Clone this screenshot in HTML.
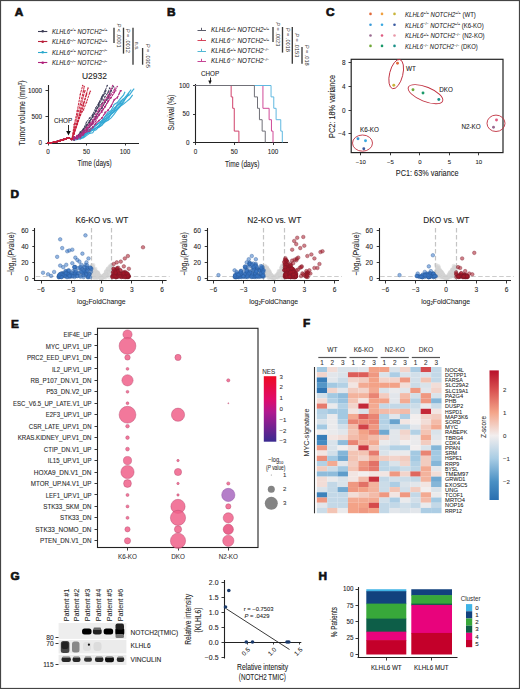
<!DOCTYPE html>
<html><head><meta charset="utf-8"><style>html,body{margin:0;padding:0;background:#fff;width:520px;height:689px;overflow:hidden}svg{display:block}text{font-family:"Liberation Sans", sans-serif}</style></head>
<body><svg width="520" height="689" viewBox="0 0 520 689" font-family='"Liberation Sans", sans-serif'><rect x="0.00" y="0.00" width="520.00" height="689.00" fill="#fff" />
<rect x="0.5" y="0.5" width="519" height="688" fill="none" stroke="#444" stroke-width="1.2"/>
<text x="14.70" y="16.17" font-size="11.8" text-anchor="start" fill="#111" stroke="#111" stroke-width="0.7" font-weight="bold" font-style="normal" >A</text>
<text x="167.00" y="16.17" font-size="11.8" text-anchor="start" fill="#111" stroke="#111" stroke-width="0.7" font-weight="bold" font-style="normal" >B</text>
<text x="325.90" y="16.47" font-size="11.8" text-anchor="start" fill="#111" stroke="#111" stroke-width="0.7" font-weight="bold" font-style="normal" >C</text>
<text x="10.50" y="198.17" font-size="11.8" text-anchor="start" fill="#111" stroke="#111" stroke-width="0.7" font-weight="bold" font-style="normal" >D</text>
<text x="10.90" y="327.57" font-size="11.8" text-anchor="start" fill="#111" stroke="#111" stroke-width="0.7" font-weight="bold" font-style="normal" >E</text>
<text x="303.10" y="327.47" font-size="11.8" text-anchor="start" fill="#111" stroke="#111" stroke-width="0.7" font-weight="bold" font-style="normal" >F</text>
<text x="10.50" y="579.87" font-size="11.8" text-anchor="start" fill="#111" stroke="#111" stroke-width="0.7" font-weight="bold" font-style="normal" >G</text>
<text x="318.40" y="579.67" font-size="11.8" text-anchor="start" fill="#111" stroke="#111" stroke-width="0.7" font-weight="bold" font-style="normal" >H</text>
<line x1="38.00" y1="31.50" x2="47.30" y2="31.50" stroke="#3d3d55" stroke-width="1.1" />
<circle cx="42.70" cy="31.20" r="1.30" fill="#3d3d55" fill-opacity="1" />
<text x="52" y="33.50" font-size="6.6" font-style="italic" fill="#222" stroke="#222" stroke-width="0.06" textLength="55.4" lengthAdjust="spacingAndGlyphs">KLHL6<tspan font-size="4.4" dy="-2.4">+/+</tspan><tspan dy="2.4"> NOTCH2</tspan><tspan font-size="4.4" dy="-2.4">+/+</tspan></text>
<line x1="38.00" y1="41.50" x2="47.30" y2="41.50" stroke="#b8203a" stroke-width="1.1" />
<circle cx="42.70" cy="41.70" r="1.30" fill="#b8203a" fill-opacity="1" />
<text x="52" y="44.00" font-size="6.6" font-style="italic" fill="#222" stroke="#222" stroke-width="0.06" textLength="55.4" lengthAdjust="spacingAndGlyphs">KLHL6<tspan font-size="4.4" dy="-2.4">−/−</tspan><tspan dy="2.4"> NOTCH2</tspan><tspan font-size="4.4" dy="-2.4">+/+</tspan></text>
<line x1="38.00" y1="52.50" x2="47.30" y2="52.50" stroke="#2aa8cc" stroke-width="1.1" />
<circle cx="42.70" cy="52.20" r="1.30" fill="#2aa8cc" fill-opacity="1" />
<text x="52" y="54.50" font-size="6.6" font-style="italic" fill="#222" stroke="#222" stroke-width="0.06" textLength="55.4" lengthAdjust="spacingAndGlyphs">KLHL6<tspan font-size="4.4" dy="-2.4">+/+</tspan><tspan dy="2.4"> NOTCH2</tspan><tspan font-size="4.4" dy="-2.4">−/−</tspan></text>
<line x1="38.00" y1="62.50" x2="47.30" y2="62.50" stroke="#b0207a" stroke-width="1.1" />
<circle cx="42.70" cy="62.70" r="1.30" fill="#b0207a" fill-opacity="1" />
<text x="52" y="65.00" font-size="6.6" font-style="italic" fill="#222" stroke="#222" stroke-width="0.06" textLength="55.4" lengthAdjust="spacingAndGlyphs">KLHL6<tspan font-size="4.4" dy="-2.4">−/−</tspan><tspan dy="2.4"> NOTCH2</tspan><tspan font-size="4.4" dy="-2.4">−/−</tspan></text>
<line x1="114.00" y1="27.70" x2="114.00" y2="43.00" stroke="#3a3a3a" stroke-width="1.35" />
<line x1="123.50" y1="27.70" x2="123.50" y2="53.60" stroke="#3a3a3a" stroke-width="1.35" />
<line x1="133.00" y1="27.70" x2="133.00" y2="64.70" stroke="#3a3a3a" stroke-width="1.35" />
<line x1="142.60" y1="48.00" x2="142.60" y2="64.70" stroke="#3a3a3a" stroke-width="1.35" />
<text x="118.80" y="35.50" font-size="5.6" text-anchor="middle" fill="#333" transform="rotate(90 118.80 35.50)" dy="2"><tspan font-style="italic">P</tspan> &lt; .0001</text>
<text x="128.00" y="40.80" font-size="5.6" text-anchor="middle" fill="#333" transform="rotate(90 128.00 40.80)" dy="2"><tspan font-style="italic">P</tspan> = .0012</text>
<text x="137.00" y="46.00" font-size="5.6" text-anchor="middle" fill="#333" transform="rotate(90 137.00 46.00)" dy="2">n.s.</text>
<text x="148.00" y="55.80" font-size="5.6" text-anchor="middle" fill="#333" transform="rotate(90 148.00 55.80)" dy="2"><tspan font-style="italic">P</tspan> = .0305</text>
<text x="94.40" y="78.79" font-size="9.4" text-anchor="middle" fill="#222" stroke="#222" stroke-width="0.08" font-weight="normal" font-style="normal" textLength="25" lengthAdjust="spacingAndGlyphs" >U2932</text>
<line x1="48.50" y1="85.00" x2="48.50" y2="143.50" stroke="#222" stroke-width="1.1" />
<line x1="47.50" y1="143.50" x2="139.00" y2="143.50" stroke="#222" stroke-width="1.1" />
<line x1="45.50" y1="143.50" x2="48.00" y2="143.50" stroke="#222" stroke-width="0.9" />
<text x="42.00" y="145.17" font-size="6.3" text-anchor="end" fill="#222" stroke="#222" stroke-width="0.08" font-weight="normal" font-style="normal" >0</text>
<line x1="45.50" y1="116.50" x2="48.00" y2="116.50" stroke="#222" stroke-width="0.9" />
<text x="42.00" y="119.02" font-size="6.3" text-anchor="end" fill="#222" stroke="#222" stroke-width="0.08" font-weight="normal" font-style="normal" >500</text>
<line x1="45.50" y1="90.50" x2="48.00" y2="90.50" stroke="#222" stroke-width="0.9" />
<text x="42.00" y="92.87" font-size="6.3" text-anchor="end" fill="#222" stroke="#222" stroke-width="0.08" font-weight="normal" font-style="normal" >1000</text>
<line x1="48.50" y1="143.00" x2="48.50" y2="145.50" stroke="#222" stroke-width="0.9" />
<text x="48.00" y="154.27" font-size="6.3" text-anchor="middle" fill="#222" stroke="#222" stroke-width="0.08" font-weight="normal" font-style="normal" >0</text>
<line x1="86.50" y1="143.00" x2="86.50" y2="145.50" stroke="#222" stroke-width="0.9" />
<text x="86.50" y="154.27" font-size="6.3" text-anchor="middle" fill="#222" stroke="#222" stroke-width="0.08" font-weight="normal" font-style="normal" >50</text>
<line x1="125.50" y1="143.00" x2="125.50" y2="145.50" stroke="#222" stroke-width="0.9" />
<text x="125.00" y="154.27" font-size="6.3" text-anchor="middle" fill="#222" stroke="#222" stroke-width="0.08" font-weight="normal" font-style="normal" >100</text>
<text x="94.65" y="166.20" font-size="8.7" text-anchor="middle" fill="#222" stroke="#222" stroke-width="0.08" font-weight="normal" font-style="normal" textLength="34.3" lengthAdjust="spacingAndGlyphs" >Time (days)</text>
<text x="22.30" y="116.00" font-size="8.7" text-anchor="middle" fill="#222" stroke="#222" stroke-width="0.08" font-weight="normal" font-style="normal" transform="rotate(-90 22.30 113.00)" textLength="65" lengthAdjust="spacingAndGlyphs" >Tumor volume (mm<tspan font-size="5.5" dy="-3">3</tspan><tspan dy="3">)</tspan></text>
<text x="63.00" y="123.17" font-size="6.3" text-anchor="middle" fill="#222" stroke="#222" stroke-width="0.08" font-weight="normal" font-style="normal" >CHOP</text>
<line x1="68.50" y1="125.00" x2="68.50" y2="132.00" stroke="#111" stroke-width="0.9" />
<path d="M66.2,131 L68.5,135.5 L70.8,131 Z" fill="#111"/>
<path d="M48.0,143.0 L51.1,142.7 L54.2,142.2 L57.2,141.5 L60.3,140.6 L63.4,139.7 L66.5,138.6 L68.8,137.8 L71.9,139.3 L74.2,138.3 L77.3,137.4 L80.3,136.4 L83.4,135.4 L86.5,131.5 L89.6,129.2 L92.7,127.6 L95.7,125.0 L98.8,123.0 L101.9,120.7 L105.0,116.3 L108.1,112.3 L111.1,110.4 L114.2,104.5 L117.3,102.5 L120.4,98.7 L123.5,95.2 L125.0,91.7" fill="none" stroke="#30a8d4" stroke-width="1.15" stroke-opacity="0.95"/>
<path d="M48.0,143.0 L51.1,142.7 L54.2,142.2 L57.2,141.5 L60.3,140.6 L63.4,139.7 L66.5,138.6 L68.8,137.8 L71.9,139.3 L74.2,138.4 L77.3,137.4 L80.3,137.3 L83.4,138.0 L86.5,135.6 L89.6,133.4 L92.7,132.7 L95.7,127.9 L98.8,127.3 L101.9,125.4 L105.0,120.5 L108.1,119.7 L111.1,114.0 L114.2,112.1 L117.3,108.2 L120.4,105.1 L123.5,100.7 L126.5,97.5 L128.9,93.3" fill="none" stroke="#30a8d4" stroke-width="1.15" stroke-opacity="0.95"/>
<path d="M48.0,143.0 L51.1,142.7 L54.2,142.2 L57.2,141.5 L60.3,140.6 L63.4,139.7 L66.5,138.6 L68.8,137.8 L71.9,139.3 L74.2,137.8 L77.3,138.7 L80.3,135.6 L83.4,135.7 L86.5,131.4 L89.6,129.6 L92.7,127.8 L95.7,125.4 L98.8,123.4 L101.9,120.2 L105.0,119.3 L108.1,115.3 L111.1,111.1 L114.2,109.9 L117.3,104.3 L120.4,101.1 L123.5,99.1 L126.5,95.6 L129.6,91.7 L131.2,89.7" fill="none" stroke="#30a8d4" stroke-width="1.15" stroke-opacity="0.95"/>
<path d="M48.0,143.0 L51.1,142.7 L54.2,142.2 L57.2,141.5 L60.3,140.6 L63.4,139.7 L66.5,138.6 L68.8,137.8 L71.9,139.3 L74.2,137.5 L77.3,138.6 L80.3,138.6 L83.4,137.0 L86.5,133.4 L89.6,130.7 L92.7,130.3 L95.7,128.1 L98.8,125.5 L101.9,122.4 L105.0,121.4 L108.1,117.4 L111.1,114.6 L114.2,111.3 L117.3,109.5 L120.4,106.1 L123.5,102.1 L126.5,96.7 L129.6,94.8 L132.7,90.3 L134.2,88.6" fill="none" stroke="#30a8d4" stroke-width="1.15" stroke-opacity="0.95"/>
<path d="M48.0,143.0 L51.1,142.7 L54.2,142.2 L57.2,141.5 L60.3,140.6 L63.4,139.7 L66.5,138.6 L68.8,137.8 L71.9,139.3 L74.2,140.2 L77.3,139.4 L80.3,135.8 L83.4,134.4 L86.5,133.9 L89.6,130.9 L92.7,128.7 L95.7,125.7 L98.8,122.9 L101.9,121.9 L105.0,117.2 L108.1,114.3 L111.1,112.3 L114.2,108.0 L117.3,105.8 L120.4,102.6 L123.5,98.5" fill="none" stroke="#30a8d4" stroke-width="1.15" stroke-opacity="0.95"/>
<path d="M48.0,143.0 L51.1,142.7 L54.2,142.2 L57.2,141.5 L60.3,140.6 L63.4,139.7 L66.5,138.6 L68.8,137.8 L71.9,139.3 L74.2,137.9 L77.3,139.3 L80.3,138.5 L83.4,134.8 L86.5,133.4 L89.6,132.6 L92.7,129.6 L95.7,130.1 L98.8,127.2 L101.9,124.8 L105.0,122.0 L108.1,120.2 L111.1,117.9 L114.2,114.2 L117.3,109.6 L120.4,106.3 L123.5,104.0 L126.5,101.6 L129.6,99.0 L132.7,94.9" fill="none" stroke="#30a8d4" stroke-width="1.15" stroke-opacity="0.95"/>
<path d="M48.0,143.0 L51.1,142.7 L54.2,142.2 L57.2,141.5 L60.3,140.6 L63.4,139.7 L66.5,138.6 L68.8,137.8 L71.9,139.3 L74.2,139.1 L77.3,137.8 L80.3,139.0 L83.4,137.2 L86.5,133.7 L89.6,132.0 L92.7,129.6 L95.7,128.2 L98.8,126.2 L101.9,122.9 L105.0,119.1 L108.1,117.6 L111.1,113.5 L114.2,110.7 L117.3,105.4 L120.4,103.7 L121.2,101.2" fill="none" stroke="#30a8d4" stroke-width="1.15" stroke-opacity="0.95"/>
<path d="M48.0,143.0 L51.1,142.7 L54.2,142.2 L57.2,141.5 L60.3,140.6 L63.4,139.7 L66.5,138.6 L68.8,137.8 L71.9,139.3 L74.2,137.2 L77.3,138.0 L80.3,133.4 L83.4,129.8 L86.5,125.1 L89.6,121.3 L92.7,117.3 L95.7,111.4 L98.8,103.8 L101.9,97.7 L105.0,93.6 L105.8,90.7" fill="none" stroke="#3d3d5a" stroke-width="1.0" stroke-dasharray="2.6,0.7" stroke-opacity="0.95"/>
<circle cx="48.00" cy="143.00" r="0.80" fill="#3d3d5a" fill-opacity="0.9" />
<circle cx="51.08" cy="142.70" r="0.80" fill="#3d3d5a" fill-opacity="0.9" />
<circle cx="54.16" cy="142.16" r="0.80" fill="#3d3d5a" fill-opacity="0.9" />
<circle cx="57.24" cy="141.45" r="0.80" fill="#3d3d5a" fill-opacity="0.9" />
<circle cx="60.32" cy="140.61" r="0.80" fill="#3d3d5a" fill-opacity="0.9" />
<circle cx="63.40" cy="139.67" r="0.80" fill="#3d3d5a" fill-opacity="0.9" />
<circle cx="66.48" cy="138.62" r="0.80" fill="#3d3d5a" fill-opacity="0.9" />
<circle cx="68.79" cy="137.77" r="0.80" fill="#3d3d5a" fill-opacity="0.9" />
<circle cx="71.87" cy="139.34" r="0.80" fill="#3d3d5a" fill-opacity="0.9" />
<circle cx="74.18" cy="137.17" r="0.80" fill="#3d3d5a" fill-opacity="0.9" />
<circle cx="77.26" cy="138.05" r="0.80" fill="#3d3d5a" fill-opacity="0.9" />
<circle cx="80.34" cy="133.42" r="0.80" fill="#3d3d5a" fill-opacity="0.9" />
<circle cx="83.42" cy="129.77" r="0.80" fill="#3d3d5a" fill-opacity="0.9" />
<circle cx="86.50" cy="125.06" r="0.80" fill="#3d3d5a" fill-opacity="0.9" />
<circle cx="89.58" cy="121.34" r="0.80" fill="#3d3d5a" fill-opacity="0.9" />
<circle cx="92.66" cy="117.35" r="0.80" fill="#3d3d5a" fill-opacity="0.9" />
<circle cx="95.74" cy="111.43" r="0.80" fill="#3d3d5a" fill-opacity="0.9" />
<circle cx="98.82" cy="103.83" r="0.80" fill="#3d3d5a" fill-opacity="0.9" />
<circle cx="101.90" cy="97.75" r="0.80" fill="#3d3d5a" fill-opacity="0.9" />
<circle cx="104.98" cy="93.56" r="0.80" fill="#3d3d5a" fill-opacity="0.9" />
<circle cx="105.75" cy="90.70" r="0.80" fill="#3d3d5a" fill-opacity="0.9" />
<path d="M48.0,143.0 L51.1,142.7 L54.2,142.2 L57.2,141.5 L60.3,140.6 L63.4,139.7 L66.5,138.6 L68.8,137.8 L71.9,139.3 L74.2,139.4 L77.3,136.8 L80.3,132.0 L83.4,129.0 L86.5,122.3 L89.6,118.1 L92.7,114.7 L95.7,108.0 L98.8,102.9 L101.9,96.5 L105.0,91.1 L107.3,85.5" fill="none" stroke="#3d3d5a" stroke-width="1.0" stroke-dasharray="2.6,0.7" stroke-opacity="0.95"/>
<circle cx="48.00" cy="143.00" r="0.80" fill="#3d3d5a" fill-opacity="0.9" />
<circle cx="51.08" cy="142.70" r="0.80" fill="#3d3d5a" fill-opacity="0.9" />
<circle cx="54.16" cy="142.16" r="0.80" fill="#3d3d5a" fill-opacity="0.9" />
<circle cx="57.24" cy="141.45" r="0.80" fill="#3d3d5a" fill-opacity="0.9" />
<circle cx="60.32" cy="140.61" r="0.80" fill="#3d3d5a" fill-opacity="0.9" />
<circle cx="63.40" cy="139.67" r="0.80" fill="#3d3d5a" fill-opacity="0.9" />
<circle cx="66.48" cy="138.62" r="0.80" fill="#3d3d5a" fill-opacity="0.9" />
<circle cx="68.79" cy="137.77" r="0.80" fill="#3d3d5a" fill-opacity="0.9" />
<circle cx="71.87" cy="139.34" r="0.80" fill="#3d3d5a" fill-opacity="0.9" />
<circle cx="74.18" cy="139.36" r="0.80" fill="#3d3d5a" fill-opacity="0.9" />
<circle cx="77.26" cy="136.81" r="0.80" fill="#3d3d5a" fill-opacity="0.9" />
<circle cx="80.34" cy="132.01" r="0.80" fill="#3d3d5a" fill-opacity="0.9" />
<circle cx="83.42" cy="128.97" r="0.80" fill="#3d3d5a" fill-opacity="0.9" />
<circle cx="86.50" cy="122.26" r="0.80" fill="#3d3d5a" fill-opacity="0.9" />
<circle cx="89.58" cy="118.13" r="0.80" fill="#3d3d5a" fill-opacity="0.9" />
<circle cx="92.66" cy="114.67" r="0.80" fill="#3d3d5a" fill-opacity="0.9" />
<circle cx="95.74" cy="107.95" r="0.80" fill="#3d3d5a" fill-opacity="0.9" />
<circle cx="98.82" cy="102.93" r="0.80" fill="#3d3d5a" fill-opacity="0.9" />
<circle cx="101.90" cy="96.45" r="0.80" fill="#3d3d5a" fill-opacity="0.9" />
<circle cx="104.98" cy="91.13" r="0.80" fill="#3d3d5a" fill-opacity="0.9" />
<circle cx="107.29" cy="85.47" r="0.80" fill="#3d3d5a" fill-opacity="0.9" />
<path d="M48.0,143.0 L51.1,142.7 L54.2,142.2 L57.2,141.5 L60.3,140.6 L63.4,139.7 L66.5,138.6 L68.8,137.8 L71.9,139.3 L74.2,139.3 L77.3,136.4 L80.3,132.3 L83.4,129.4 L86.5,127.2 L89.6,120.9 L92.7,115.9 L95.7,111.5 L98.8,106.4 L101.9,103.6 L105.0,96.8 L108.1,92.4 L109.6,88.1" fill="none" stroke="#3d3d5a" stroke-width="1.0" stroke-dasharray="2.6,0.7" stroke-opacity="0.95"/>
<circle cx="48.00" cy="143.00" r="0.80" fill="#3d3d5a" fill-opacity="0.9" />
<circle cx="51.08" cy="142.70" r="0.80" fill="#3d3d5a" fill-opacity="0.9" />
<circle cx="54.16" cy="142.16" r="0.80" fill="#3d3d5a" fill-opacity="0.9" />
<circle cx="57.24" cy="141.45" r="0.80" fill="#3d3d5a" fill-opacity="0.9" />
<circle cx="60.32" cy="140.61" r="0.80" fill="#3d3d5a" fill-opacity="0.9" />
<circle cx="63.40" cy="139.67" r="0.80" fill="#3d3d5a" fill-opacity="0.9" />
<circle cx="66.48" cy="138.62" r="0.80" fill="#3d3d5a" fill-opacity="0.9" />
<circle cx="68.79" cy="137.77" r="0.80" fill="#3d3d5a" fill-opacity="0.9" />
<circle cx="71.87" cy="139.34" r="0.80" fill="#3d3d5a" fill-opacity="0.9" />
<circle cx="74.18" cy="139.30" r="0.80" fill="#3d3d5a" fill-opacity="0.9" />
<circle cx="77.26" cy="136.36" r="0.80" fill="#3d3d5a" fill-opacity="0.9" />
<circle cx="80.34" cy="132.35" r="0.80" fill="#3d3d5a" fill-opacity="0.9" />
<circle cx="83.42" cy="129.41" r="0.80" fill="#3d3d5a" fill-opacity="0.9" />
<circle cx="86.50" cy="127.16" r="0.80" fill="#3d3d5a" fill-opacity="0.9" />
<circle cx="89.58" cy="120.90" r="0.80" fill="#3d3d5a" fill-opacity="0.9" />
<circle cx="92.66" cy="115.91" r="0.80" fill="#3d3d5a" fill-opacity="0.9" />
<circle cx="95.74" cy="111.48" r="0.80" fill="#3d3d5a" fill-opacity="0.9" />
<circle cx="98.82" cy="106.42" r="0.80" fill="#3d3d5a" fill-opacity="0.9" />
<circle cx="101.90" cy="103.65" r="0.80" fill="#3d3d5a" fill-opacity="0.9" />
<circle cx="104.98" cy="96.76" r="0.80" fill="#3d3d5a" fill-opacity="0.9" />
<circle cx="108.06" cy="92.36" r="0.80" fill="#3d3d5a" fill-opacity="0.9" />
<circle cx="109.60" cy="88.09" r="0.80" fill="#3d3d5a" fill-opacity="0.9" />
<path d="M48.0,143.0 L51.1,142.7 L54.2,142.2 L57.2,141.5 L60.3,140.6 L63.4,139.7 L66.5,138.6 L68.8,137.8 L71.9,139.3 L74.2,139.8 L77.3,136.6 L80.3,135.8 L83.4,131.7 L86.5,129.7 L89.6,126.9 L92.7,121.9 L95.7,117.8 L98.8,111.2 L101.9,108.1 L105.0,102.2 L108.1,96.4 L111.1,90.7" fill="none" stroke="#3d3d5a" stroke-width="1.0" stroke-dasharray="2.6,0.7" stroke-opacity="0.95"/>
<circle cx="48.00" cy="143.00" r="0.80" fill="#3d3d5a" fill-opacity="0.9" />
<circle cx="51.08" cy="142.70" r="0.80" fill="#3d3d5a" fill-opacity="0.9" />
<circle cx="54.16" cy="142.16" r="0.80" fill="#3d3d5a" fill-opacity="0.9" />
<circle cx="57.24" cy="141.45" r="0.80" fill="#3d3d5a" fill-opacity="0.9" />
<circle cx="60.32" cy="140.61" r="0.80" fill="#3d3d5a" fill-opacity="0.9" />
<circle cx="63.40" cy="139.67" r="0.80" fill="#3d3d5a" fill-opacity="0.9" />
<circle cx="66.48" cy="138.62" r="0.80" fill="#3d3d5a" fill-opacity="0.9" />
<circle cx="68.79" cy="137.77" r="0.80" fill="#3d3d5a" fill-opacity="0.9" />
<circle cx="71.87" cy="139.34" r="0.80" fill="#3d3d5a" fill-opacity="0.9" />
<circle cx="74.18" cy="139.80" r="0.80" fill="#3d3d5a" fill-opacity="0.9" />
<circle cx="77.26" cy="136.56" r="0.80" fill="#3d3d5a" fill-opacity="0.9" />
<circle cx="80.34" cy="135.80" r="0.80" fill="#3d3d5a" fill-opacity="0.9" />
<circle cx="83.42" cy="131.68" r="0.80" fill="#3d3d5a" fill-opacity="0.9" />
<circle cx="86.50" cy="129.70" r="0.80" fill="#3d3d5a" fill-opacity="0.9" />
<circle cx="89.58" cy="126.95" r="0.80" fill="#3d3d5a" fill-opacity="0.9" />
<circle cx="92.66" cy="121.87" r="0.80" fill="#3d3d5a" fill-opacity="0.9" />
<circle cx="95.74" cy="117.78" r="0.80" fill="#3d3d5a" fill-opacity="0.9" />
<circle cx="98.82" cy="111.24" r="0.80" fill="#3d3d5a" fill-opacity="0.9" />
<circle cx="101.90" cy="108.14" r="0.80" fill="#3d3d5a" fill-opacity="0.9" />
<circle cx="104.98" cy="102.18" r="0.80" fill="#3d3d5a" fill-opacity="0.9" />
<circle cx="108.06" cy="96.43" r="0.80" fill="#3d3d5a" fill-opacity="0.9" />
<circle cx="111.14" cy="90.70" r="0.80" fill="#3d3d5a" fill-opacity="0.9" />
<path d="M48.0,143.0 L51.1,142.7 L54.2,142.2 L57.2,141.5 L60.3,140.6 L63.4,139.7 L66.5,138.6 L68.8,137.8 L71.9,139.3 L74.2,140.0 L77.3,136.5 L80.3,134.1 L83.4,130.0 L86.5,125.2 L89.6,122.7 L92.7,116.3 L95.7,111.1 L98.8,104.8 L101.9,99.7 L103.4,94.9" fill="none" stroke="#3d3d5a" stroke-width="1.0" stroke-dasharray="2.6,0.7" stroke-opacity="0.95"/>
<circle cx="48.00" cy="143.00" r="0.80" fill="#3d3d5a" fill-opacity="0.9" />
<circle cx="51.08" cy="142.70" r="0.80" fill="#3d3d5a" fill-opacity="0.9" />
<circle cx="54.16" cy="142.16" r="0.80" fill="#3d3d5a" fill-opacity="0.9" />
<circle cx="57.24" cy="141.45" r="0.80" fill="#3d3d5a" fill-opacity="0.9" />
<circle cx="60.32" cy="140.61" r="0.80" fill="#3d3d5a" fill-opacity="0.9" />
<circle cx="63.40" cy="139.67" r="0.80" fill="#3d3d5a" fill-opacity="0.9" />
<circle cx="66.48" cy="138.62" r="0.80" fill="#3d3d5a" fill-opacity="0.9" />
<circle cx="68.79" cy="137.77" r="0.80" fill="#3d3d5a" fill-opacity="0.9" />
<circle cx="71.87" cy="139.34" r="0.80" fill="#3d3d5a" fill-opacity="0.9" />
<circle cx="74.18" cy="139.98" r="0.80" fill="#3d3d5a" fill-opacity="0.9" />
<circle cx="77.26" cy="136.55" r="0.80" fill="#3d3d5a" fill-opacity="0.9" />
<circle cx="80.34" cy="134.14" r="0.80" fill="#3d3d5a" fill-opacity="0.9" />
<circle cx="83.42" cy="130.01" r="0.80" fill="#3d3d5a" fill-opacity="0.9" />
<circle cx="86.50" cy="125.23" r="0.80" fill="#3d3d5a" fill-opacity="0.9" />
<circle cx="89.58" cy="122.65" r="0.80" fill="#3d3d5a" fill-opacity="0.9" />
<circle cx="92.66" cy="116.25" r="0.80" fill="#3d3d5a" fill-opacity="0.9" />
<circle cx="95.74" cy="111.11" r="0.80" fill="#3d3d5a" fill-opacity="0.9" />
<circle cx="98.82" cy="104.82" r="0.80" fill="#3d3d5a" fill-opacity="0.9" />
<circle cx="101.90" cy="99.74" r="0.80" fill="#3d3d5a" fill-opacity="0.9" />
<circle cx="103.44" cy="94.88" r="0.80" fill="#3d3d5a" fill-opacity="0.9" />
<path d="M48.0,143.0 L51.1,142.7 L54.2,142.2 L57.2,141.5 L60.3,140.6 L63.4,139.7 L66.5,138.6 L68.8,137.8 L71.9,139.3 L74.2,137.3 L77.3,137.8 L80.3,135.7 L83.4,130.9 L86.5,130.6 L89.6,127.1 L92.7,123.2 L95.7,116.5 L98.8,112.1 L101.9,108.1 L105.0,102.2 L108.1,98.5 L111.1,90.7 L113.5,86.5" fill="none" stroke="#3d3d5a" stroke-width="1.0" stroke-dasharray="2.6,0.7" stroke-opacity="0.95"/>
<circle cx="48.00" cy="143.00" r="0.80" fill="#3d3d5a" fill-opacity="0.9" />
<circle cx="51.08" cy="142.70" r="0.80" fill="#3d3d5a" fill-opacity="0.9" />
<circle cx="54.16" cy="142.16" r="0.80" fill="#3d3d5a" fill-opacity="0.9" />
<circle cx="57.24" cy="141.45" r="0.80" fill="#3d3d5a" fill-opacity="0.9" />
<circle cx="60.32" cy="140.61" r="0.80" fill="#3d3d5a" fill-opacity="0.9" />
<circle cx="63.40" cy="139.67" r="0.80" fill="#3d3d5a" fill-opacity="0.9" />
<circle cx="66.48" cy="138.62" r="0.80" fill="#3d3d5a" fill-opacity="0.9" />
<circle cx="68.79" cy="137.77" r="0.80" fill="#3d3d5a" fill-opacity="0.9" />
<circle cx="71.87" cy="139.34" r="0.80" fill="#3d3d5a" fill-opacity="0.9" />
<circle cx="74.18" cy="137.32" r="0.80" fill="#3d3d5a" fill-opacity="0.9" />
<circle cx="77.26" cy="137.76" r="0.80" fill="#3d3d5a" fill-opacity="0.9" />
<circle cx="80.34" cy="135.73" r="0.80" fill="#3d3d5a" fill-opacity="0.9" />
<circle cx="83.42" cy="130.94" r="0.80" fill="#3d3d5a" fill-opacity="0.9" />
<circle cx="86.50" cy="130.58" r="0.80" fill="#3d3d5a" fill-opacity="0.9" />
<circle cx="89.58" cy="127.12" r="0.80" fill="#3d3d5a" fill-opacity="0.9" />
<circle cx="92.66" cy="123.19" r="0.80" fill="#3d3d5a" fill-opacity="0.9" />
<circle cx="95.74" cy="116.55" r="0.80" fill="#3d3d5a" fill-opacity="0.9" />
<circle cx="98.82" cy="112.07" r="0.80" fill="#3d3d5a" fill-opacity="0.9" />
<circle cx="101.90" cy="108.06" r="0.80" fill="#3d3d5a" fill-opacity="0.9" />
<circle cx="104.98" cy="102.22" r="0.80" fill="#3d3d5a" fill-opacity="0.9" />
<circle cx="108.06" cy="98.51" r="0.80" fill="#3d3d5a" fill-opacity="0.9" />
<circle cx="111.14" cy="90.66" r="0.80" fill="#3d3d5a" fill-opacity="0.9" />
<circle cx="113.45" cy="86.52" r="0.80" fill="#3d3d5a" fill-opacity="0.9" />
<path d="M48.0,143.0 L51.1,142.7 L54.2,142.2 L57.2,141.5 L60.3,140.6 L63.4,139.7 L66.5,138.6 L68.8,137.8 L71.9,139.3 L74.2,138.5 L77.3,137.0 L80.3,134.4 L83.4,131.9 L86.5,129.0 L89.6,123.9 L92.7,120.3 L95.7,114.4 L98.8,109.2 L101.9,104.5 L105.0,100.0 L108.1,95.1 L111.1,88.8 L112.7,85.5" fill="none" stroke="#b02a80" stroke-width="1.0" stroke-dasharray="2.6,0.7" stroke-opacity="0.95"/>
<circle cx="48.00" cy="143.00" r="0.80" fill="#b02a80" fill-opacity="0.9" />
<circle cx="51.08" cy="142.70" r="0.80" fill="#b02a80" fill-opacity="0.9" />
<circle cx="54.16" cy="142.16" r="0.80" fill="#b02a80" fill-opacity="0.9" />
<circle cx="57.24" cy="141.45" r="0.80" fill="#b02a80" fill-opacity="0.9" />
<circle cx="60.32" cy="140.61" r="0.80" fill="#b02a80" fill-opacity="0.9" />
<circle cx="63.40" cy="139.67" r="0.80" fill="#b02a80" fill-opacity="0.9" />
<circle cx="66.48" cy="138.62" r="0.80" fill="#b02a80" fill-opacity="0.9" />
<circle cx="68.79" cy="137.77" r="0.80" fill="#b02a80" fill-opacity="0.9" />
<circle cx="71.87" cy="139.34" r="0.80" fill="#b02a80" fill-opacity="0.9" />
<circle cx="74.18" cy="138.52" r="0.80" fill="#b02a80" fill-opacity="0.9" />
<circle cx="77.26" cy="137.01" r="0.80" fill="#b02a80" fill-opacity="0.9" />
<circle cx="80.34" cy="134.41" r="0.80" fill="#b02a80" fill-opacity="0.9" />
<circle cx="83.42" cy="131.91" r="0.80" fill="#b02a80" fill-opacity="0.9" />
<circle cx="86.50" cy="128.99" r="0.80" fill="#b02a80" fill-opacity="0.9" />
<circle cx="89.58" cy="123.92" r="0.80" fill="#b02a80" fill-opacity="0.9" />
<circle cx="92.66" cy="120.32" r="0.80" fill="#b02a80" fill-opacity="0.9" />
<circle cx="95.74" cy="114.38" r="0.80" fill="#b02a80" fill-opacity="0.9" />
<circle cx="98.82" cy="109.23" r="0.80" fill="#b02a80" fill-opacity="0.9" />
<circle cx="101.90" cy="104.45" r="0.80" fill="#b02a80" fill-opacity="0.9" />
<circle cx="104.98" cy="99.97" r="0.80" fill="#b02a80" fill-opacity="0.9" />
<circle cx="108.06" cy="95.09" r="0.80" fill="#b02a80" fill-opacity="0.9" />
<circle cx="111.14" cy="88.82" r="0.80" fill="#b02a80" fill-opacity="0.9" />
<circle cx="112.68" cy="85.47" r="0.80" fill="#b02a80" fill-opacity="0.9" />
<path d="M48.0,143.0 L51.1,142.7 L54.2,142.2 L57.2,141.5 L60.3,140.6 L63.4,139.7 L66.5,138.6 L68.8,137.8 L71.9,139.3 L74.2,138.3 L77.3,135.8 L80.3,136.5 L83.4,132.8 L86.5,130.0 L89.6,126.1 L92.7,122.2 L95.7,118.9 L98.8,115.5 L101.9,111.0 L105.0,106.9 L108.1,101.8 L111.1,97.5 L114.2,92.7 L115.8,90.7" fill="none" stroke="#b02a80" stroke-width="1.0" stroke-dasharray="2.6,0.7" stroke-opacity="0.95"/>
<circle cx="48.00" cy="143.00" r="0.80" fill="#b02a80" fill-opacity="0.9" />
<circle cx="51.08" cy="142.70" r="0.80" fill="#b02a80" fill-opacity="0.9" />
<circle cx="54.16" cy="142.16" r="0.80" fill="#b02a80" fill-opacity="0.9" />
<circle cx="57.24" cy="141.45" r="0.80" fill="#b02a80" fill-opacity="0.9" />
<circle cx="60.32" cy="140.61" r="0.80" fill="#b02a80" fill-opacity="0.9" />
<circle cx="63.40" cy="139.67" r="0.80" fill="#b02a80" fill-opacity="0.9" />
<circle cx="66.48" cy="138.62" r="0.80" fill="#b02a80" fill-opacity="0.9" />
<circle cx="68.79" cy="137.77" r="0.80" fill="#b02a80" fill-opacity="0.9" />
<circle cx="71.87" cy="139.34" r="0.80" fill="#b02a80" fill-opacity="0.9" />
<circle cx="74.18" cy="138.33" r="0.80" fill="#b02a80" fill-opacity="0.9" />
<circle cx="77.26" cy="135.77" r="0.80" fill="#b02a80" fill-opacity="0.9" />
<circle cx="80.34" cy="136.49" r="0.80" fill="#b02a80" fill-opacity="0.9" />
<circle cx="83.42" cy="132.80" r="0.80" fill="#b02a80" fill-opacity="0.9" />
<circle cx="86.50" cy="129.96" r="0.80" fill="#b02a80" fill-opacity="0.9" />
<circle cx="89.58" cy="126.15" r="0.80" fill="#b02a80" fill-opacity="0.9" />
<circle cx="92.66" cy="122.21" r="0.80" fill="#b02a80" fill-opacity="0.9" />
<circle cx="95.74" cy="118.91" r="0.80" fill="#b02a80" fill-opacity="0.9" />
<circle cx="98.82" cy="115.49" r="0.80" fill="#b02a80" fill-opacity="0.9" />
<circle cx="101.90" cy="110.96" r="0.80" fill="#b02a80" fill-opacity="0.9" />
<circle cx="104.98" cy="106.91" r="0.80" fill="#b02a80" fill-opacity="0.9" />
<circle cx="108.06" cy="101.77" r="0.80" fill="#b02a80" fill-opacity="0.9" />
<circle cx="111.14" cy="97.53" r="0.80" fill="#b02a80" fill-opacity="0.9" />
<circle cx="114.22" cy="92.66" r="0.80" fill="#b02a80" fill-opacity="0.9" />
<circle cx="115.76" cy="90.70" r="0.80" fill="#b02a80" fill-opacity="0.9" />
<path d="M48.0,143.0 L51.1,142.7 L54.2,142.2 L57.2,141.5 L60.3,140.6 L63.4,139.7 L66.5,138.6 L68.8,137.8 L71.9,139.3 L74.2,137.3 L77.3,137.2 L80.3,134.1 L83.4,130.8 L86.5,127.4 L89.6,124.0 L92.7,123.5 L95.7,118.8 L98.8,114.8 L101.9,110.4 L105.0,106.8 L108.1,101.0 L111.1,97.7 L114.2,92.2 L117.3,86.5" fill="none" stroke="#b02a80" stroke-width="1.0" stroke-dasharray="2.6,0.7" stroke-opacity="0.95"/>
<circle cx="48.00" cy="143.00" r="0.80" fill="#b02a80" fill-opacity="0.9" />
<circle cx="51.08" cy="142.70" r="0.80" fill="#b02a80" fill-opacity="0.9" />
<circle cx="54.16" cy="142.16" r="0.80" fill="#b02a80" fill-opacity="0.9" />
<circle cx="57.24" cy="141.45" r="0.80" fill="#b02a80" fill-opacity="0.9" />
<circle cx="60.32" cy="140.61" r="0.80" fill="#b02a80" fill-opacity="0.9" />
<circle cx="63.40" cy="139.67" r="0.80" fill="#b02a80" fill-opacity="0.9" />
<circle cx="66.48" cy="138.62" r="0.80" fill="#b02a80" fill-opacity="0.9" />
<circle cx="68.79" cy="137.77" r="0.80" fill="#b02a80" fill-opacity="0.9" />
<circle cx="71.87" cy="139.34" r="0.80" fill="#b02a80" fill-opacity="0.9" />
<circle cx="74.18" cy="137.27" r="0.80" fill="#b02a80" fill-opacity="0.9" />
<circle cx="77.26" cy="137.16" r="0.80" fill="#b02a80" fill-opacity="0.9" />
<circle cx="80.34" cy="134.14" r="0.80" fill="#b02a80" fill-opacity="0.9" />
<circle cx="83.42" cy="130.80" r="0.80" fill="#b02a80" fill-opacity="0.9" />
<circle cx="86.50" cy="127.36" r="0.80" fill="#b02a80" fill-opacity="0.9" />
<circle cx="89.58" cy="123.99" r="0.80" fill="#b02a80" fill-opacity="0.9" />
<circle cx="92.66" cy="123.53" r="0.80" fill="#b02a80" fill-opacity="0.9" />
<circle cx="95.74" cy="118.79" r="0.80" fill="#b02a80" fill-opacity="0.9" />
<circle cx="98.82" cy="114.81" r="0.80" fill="#b02a80" fill-opacity="0.9" />
<circle cx="101.90" cy="110.38" r="0.80" fill="#b02a80" fill-opacity="0.9" />
<circle cx="104.98" cy="106.78" r="0.80" fill="#b02a80" fill-opacity="0.9" />
<circle cx="108.06" cy="100.96" r="0.80" fill="#b02a80" fill-opacity="0.9" />
<circle cx="111.14" cy="97.73" r="0.80" fill="#b02a80" fill-opacity="0.9" />
<circle cx="114.22" cy="92.16" r="0.80" fill="#b02a80" fill-opacity="0.9" />
<circle cx="117.30" cy="86.52" r="0.80" fill="#b02a80" fill-opacity="0.9" />
<path d="M48.0,143.0 L51.1,142.7 L54.2,142.2 L57.2,141.5 L60.3,140.6 L63.4,139.7 L66.5,138.6 L68.8,137.8 L71.9,139.3 L74.2,138.2 L77.3,138.1 L80.3,137.8 L83.4,133.3 L86.5,132.0 L89.6,131.0 L92.7,127.9 L95.7,123.9 L98.8,120.5 L101.9,118.3 L105.0,112.3 L108.1,110.3 L111.1,106.3 L114.2,100.0 L117.3,97.5 L119.6,92.8" fill="none" stroke="#b02a80" stroke-width="1.0" stroke-dasharray="2.6,0.7" stroke-opacity="0.95"/>
<circle cx="48.00" cy="143.00" r="0.80" fill="#b02a80" fill-opacity="0.9" />
<circle cx="51.08" cy="142.70" r="0.80" fill="#b02a80" fill-opacity="0.9" />
<circle cx="54.16" cy="142.16" r="0.80" fill="#b02a80" fill-opacity="0.9" />
<circle cx="57.24" cy="141.45" r="0.80" fill="#b02a80" fill-opacity="0.9" />
<circle cx="60.32" cy="140.61" r="0.80" fill="#b02a80" fill-opacity="0.9" />
<circle cx="63.40" cy="139.67" r="0.80" fill="#b02a80" fill-opacity="0.9" />
<circle cx="66.48" cy="138.62" r="0.80" fill="#b02a80" fill-opacity="0.9" />
<circle cx="68.79" cy="137.77" r="0.80" fill="#b02a80" fill-opacity="0.9" />
<circle cx="71.87" cy="139.34" r="0.80" fill="#b02a80" fill-opacity="0.9" />
<circle cx="74.18" cy="138.25" r="0.80" fill="#b02a80" fill-opacity="0.9" />
<circle cx="77.26" cy="138.14" r="0.80" fill="#b02a80" fill-opacity="0.9" />
<circle cx="80.34" cy="137.80" r="0.80" fill="#b02a80" fill-opacity="0.9" />
<circle cx="83.42" cy="133.32" r="0.80" fill="#b02a80" fill-opacity="0.9" />
<circle cx="86.50" cy="131.95" r="0.80" fill="#b02a80" fill-opacity="0.9" />
<circle cx="89.58" cy="131.05" r="0.80" fill="#b02a80" fill-opacity="0.9" />
<circle cx="92.66" cy="127.88" r="0.80" fill="#b02a80" fill-opacity="0.9" />
<circle cx="95.74" cy="123.89" r="0.80" fill="#b02a80" fill-opacity="0.9" />
<circle cx="98.82" cy="120.47" r="0.80" fill="#b02a80" fill-opacity="0.9" />
<circle cx="101.90" cy="118.26" r="0.80" fill="#b02a80" fill-opacity="0.9" />
<circle cx="104.98" cy="112.32" r="0.80" fill="#b02a80" fill-opacity="0.9" />
<circle cx="108.06" cy="110.29" r="0.80" fill="#b02a80" fill-opacity="0.9" />
<circle cx="111.14" cy="106.27" r="0.80" fill="#b02a80" fill-opacity="0.9" />
<circle cx="114.22" cy="99.98" r="0.80" fill="#b02a80" fill-opacity="0.9" />
<circle cx="117.30" cy="97.50" r="0.80" fill="#b02a80" fill-opacity="0.9" />
<circle cx="119.61" cy="92.79" r="0.80" fill="#b02a80" fill-opacity="0.9" />
<path d="M48.0,143.0 L51.1,142.7 L54.2,142.2 L57.2,141.5 L60.3,140.6 L63.4,139.7 L66.5,138.6 L68.8,137.8 L71.9,139.3 L74.2,139.9 L77.3,137.5 L80.3,136.9 L83.4,134.6 L86.5,130.6 L89.6,129.5 L92.7,126.8 L95.7,123.2 L98.8,121.0 L101.9,117.8 L105.0,113.5 L108.1,110.0 L111.1,106.1 L114.2,99.5 L117.3,97.9 L120.4,90.9 L121.2,90.7" fill="none" stroke="#b02a80" stroke-width="1.0" stroke-dasharray="2.6,0.7" stroke-opacity="0.95"/>
<circle cx="48.00" cy="143.00" r="0.80" fill="#b02a80" fill-opacity="0.9" />
<circle cx="51.08" cy="142.70" r="0.80" fill="#b02a80" fill-opacity="0.9" />
<circle cx="54.16" cy="142.16" r="0.80" fill="#b02a80" fill-opacity="0.9" />
<circle cx="57.24" cy="141.45" r="0.80" fill="#b02a80" fill-opacity="0.9" />
<circle cx="60.32" cy="140.61" r="0.80" fill="#b02a80" fill-opacity="0.9" />
<circle cx="63.40" cy="139.67" r="0.80" fill="#b02a80" fill-opacity="0.9" />
<circle cx="66.48" cy="138.62" r="0.80" fill="#b02a80" fill-opacity="0.9" />
<circle cx="68.79" cy="137.77" r="0.80" fill="#b02a80" fill-opacity="0.9" />
<circle cx="71.87" cy="139.34" r="0.80" fill="#b02a80" fill-opacity="0.9" />
<circle cx="74.18" cy="139.86" r="0.80" fill="#b02a80" fill-opacity="0.9" />
<circle cx="77.26" cy="137.47" r="0.80" fill="#b02a80" fill-opacity="0.9" />
<circle cx="80.34" cy="136.89" r="0.80" fill="#b02a80" fill-opacity="0.9" />
<circle cx="83.42" cy="134.62" r="0.80" fill="#b02a80" fill-opacity="0.9" />
<circle cx="86.50" cy="130.59" r="0.80" fill="#b02a80" fill-opacity="0.9" />
<circle cx="89.58" cy="129.53" r="0.80" fill="#b02a80" fill-opacity="0.9" />
<circle cx="92.66" cy="126.82" r="0.80" fill="#b02a80" fill-opacity="0.9" />
<circle cx="95.74" cy="123.21" r="0.80" fill="#b02a80" fill-opacity="0.9" />
<circle cx="98.82" cy="120.99" r="0.80" fill="#b02a80" fill-opacity="0.9" />
<circle cx="101.90" cy="117.84" r="0.80" fill="#b02a80" fill-opacity="0.9" />
<circle cx="104.98" cy="113.49" r="0.80" fill="#b02a80" fill-opacity="0.9" />
<circle cx="108.06" cy="109.95" r="0.80" fill="#b02a80" fill-opacity="0.9" />
<circle cx="111.14" cy="106.14" r="0.80" fill="#b02a80" fill-opacity="0.9" />
<circle cx="114.22" cy="99.46" r="0.80" fill="#b02a80" fill-opacity="0.9" />
<circle cx="117.30" cy="97.94" r="0.80" fill="#b02a80" fill-opacity="0.9" />
<circle cx="120.38" cy="90.90" r="0.80" fill="#b02a80" fill-opacity="0.9" />
<circle cx="121.15" cy="90.70" r="0.80" fill="#b02a80" fill-opacity="0.9" />
<path d="M48.0,143.0 L51.1,142.7 L54.2,142.2 L57.2,141.5 L60.3,140.6 L63.4,139.7 L66.5,138.6 L68.8,137.8 L71.9,139.3 L74.2,138.3 L77.3,139.1 L80.3,135.7 L83.4,134.8 L86.5,130.2 L89.6,126.7 L92.7,124.6 L95.7,121.3 L98.8,115.4 L101.9,112.2 L105.0,106.6 L108.1,101.0 L111.1,94.1 L114.2,90.0 L115.0,88.1" fill="none" stroke="#b02a80" stroke-width="1.0" stroke-dasharray="2.6,0.7" stroke-opacity="0.95"/>
<circle cx="48.00" cy="143.00" r="0.80" fill="#b02a80" fill-opacity="0.9" />
<circle cx="51.08" cy="142.70" r="0.80" fill="#b02a80" fill-opacity="0.9" />
<circle cx="54.16" cy="142.16" r="0.80" fill="#b02a80" fill-opacity="0.9" />
<circle cx="57.24" cy="141.45" r="0.80" fill="#b02a80" fill-opacity="0.9" />
<circle cx="60.32" cy="140.61" r="0.80" fill="#b02a80" fill-opacity="0.9" />
<circle cx="63.40" cy="139.67" r="0.80" fill="#b02a80" fill-opacity="0.9" />
<circle cx="66.48" cy="138.62" r="0.80" fill="#b02a80" fill-opacity="0.9" />
<circle cx="68.79" cy="137.77" r="0.80" fill="#b02a80" fill-opacity="0.9" />
<circle cx="71.87" cy="139.34" r="0.80" fill="#b02a80" fill-opacity="0.9" />
<circle cx="74.18" cy="138.26" r="0.80" fill="#b02a80" fill-opacity="0.9" />
<circle cx="77.26" cy="139.12" r="0.80" fill="#b02a80" fill-opacity="0.9" />
<circle cx="80.34" cy="135.73" r="0.80" fill="#b02a80" fill-opacity="0.9" />
<circle cx="83.42" cy="134.80" r="0.80" fill="#b02a80" fill-opacity="0.9" />
<circle cx="86.50" cy="130.20" r="0.80" fill="#b02a80" fill-opacity="0.9" />
<circle cx="89.58" cy="126.70" r="0.80" fill="#b02a80" fill-opacity="0.9" />
<circle cx="92.66" cy="124.55" r="0.80" fill="#b02a80" fill-opacity="0.9" />
<circle cx="95.74" cy="121.34" r="0.80" fill="#b02a80" fill-opacity="0.9" />
<circle cx="98.82" cy="115.38" r="0.80" fill="#b02a80" fill-opacity="0.9" />
<circle cx="101.90" cy="112.20" r="0.80" fill="#b02a80" fill-opacity="0.9" />
<circle cx="104.98" cy="106.62" r="0.80" fill="#b02a80" fill-opacity="0.9" />
<circle cx="108.06" cy="100.96" r="0.80" fill="#b02a80" fill-opacity="0.9" />
<circle cx="111.14" cy="94.10" r="0.80" fill="#b02a80" fill-opacity="0.9" />
<circle cx="114.22" cy="89.98" r="0.80" fill="#b02a80" fill-opacity="0.9" />
<circle cx="114.99" cy="88.09" r="0.80" fill="#b02a80" fill-opacity="0.9" />
<path d="M48.0,143.0 L51.1,142.7 L54.2,142.2 L57.2,141.5 L60.3,140.6 L63.4,139.7 L66.5,138.6 L68.8,137.8 L71.9,139.3 L74.2,137.5 L77.3,135.4 L80.3,133.8 L83.4,132.4 L86.5,128.7 L89.6,124.5 L92.7,120.2 L95.7,117.2 L98.8,111.2 L101.9,106.7 L105.0,101.8 L108.1,97.2 L109.6,95.9" fill="none" stroke="#b02a80" stroke-width="1.0" stroke-dasharray="2.6,0.7" stroke-opacity="0.95"/>
<circle cx="48.00" cy="143.00" r="0.80" fill="#b02a80" fill-opacity="0.9" />
<circle cx="51.08" cy="142.70" r="0.80" fill="#b02a80" fill-opacity="0.9" />
<circle cx="54.16" cy="142.16" r="0.80" fill="#b02a80" fill-opacity="0.9" />
<circle cx="57.24" cy="141.45" r="0.80" fill="#b02a80" fill-opacity="0.9" />
<circle cx="60.32" cy="140.61" r="0.80" fill="#b02a80" fill-opacity="0.9" />
<circle cx="63.40" cy="139.67" r="0.80" fill="#b02a80" fill-opacity="0.9" />
<circle cx="66.48" cy="138.62" r="0.80" fill="#b02a80" fill-opacity="0.9" />
<circle cx="68.79" cy="137.77" r="0.80" fill="#b02a80" fill-opacity="0.9" />
<circle cx="71.87" cy="139.34" r="0.80" fill="#b02a80" fill-opacity="0.9" />
<circle cx="74.18" cy="137.53" r="0.80" fill="#b02a80" fill-opacity="0.9" />
<circle cx="77.26" cy="135.43" r="0.80" fill="#b02a80" fill-opacity="0.9" />
<circle cx="80.34" cy="133.81" r="0.80" fill="#b02a80" fill-opacity="0.9" />
<circle cx="83.42" cy="132.38" r="0.80" fill="#b02a80" fill-opacity="0.9" />
<circle cx="86.50" cy="128.69" r="0.80" fill="#b02a80" fill-opacity="0.9" />
<circle cx="89.58" cy="124.48" r="0.80" fill="#b02a80" fill-opacity="0.9" />
<circle cx="92.66" cy="120.22" r="0.80" fill="#b02a80" fill-opacity="0.9" />
<circle cx="95.74" cy="117.23" r="0.80" fill="#b02a80" fill-opacity="0.9" />
<circle cx="98.82" cy="111.20" r="0.80" fill="#b02a80" fill-opacity="0.9" />
<circle cx="101.90" cy="106.66" r="0.80" fill="#b02a80" fill-opacity="0.9" />
<circle cx="104.98" cy="101.81" r="0.80" fill="#b02a80" fill-opacity="0.9" />
<circle cx="108.06" cy="97.17" r="0.80" fill="#b02a80" fill-opacity="0.9" />
<circle cx="109.60" cy="95.93" r="0.80" fill="#b02a80" fill-opacity="0.9" />
<path d="M48.0,143.0 L51.1,142.7 L54.2,142.2 L57.2,141.5 L60.3,140.6 L63.4,139.7 L66.5,138.6 L68.8,137.8 L71.9,139.3 L74.2,124.7 L77.3,110.9 L80.3,94.3 L82.7,85.5" fill="none" stroke="#c8203a" stroke-width="1.0" stroke-dasharray="2.6,0.7" stroke-opacity="0.95"/>
<circle cx="48.00" cy="143.00" r="0.80" fill="#c8203a" fill-opacity="0.9" />
<circle cx="51.08" cy="142.70" r="0.80" fill="#c8203a" fill-opacity="0.9" />
<circle cx="54.16" cy="142.16" r="0.80" fill="#c8203a" fill-opacity="0.9" />
<circle cx="57.24" cy="141.45" r="0.80" fill="#c8203a" fill-opacity="0.9" />
<circle cx="60.32" cy="140.61" r="0.80" fill="#c8203a" fill-opacity="0.9" />
<circle cx="63.40" cy="139.67" r="0.80" fill="#c8203a" fill-opacity="0.9" />
<circle cx="66.48" cy="138.62" r="0.80" fill="#c8203a" fill-opacity="0.9" />
<circle cx="68.79" cy="137.77" r="0.80" fill="#c8203a" fill-opacity="0.9" />
<circle cx="71.87" cy="139.34" r="0.80" fill="#c8203a" fill-opacity="0.9" />
<circle cx="74.18" cy="124.66" r="0.80" fill="#c8203a" fill-opacity="0.9" />
<circle cx="77.26" cy="110.88" r="0.80" fill="#c8203a" fill-opacity="0.9" />
<circle cx="80.34" cy="94.26" r="0.80" fill="#c8203a" fill-opacity="0.9" />
<circle cx="82.65" cy="85.47" r="0.80" fill="#c8203a" fill-opacity="0.9" />
<path d="M48.0,143.0 L51.1,142.7 L54.2,142.2 L57.2,141.5 L60.3,140.6 L63.4,139.7 L66.5,138.6 L68.8,137.8 L71.9,139.3 L74.2,131.0 L77.3,121.6 L80.3,110.2 L83.4,95.8 L85.0,90.7" fill="none" stroke="#c8203a" stroke-width="1.0" stroke-dasharray="2.6,0.7" stroke-opacity="0.95"/>
<circle cx="48.00" cy="143.00" r="0.80" fill="#c8203a" fill-opacity="0.9" />
<circle cx="51.08" cy="142.70" r="0.80" fill="#c8203a" fill-opacity="0.9" />
<circle cx="54.16" cy="142.16" r="0.80" fill="#c8203a" fill-opacity="0.9" />
<circle cx="57.24" cy="141.45" r="0.80" fill="#c8203a" fill-opacity="0.9" />
<circle cx="60.32" cy="140.61" r="0.80" fill="#c8203a" fill-opacity="0.9" />
<circle cx="63.40" cy="139.67" r="0.80" fill="#c8203a" fill-opacity="0.9" />
<circle cx="66.48" cy="138.62" r="0.80" fill="#c8203a" fill-opacity="0.9" />
<circle cx="68.79" cy="137.77" r="0.80" fill="#c8203a" fill-opacity="0.9" />
<circle cx="71.87" cy="139.34" r="0.80" fill="#c8203a" fill-opacity="0.9" />
<circle cx="74.18" cy="130.98" r="0.80" fill="#c8203a" fill-opacity="0.9" />
<circle cx="77.26" cy="121.56" r="0.80" fill="#c8203a" fill-opacity="0.9" />
<circle cx="80.34" cy="110.25" r="0.80" fill="#c8203a" fill-opacity="0.9" />
<circle cx="83.42" cy="95.83" r="0.80" fill="#c8203a" fill-opacity="0.9" />
<circle cx="84.96" cy="90.70" r="0.80" fill="#c8203a" fill-opacity="0.9" />
<path d="M48.0,143.0 L51.1,142.7 L54.2,142.2 L57.2,141.5 L60.3,140.6 L63.4,139.7 L66.5,138.6 L68.8,137.8 L71.9,139.3 L74.2,132.1 L77.3,122.9 L80.3,112.1 L83.4,103.6 L86.5,93.8 L88.0,88.1" fill="none" stroke="#c8203a" stroke-width="1.0" stroke-dasharray="2.6,0.7" stroke-opacity="0.95"/>
<circle cx="48.00" cy="143.00" r="0.80" fill="#c8203a" fill-opacity="0.9" />
<circle cx="51.08" cy="142.70" r="0.80" fill="#c8203a" fill-opacity="0.9" />
<circle cx="54.16" cy="142.16" r="0.80" fill="#c8203a" fill-opacity="0.9" />
<circle cx="57.24" cy="141.45" r="0.80" fill="#c8203a" fill-opacity="0.9" />
<circle cx="60.32" cy="140.61" r="0.80" fill="#c8203a" fill-opacity="0.9" />
<circle cx="63.40" cy="139.67" r="0.80" fill="#c8203a" fill-opacity="0.9" />
<circle cx="66.48" cy="138.62" r="0.80" fill="#c8203a" fill-opacity="0.9" />
<circle cx="68.79" cy="137.77" r="0.80" fill="#c8203a" fill-opacity="0.9" />
<circle cx="71.87" cy="139.34" r="0.80" fill="#c8203a" fill-opacity="0.9" />
<circle cx="74.18" cy="132.08" r="0.80" fill="#c8203a" fill-opacity="0.9" />
<circle cx="77.26" cy="122.93" r="0.80" fill="#c8203a" fill-opacity="0.9" />
<circle cx="80.34" cy="112.10" r="0.80" fill="#c8203a" fill-opacity="0.9" />
<circle cx="83.42" cy="103.63" r="0.80" fill="#c8203a" fill-opacity="0.9" />
<circle cx="86.50" cy="93.84" r="0.80" fill="#c8203a" fill-opacity="0.9" />
<circle cx="88.04" cy="88.09" r="0.80" fill="#c8203a" fill-opacity="0.9" />
<path d="M48.0,143.0 L51.1,142.7 L54.2,142.2 L57.2,141.5 L60.3,140.6 L63.4,139.7 L66.5,138.6 L68.8,137.8 L71.9,139.3 L74.2,133.4 L77.3,124.1 L80.3,115.3 L83.4,110.0 L86.5,102.2 L89.6,93.1 L90.3,91.2" fill="none" stroke="#c8203a" stroke-width="1.0" stroke-dasharray="2.6,0.7" stroke-opacity="0.95"/>
<circle cx="48.00" cy="143.00" r="0.80" fill="#c8203a" fill-opacity="0.9" />
<circle cx="51.08" cy="142.70" r="0.80" fill="#c8203a" fill-opacity="0.9" />
<circle cx="54.16" cy="142.16" r="0.80" fill="#c8203a" fill-opacity="0.9" />
<circle cx="57.24" cy="141.45" r="0.80" fill="#c8203a" fill-opacity="0.9" />
<circle cx="60.32" cy="140.61" r="0.80" fill="#c8203a" fill-opacity="0.9" />
<circle cx="63.40" cy="139.67" r="0.80" fill="#c8203a" fill-opacity="0.9" />
<circle cx="66.48" cy="138.62" r="0.80" fill="#c8203a" fill-opacity="0.9" />
<circle cx="68.79" cy="137.77" r="0.80" fill="#c8203a" fill-opacity="0.9" />
<circle cx="71.87" cy="139.34" r="0.80" fill="#c8203a" fill-opacity="0.9" />
<circle cx="74.18" cy="133.38" r="0.80" fill="#c8203a" fill-opacity="0.9" />
<circle cx="77.26" cy="124.12" r="0.80" fill="#c8203a" fill-opacity="0.9" />
<circle cx="80.34" cy="115.29" r="0.80" fill="#c8203a" fill-opacity="0.9" />
<circle cx="83.42" cy="109.98" r="0.80" fill="#c8203a" fill-opacity="0.9" />
<circle cx="86.50" cy="102.21" r="0.80" fill="#c8203a" fill-opacity="0.9" />
<circle cx="89.58" cy="93.10" r="0.80" fill="#c8203a" fill-opacity="0.9" />
<circle cx="90.35" cy="91.22" r="0.80" fill="#c8203a" fill-opacity="0.9" />
<path d="M48.0,143.0 L51.1,142.7 L54.2,142.2 L57.2,141.5 L60.3,140.6 L63.4,139.7 L66.5,138.6 L68.8,137.8 L71.9,139.3 L74.2,133.9 L77.3,124.4 L80.3,115.4 L83.4,105.7 L86.5,94.4" fill="none" stroke="#c8203a" stroke-width="1.0" stroke-dasharray="2.6,0.7" stroke-opacity="0.95"/>
<circle cx="48.00" cy="143.00" r="0.80" fill="#c8203a" fill-opacity="0.9" />
<circle cx="51.08" cy="142.70" r="0.80" fill="#c8203a" fill-opacity="0.9" />
<circle cx="54.16" cy="142.16" r="0.80" fill="#c8203a" fill-opacity="0.9" />
<circle cx="57.24" cy="141.45" r="0.80" fill="#c8203a" fill-opacity="0.9" />
<circle cx="60.32" cy="140.61" r="0.80" fill="#c8203a" fill-opacity="0.9" />
<circle cx="63.40" cy="139.67" r="0.80" fill="#c8203a" fill-opacity="0.9" />
<circle cx="66.48" cy="138.62" r="0.80" fill="#c8203a" fill-opacity="0.9" />
<circle cx="68.79" cy="137.77" r="0.80" fill="#c8203a" fill-opacity="0.9" />
<circle cx="71.87" cy="139.34" r="0.80" fill="#c8203a" fill-opacity="0.9" />
<circle cx="74.18" cy="133.88" r="0.80" fill="#c8203a" fill-opacity="0.9" />
<circle cx="77.26" cy="124.35" r="0.80" fill="#c8203a" fill-opacity="0.9" />
<circle cx="80.34" cy="115.43" r="0.80" fill="#c8203a" fill-opacity="0.9" />
<circle cx="83.42" cy="105.73" r="0.80" fill="#c8203a" fill-opacity="0.9" />
<circle cx="86.50" cy="94.36" r="0.80" fill="#c8203a" fill-opacity="0.9" />
<path d="M48.0,143.0 L51.1,142.7 L54.2,142.2 L57.2,141.5 L60.3,140.6 L63.4,139.7 L66.5,138.6 L68.8,137.8 L71.9,139.3 L74.2,128.8 L77.3,115.7 L80.3,104.1 L83.4,91.1 L84.2,86.5" fill="none" stroke="#c8203a" stroke-width="1.0" stroke-dasharray="2.6,0.7" stroke-opacity="0.95"/>
<circle cx="48.00" cy="143.00" r="0.80" fill="#c8203a" fill-opacity="0.9" />
<circle cx="51.08" cy="142.70" r="0.80" fill="#c8203a" fill-opacity="0.9" />
<circle cx="54.16" cy="142.16" r="0.80" fill="#c8203a" fill-opacity="0.9" />
<circle cx="57.24" cy="141.45" r="0.80" fill="#c8203a" fill-opacity="0.9" />
<circle cx="60.32" cy="140.61" r="0.80" fill="#c8203a" fill-opacity="0.9" />
<circle cx="63.40" cy="139.67" r="0.80" fill="#c8203a" fill-opacity="0.9" />
<circle cx="66.48" cy="138.62" r="0.80" fill="#c8203a" fill-opacity="0.9" />
<circle cx="68.79" cy="137.77" r="0.80" fill="#c8203a" fill-opacity="0.9" />
<circle cx="71.87" cy="139.34" r="0.80" fill="#c8203a" fill-opacity="0.9" />
<circle cx="74.18" cy="128.84" r="0.80" fill="#c8203a" fill-opacity="0.9" />
<circle cx="77.26" cy="115.72" r="0.80" fill="#c8203a" fill-opacity="0.9" />
<circle cx="80.34" cy="104.08" r="0.80" fill="#c8203a" fill-opacity="0.9" />
<circle cx="83.42" cy="91.06" r="0.80" fill="#c8203a" fill-opacity="0.9" />
<circle cx="84.19" cy="86.52" r="0.80" fill="#c8203a" fill-opacity="0.9" />
<line x1="197.50" y1="30.50" x2="206.00" y2="30.50" stroke="#4a4a5a" stroke-width="0.9" />
<line x1="201.50" y1="27.80" x2="201.50" y2="30.00" stroke="#4a4a5a" stroke-width="0.9" />
<text x="211" y="32.30" font-size="6.6" font-style="italic" fill="#222" stroke="#222" stroke-width="0.06" textLength="58" lengthAdjust="spacingAndGlyphs">KLHL6<tspan font-size="4" dy="-2.3">+/+</tspan><tspan dy="2.3"> NOTCH2</tspan><tspan font-size="4" dy="-2.3">+/+</tspan></text>
<line x1="197.50" y1="40.50" x2="206.00" y2="40.50" stroke="#d0304a" stroke-width="0.9" />
<line x1="201.50" y1="38.30" x2="201.50" y2="40.50" stroke="#d0304a" stroke-width="0.9" />
<text x="211" y="42.80" font-size="6.6" font-style="italic" fill="#222" stroke="#222" stroke-width="0.06" textLength="58" lengthAdjust="spacingAndGlyphs">KLHL6<tspan font-size="4" dy="-2.3">−/−</tspan><tspan dy="2.3"> NOTCH2</tspan><tspan font-size="4" dy="-2.3">+/+</tspan></text>
<line x1="197.50" y1="51.50" x2="206.00" y2="51.50" stroke="#40b0d0" stroke-width="0.9" />
<line x1="201.50" y1="48.80" x2="201.50" y2="51.00" stroke="#40b0d0" stroke-width="0.9" />
<text x="211" y="53.30" font-size="6.6" font-style="italic" fill="#222" stroke="#222" stroke-width="0.06" textLength="58" lengthAdjust="spacingAndGlyphs">KLHL6<tspan font-size="4" dy="-2.3">+/+</tspan><tspan dy="2.3"> NOTCH2</tspan><tspan font-size="4" dy="-2.3">−/−</tspan></text>
<line x1="197.50" y1="61.50" x2="206.00" y2="61.50" stroke="#c0308a" stroke-width="0.9" />
<line x1="201.50" y1="58.80" x2="201.50" y2="61.00" stroke="#c0308a" stroke-width="0.9" />
<text x="211" y="63.30" font-size="6.6" font-style="italic" fill="#222" stroke="#222" stroke-width="0.06" textLength="58" lengthAdjust="spacingAndGlyphs">KLHL6<tspan font-size="4" dy="-2.3">−/−</tspan><tspan dy="2.3"> NOTCH2</tspan><tspan font-size="4" dy="-2.3">−/−</tspan></text>
<line x1="273.00" y1="27.00" x2="273.00" y2="42.00" stroke="#3a3a3a" stroke-width="1.35" />
<line x1="282.50" y1="27.00" x2="282.50" y2="52.60" stroke="#3a3a3a" stroke-width="1.35" />
<line x1="292.30" y1="27.00" x2="292.30" y2="63.70" stroke="#3a3a3a" stroke-width="1.35" />
<line x1="302.00" y1="47.00" x2="302.00" y2="63.70" stroke="#3a3a3a" stroke-width="1.35" />
<text x="278.00" y="34.30" font-size="5.6" text-anchor="middle" fill="#333" transform="rotate(90 278.00 34.30)" dy="2"><tspan font-style="italic">P</tspan> = .0023</text>
<text x="287.70" y="39.80" font-size="5.6" text-anchor="middle" fill="#333" transform="rotate(90 287.70 39.80)" dy="2"><tspan font-style="italic">P</tspan> = .0018</text>
<text x="297.00" y="45.20" font-size="5.6" text-anchor="middle" fill="#333" transform="rotate(90 297.00 45.20)" dy="2"><tspan font-style="italic">P</tspan> = .0153</text>
<text x="307.00" y="55.20" font-size="5.6" text-anchor="middle" fill="#333" transform="rotate(90 307.00 55.20)" dy="2"><tspan font-style="italic">P</tspan> = .018</text>
<text x="210.00" y="76.17" font-size="6.3" text-anchor="middle" fill="#222" stroke="#222" stroke-width="0.08" font-weight="normal" font-style="normal" >CHOP</text>
<line x1="210.50" y1="77.50" x2="210.50" y2="82.00" stroke="#111" stroke-width="0.9" />
<path d="M208.3,80.5 L210,84.5 L211.7,80.5 Z" fill="#111"/>
<line x1="195.50" y1="84.00" x2="195.50" y2="143.00" stroke="#222" stroke-width="1.1" />
<line x1="195.00" y1="142.50" x2="288.00" y2="142.50" stroke="#222" stroke-width="1.1" />
<line x1="193.00" y1="142.50" x2="195.50" y2="142.50" stroke="#222" stroke-width="0.9" />
<text x="189.50" y="144.67" font-size="6.3" text-anchor="end" fill="#222" stroke="#222" stroke-width="0.08" font-weight="normal" font-style="normal" >0</text>
<line x1="193.00" y1="114.50" x2="195.50" y2="114.50" stroke="#222" stroke-width="0.9" />
<text x="189.50" y="116.17" font-size="6.3" text-anchor="end" fill="#222" stroke="#222" stroke-width="0.08" font-weight="normal" font-style="normal" >50</text>
<line x1="193.00" y1="85.50" x2="195.50" y2="85.50" stroke="#222" stroke-width="0.9" />
<text x="189.50" y="87.67" font-size="6.3" text-anchor="end" fill="#222" stroke="#222" stroke-width="0.08" font-weight="normal" font-style="normal" >100</text>
<line x1="195.50" y1="142.50" x2="195.50" y2="145.00" stroke="#222" stroke-width="0.9" />
<text x="195.50" y="153.97" font-size="6.3" text-anchor="middle" fill="#222" stroke="#222" stroke-width="0.08" font-weight="normal" font-style="normal" >0</text>
<line x1="234.50" y1="142.50" x2="234.50" y2="145.00" stroke="#222" stroke-width="0.9" />
<text x="234.25" y="153.97" font-size="6.3" text-anchor="middle" fill="#222" stroke="#222" stroke-width="0.08" font-weight="normal" font-style="normal" >50</text>
<line x1="273.50" y1="142.50" x2="273.50" y2="145.00" stroke="#222" stroke-width="0.9" />
<text x="273.00" y="153.97" font-size="6.3" text-anchor="middle" fill="#222" stroke="#222" stroke-width="0.08" font-weight="normal" font-style="normal" >100</text>
<text x="242.25" y="166.50" font-size="8.7" text-anchor="middle" fill="#222" stroke="#222" stroke-width="0.08" font-weight="normal" font-style="normal" textLength="34.3" lengthAdjust="spacingAndGlyphs" >Time (days)</text>
<text x="171.50" y="115.60" font-size="8.7" text-anchor="middle" fill="#222" stroke="#222" stroke-width="0.08" font-weight="normal" font-style="normal" transform="rotate(-90 171.50 112.60)" textLength="35.6" lengthAdjust="spacingAndGlyphs" >Survival (%)</text>
<path d="M195.50,85.50 H231.15 V96.90 H232.70 V108.30 H234.25 V131.10 H238.90 V142.50" fill="none" stroke="#d0406a" stroke-width="1.0"/>
<path d="M195.50,85.50 H262.93 V108.30 H269.12 V119.70 H271.45 V131.10 H273.00 V142.50" fill="none" stroke="#d04a98" stroke-width="1.0"/>
<path d="M195.50,85.50 H271.06 V96.90 H273.77 V108.30 H276.10 V119.70 H280.75 V131.10 H282.30 V142.50" fill="none" stroke="#60b8e0" stroke-width="1.0"/>
<path d="M195.50,85.50 H254.40 V96.90 H257.50 V108.30 H259.44 V119.70 H262.15 V131.10 H265.25 V142.50" fill="none" stroke="#707078" stroke-width="1.0"/>
<circle cx="370.50" cy="13.90" r="1.30" fill="#e06a3a" fill-opacity="1" />
<circle cx="382.00" cy="13.90" r="1.30" fill="#f0a040" fill-opacity="1" />
<circle cx="394.50" cy="13.90" r="1.30" fill="#c8b43a" fill-opacity="1" />
<text x="405" y="16.80" font-size="6.6" fill="#222" stroke="#222" stroke-width="0.05" textLength="70.9" lengthAdjust="spacingAndGlyphs"><tspan font-style="italic">KLHL6</tspan><tspan font-size="4" dy="-2.3">+/+</tspan><tspan dy="2.3" font-style="italic"> NOTCH2</tspan><tspan font-size="4" dy="-2.3">+/+</tspan><tspan dy="2.3"> (WT)</tspan></text>
<circle cx="370.50" cy="24.80" r="1.30" fill="#3a9ad8" fill-opacity="1" />
<circle cx="382.00" cy="24.80" r="1.30" fill="#3aa8e0" fill-opacity="1" />
<circle cx="394.50" cy="24.80" r="1.30" fill="#3a5aa0" fill-opacity="1" />
<text x="405" y="27.70" font-size="6.6" fill="#222" stroke="#222" stroke-width="0.05" textLength="78.7" lengthAdjust="spacingAndGlyphs"><tspan font-style="italic">KLHL6</tspan><tspan font-size="4" dy="-2.3">−/−</tspan><tspan dy="2.3" font-style="italic"> NOTCH2</tspan><tspan font-size="4" dy="-2.3">+/+</tspan><tspan dy="2.3"> (K6-KO)</tspan></text>
<circle cx="370.50" cy="35.50" r="1.30" fill="#9a6a90" fill-opacity="1" />
<circle cx="382.00" cy="35.50" r="1.30" fill="#e05a80" fill-opacity="1" />
<circle cx="394.50" cy="35.50" r="1.30" fill="#e898a8" fill-opacity="1" />
<text x="405" y="38.40" font-size="6.6" fill="#222" stroke="#222" stroke-width="0.05" textLength="79.6" lengthAdjust="spacingAndGlyphs"><tspan font-style="italic">KLHL6</tspan><tspan font-size="4" dy="-2.3">+/+</tspan><tspan dy="2.3" font-style="italic"> NOTCH2</tspan><tspan font-size="4" dy="-2.3">−/−</tspan><tspan dy="2.3"> (N2-KO)</tspan></text>
<circle cx="370.50" cy="45.90" r="1.30" fill="#70a838" fill-opacity="1" />
<circle cx="382.00" cy="45.90" r="1.30" fill="#1a9a6a" fill-opacity="1" />
<circle cx="394.50" cy="45.90" r="1.30" fill="#1a9088" fill-opacity="1" />
<text x="405" y="48.80" font-size="6.6" fill="#222" stroke="#222" stroke-width="0.05" textLength="72.7" lengthAdjust="spacingAndGlyphs"><tspan font-style="italic">KLHL6</tspan><tspan font-size="4" dy="-2.3">−/−</tspan><tspan dy="2.3" font-style="italic"> NOTCH2</tspan><tspan font-size="4" dy="-2.3">−/−</tspan><tspan dy="2.3"> (DKO)</tspan></text>
<rect x="351.2" y="59.3" width="151.8" height="93.3" fill="none" stroke="#222" stroke-width="1.2"/>
<line x1="348.50" y1="62.50" x2="351.20" y2="62.50" stroke="#222" stroke-width="0.9" />
<text x="345.50" y="64.99" font-size="6.4" text-anchor="end" fill="#222" stroke="#222" stroke-width="0.08" font-weight="normal" font-style="normal" >8</text>
<line x1="348.50" y1="86.50" x2="351.20" y2="86.50" stroke="#222" stroke-width="0.9" />
<text x="345.50" y="88.75" font-size="6.4" text-anchor="end" fill="#222" stroke="#222" stroke-width="0.08" font-weight="normal" font-style="normal" >4</text>
<line x1="348.50" y1="110.50" x2="351.20" y2="110.50" stroke="#222" stroke-width="0.9" />
<text x="345.50" y="112.51" font-size="6.4" text-anchor="end" fill="#222" stroke="#222" stroke-width="0.08" font-weight="normal" font-style="normal" >0</text>
<line x1="348.50" y1="133.50" x2="351.20" y2="133.50" stroke="#222" stroke-width="0.9" />
<text x="345.50" y="136.27" font-size="6.4" text-anchor="end" fill="#222" stroke="#222" stroke-width="0.08" font-weight="normal" font-style="normal" >−4</text>
<line x1="360.50" y1="152.60" x2="360.50" y2="155.30" stroke="#222" stroke-width="0.9" />
<text x="360.80" y="163.97" font-size="6.0" text-anchor="middle" fill="#222" stroke="#222" stroke-width="0.08" font-weight="normal" font-style="normal" >−10</text>
<line x1="390.50" y1="152.60" x2="390.50" y2="155.30" stroke="#222" stroke-width="0.9" />
<text x="390.30" y="163.97" font-size="6.0" text-anchor="middle" fill="#222" stroke="#222" stroke-width="0.08" font-weight="normal" font-style="normal" >−5</text>
<line x1="419.50" y1="152.60" x2="419.50" y2="155.30" stroke="#222" stroke-width="0.9" />
<text x="419.80" y="163.97" font-size="6.0" text-anchor="middle" fill="#222" stroke="#222" stroke-width="0.08" font-weight="normal" font-style="normal" >0</text>
<line x1="449.50" y1="152.60" x2="449.50" y2="155.30" stroke="#222" stroke-width="0.9" />
<text x="449.30" y="163.97" font-size="6.0" text-anchor="middle" fill="#222" stroke="#222" stroke-width="0.08" font-weight="normal" font-style="normal" >5</text>
<line x1="478.50" y1="152.60" x2="478.50" y2="155.30" stroke="#222" stroke-width="0.9" />
<text x="478.80" y="163.97" font-size="6.0" text-anchor="middle" fill="#222" stroke="#222" stroke-width="0.08" font-weight="normal" font-style="normal" >10</text>
<text x="427.15" y="176.19" font-size="8.8" text-anchor="middle" fill="#222" stroke="#222" stroke-width="0.08" font-weight="normal" font-style="normal" textLength="62.7" lengthAdjust="spacingAndGlyphs" >PC1: 63% variance</text>
<text x="331.50" y="109.54" font-size="8.8" text-anchor="middle" fill="#222" stroke="#222" stroke-width="0.08" font-weight="normal" font-style="normal" transform="rotate(-90 331.50 106.50)" textLength="63" lengthAdjust="spacingAndGlyphs" >PC2: 18% variance</text>
<ellipse cx="396.2" cy="74.1" rx="15" ry="6.6" transform="rotate(-76 396.2 74.1)" fill="none" stroke="#c03040" stroke-width="0.9"/>
<ellipse cx="425.5" cy="94.2" rx="18.5" ry="7.2" transform="rotate(22 425.5 94.2)" fill="none" stroke="#c03040" stroke-width="0.9"/>
<ellipse cx="362.5" cy="143.1" rx="10" ry="8.1" transform="rotate(0 362.5 143.1)" fill="none" stroke="#c03040" stroke-width="0.9"/>
<ellipse cx="496" cy="123.3" rx="9" ry="8.2" transform="rotate(0 496 123.3)" fill="none" stroke="#c03040" stroke-width="0.9"/>
<circle cx="397.50" cy="63.20" r="1.45" fill="#e06a3a" fill-opacity="1" />
<circle cx="393.80" cy="85.20" r="1.45" fill="#c8b43a" fill-opacity="1" />
<circle cx="413.00" cy="89.70" r="1.45" fill="#70a838" fill-opacity="1" />
<circle cx="423.00" cy="93.00" r="1.45" fill="#1a9a6a" fill-opacity="1" />
<circle cx="438.80" cy="99.50" r="1.45" fill="#1a9088" fill-opacity="1" />
<circle cx="358.00" cy="138.80" r="1.45" fill="#3a9ad8" fill-opacity="1" />
<circle cx="365.50" cy="140.80" r="1.45" fill="#3aa8e0" fill-opacity="1" />
<circle cx="363.80" cy="148.80" r="1.45" fill="#3a5aa0" fill-opacity="1" />
<circle cx="496.50" cy="120.00" r="1.45" fill="#e05a80" fill-opacity="1" />
<circle cx="493.50" cy="127.30" r="1.45" fill="#9a6a90" fill-opacity="1" />
<text x="411.00" y="70.97" font-size="6.3" text-anchor="middle" fill="#222" stroke="#222" stroke-width="0.08" font-weight="normal" font-style="normal" >WT</text>
<text x="446.00" y="92.17" font-size="6.3" text-anchor="middle" fill="#222" stroke="#222" stroke-width="0.08" font-weight="normal" font-style="normal" >DKO</text>
<text x="369.50" y="132.17" font-size="6.3" text-anchor="middle" fill="#222" stroke="#222" stroke-width="0.08" font-weight="normal" font-style="normal" >K6-KO</text>
<text x="471.00" y="128.77" font-size="6.3" text-anchor="middle" fill="#222" stroke="#222" stroke-width="0.08" font-weight="normal" font-style="normal" >N2-KO</text>
<text x="101.90" y="222.70" font-size="9.0" text-anchor="middle" fill="#222" stroke="#222" stroke-width="0.08" font-weight="normal" font-style="normal" textLength="53" lengthAdjust="spacingAndGlyphs" >K6-KO vs. WT</text>
<line x1="32.30" y1="278.50" x2="34.80" y2="278.50" stroke="#222" stroke-width="0.9" />
<text x="28.50" y="280.58" font-size="6.6" text-anchor="end" fill="#222" stroke="#222" stroke-width="0.08" font-weight="normal" font-style="normal" >0</text>
<line x1="32.30" y1="262.50" x2="34.80" y2="262.50" stroke="#222" stroke-width="0.9" />
<text x="28.50" y="264.68" font-size="6.6" text-anchor="end" fill="#222" stroke="#222" stroke-width="0.08" font-weight="normal" font-style="normal" >20</text>
<line x1="32.30" y1="246.50" x2="34.80" y2="246.50" stroke="#222" stroke-width="0.9" />
<text x="28.50" y="248.78" font-size="6.6" text-anchor="end" fill="#222" stroke="#222" stroke-width="0.08" font-weight="normal" font-style="normal" >40</text>
<line x1="32.30" y1="230.50" x2="34.80" y2="230.50" stroke="#222" stroke-width="0.9" />
<text x="28.50" y="232.88" font-size="6.6" text-anchor="end" fill="#222" stroke="#222" stroke-width="0.08" font-weight="normal" font-style="normal" >60</text>
<line x1="41.50" y1="280.80" x2="41.50" y2="283.50" stroke="#222" stroke-width="0.9" />
<text x="41.00" y="292.18" font-size="6.6" text-anchor="middle" fill="#222" stroke="#222" stroke-width="0.08" font-weight="normal" font-style="normal" >−6</text>
<line x1="71.50" y1="280.80" x2="71.50" y2="283.50" stroke="#222" stroke-width="0.9" />
<text x="71.30" y="292.18" font-size="6.6" text-anchor="middle" fill="#222" stroke="#222" stroke-width="0.08" font-weight="normal" font-style="normal" >−3</text>
<line x1="101.50" y1="280.80" x2="101.50" y2="283.50" stroke="#222" stroke-width="0.9" />
<text x="101.60" y="292.18" font-size="6.6" text-anchor="middle" fill="#222" stroke="#222" stroke-width="0.08" font-weight="normal" font-style="normal" >0</text>
<line x1="131.50" y1="280.80" x2="131.50" y2="283.50" stroke="#222" stroke-width="0.9" />
<text x="131.90" y="292.18" font-size="6.6" text-anchor="middle" fill="#222" stroke="#222" stroke-width="0.08" font-weight="normal" font-style="normal" >3</text>
<line x1="162.50" y1="280.80" x2="162.50" y2="283.50" stroke="#222" stroke-width="0.9" />
<text x="162.20" y="292.18" font-size="6.6" text-anchor="middle" fill="#222" stroke="#222" stroke-width="0.08" font-weight="normal" font-style="normal" >6</text>
<text x="101.25" y="303.59" font-size="8.1" text-anchor="middle" fill="#222" stroke="#222" stroke-width="0.08" font-weight="normal" font-style="normal" textLength="48.7" lengthAdjust="spacingAndGlyphs" >log<tspan font-size="5.2" dy="1.6">2</tspan><tspan dy="-1.6">FoldChange</tspan></text>
<text x="11.20" y="257.04" font-size="8.8" text-anchor="middle" fill="#222" stroke="#222" stroke-width="0.08" font-weight="normal" font-style="normal" transform="rotate(-90 11.20 254.00)" textLength="43.6" lengthAdjust="spacingAndGlyphs" >−log<tspan font-size="5.6" dy="1.8">10</tspan><tspan dy="-1.8">(</tspan><tspan font-style="italic">P</tspan>value)</text>
<circle cx="100.64" cy="277.18" r="2.00" fill="#d4d4d4" fill-opacity="0.5" />
<circle cx="110.17" cy="270.97" r="2.00" fill="#d4d4d4" fill-opacity="0.5" />
<circle cx="101.76" cy="277.71" r="2.00" fill="#d4d4d4" fill-opacity="0.5" />
<circle cx="95.23" cy="272.24" r="2.00" fill="#d4d4d4" fill-opacity="0.5" />
<circle cx="104.22" cy="274.90" r="2.00" fill="#d4d4d4" fill-opacity="0.5" />
<circle cx="93.40" cy="273.09" r="2.00" fill="#d4d4d4" fill-opacity="0.5" />
<circle cx="93.33" cy="266.89" r="2.00" fill="#d4d4d4" fill-opacity="0.5" />
<circle cx="105.51" cy="277.82" r="2.00" fill="#d4d4d4" fill-opacity="0.5" />
<circle cx="111.34" cy="265.17" r="2.00" fill="#d4d4d4" fill-opacity="0.5" />
<circle cx="104.71" cy="275.02" r="2.00" fill="#d4d4d4" fill-opacity="0.5" />
<circle cx="94.68" cy="277.91" r="2.00" fill="#d4d4d4" fill-opacity="0.5" />
<circle cx="102.17" cy="278.16" r="2.00" fill="#d4d4d4" fill-opacity="0.5" />
<circle cx="95.34" cy="275.04" r="2.00" fill="#d4d4d4" fill-opacity="0.5" />
<circle cx="92.11" cy="270.99" r="2.00" fill="#d4d4d4" fill-opacity="0.5" />
<circle cx="100.40" cy="276.48" r="2.00" fill="#d4d4d4" fill-opacity="0.5" />
<circle cx="101.99" cy="277.51" r="2.00" fill="#d4d4d4" fill-opacity="0.5" />
<circle cx="101.60" cy="277.73" r="2.00" fill="#d4d4d4" fill-opacity="0.5" />
<circle cx="100.74" cy="277.70" r="2.00" fill="#d4d4d4" fill-opacity="0.5" />
<circle cx="111.65" cy="264.83" r="2.00" fill="#d4d4d4" fill-opacity="0.5" />
<circle cx="108.47" cy="269.75" r="2.00" fill="#d4d4d4" fill-opacity="0.5" />
<circle cx="97.87" cy="276.50" r="2.00" fill="#d4d4d4" fill-opacity="0.5" />
<circle cx="97.34" cy="277.50" r="2.00" fill="#d4d4d4" fill-opacity="0.5" />
<circle cx="106.98" cy="274.16" r="2.00" fill="#d4d4d4" fill-opacity="0.5" />
<circle cx="108.60" cy="272.92" r="2.00" fill="#d4d4d4" fill-opacity="0.5" />
<circle cx="110.85" cy="266.46" r="2.00" fill="#d4d4d4" fill-opacity="0.5" />
<circle cx="91.51" cy="274.43" r="2.00" fill="#d4d4d4" fill-opacity="0.5" />
<circle cx="109.89" cy="270.91" r="2.00" fill="#d4d4d4" fill-opacity="0.5" />
<circle cx="111.30" cy="271.84" r="2.00" fill="#d4d4d4" fill-opacity="0.5" />
<circle cx="92.98" cy="268.97" r="2.00" fill="#d4d4d4" fill-opacity="0.5" />
<circle cx="107.23" cy="275.13" r="2.00" fill="#d4d4d4" fill-opacity="0.5" />
<circle cx="93.26" cy="272.70" r="2.00" fill="#d4d4d4" fill-opacity="0.5" />
<circle cx="110.97" cy="267.47" r="2.00" fill="#d4d4d4" fill-opacity="0.5" />
<circle cx="93.88" cy="274.12" r="2.00" fill="#d4d4d4" fill-opacity="0.5" />
<circle cx="93.54" cy="276.88" r="2.00" fill="#d4d4d4" fill-opacity="0.5" />
<circle cx="107.60" cy="275.87" r="2.00" fill="#d4d4d4" fill-opacity="0.5" />
<circle cx="102.80" cy="277.21" r="2.00" fill="#d4d4d4" fill-opacity="0.5" />
<circle cx="95.35" cy="270.40" r="2.00" fill="#d4d4d4" fill-opacity="0.5" />
<circle cx="94.15" cy="269.62" r="2.00" fill="#d4d4d4" fill-opacity="0.5" />
<circle cx="93.85" cy="271.85" r="2.00" fill="#d4d4d4" fill-opacity="0.5" />
<circle cx="95.80" cy="275.03" r="2.00" fill="#d4d4d4" fill-opacity="0.5" />
<circle cx="111.11" cy="266.96" r="2.00" fill="#d4d4d4" fill-opacity="0.5" />
<circle cx="97.64" cy="272.68" r="2.00" fill="#d4d4d4" fill-opacity="0.5" />
<circle cx="95.76" cy="273.83" r="2.00" fill="#d4d4d4" fill-opacity="0.5" />
<circle cx="108.76" cy="270.03" r="2.00" fill="#d4d4d4" fill-opacity="0.5" />
<circle cx="93.53" cy="264.91" r="2.00" fill="#d4d4d4" fill-opacity="0.5" />
<circle cx="95.81" cy="275.14" r="2.00" fill="#d4d4d4" fill-opacity="0.5" />
<circle cx="107.11" cy="274.67" r="2.00" fill="#d4d4d4" fill-opacity="0.5" />
<circle cx="97.49" cy="277.50" r="2.00" fill="#d4d4d4" fill-opacity="0.5" />
<circle cx="93.32" cy="269.53" r="2.00" fill="#d4d4d4" fill-opacity="0.5" />
<circle cx="96.41" cy="272.79" r="2.00" fill="#d4d4d4" fill-opacity="0.5" />
<circle cx="99.01" cy="276.15" r="2.00" fill="#d4d4d4" fill-opacity="0.5" />
<circle cx="110.87" cy="270.74" r="2.00" fill="#d4d4d4" fill-opacity="0.5" />
<circle cx="103.11" cy="276.08" r="2.00" fill="#d4d4d4" fill-opacity="0.5" />
<circle cx="95.19" cy="275.96" r="2.00" fill="#d4d4d4" fill-opacity="0.5" />
<circle cx="109.85" cy="266.79" r="2.00" fill="#d4d4d4" fill-opacity="0.5" />
<circle cx="96.54" cy="276.17" r="2.00" fill="#d4d4d4" fill-opacity="0.5" />
<circle cx="106.44" cy="271.00" r="2.00" fill="#d4d4d4" fill-opacity="0.5" />
<circle cx="95.47" cy="268.77" r="2.00" fill="#d4d4d4" fill-opacity="0.5" />
<circle cx="109.32" cy="269.73" r="2.00" fill="#d4d4d4" fill-opacity="0.5" />
<circle cx="100.01" cy="277.88" r="2.00" fill="#d4d4d4" fill-opacity="0.5" />
<circle cx="92.28" cy="265.19" r="2.00" fill="#d4d4d4" fill-opacity="0.5" />
<circle cx="96.32" cy="271.92" r="2.00" fill="#d4d4d4" fill-opacity="0.5" />
<circle cx="96.69" cy="271.63" r="2.00" fill="#d4d4d4" fill-opacity="0.5" />
<circle cx="103.55" cy="277.14" r="2.00" fill="#d4d4d4" fill-opacity="0.5" />
<circle cx="95.04" cy="270.07" r="2.00" fill="#d4d4d4" fill-opacity="0.5" />
<circle cx="92.89" cy="274.15" r="2.00" fill="#d4d4d4" fill-opacity="0.5" />
<circle cx="102.80" cy="276.47" r="2.00" fill="#d4d4d4" fill-opacity="0.5" />
<circle cx="103.91" cy="276.99" r="2.00" fill="#d4d4d4" fill-opacity="0.5" />
<circle cx="110.03" cy="274.51" r="2.00" fill="#d4d4d4" fill-opacity="0.5" />
<circle cx="91.83" cy="273.57" r="2.00" fill="#d4d4d4" fill-opacity="0.5" />
<circle cx="100.50" cy="278.09" r="2.00" fill="#d4d4d4" fill-opacity="0.5" />
<circle cx="95.06" cy="273.50" r="2.00" fill="#d4d4d4" fill-opacity="0.5" />
<circle cx="103.06" cy="277.82" r="2.00" fill="#d4d4d4" fill-opacity="0.5" />
<circle cx="98.82" cy="274.35" r="2.00" fill="#d4d4d4" fill-opacity="0.5" />
<circle cx="111.31" cy="268.64" r="2.00" fill="#d4d4d4" fill-opacity="0.5" />
<circle cx="105.46" cy="274.37" r="2.00" fill="#d4d4d4" fill-opacity="0.5" />
<circle cx="94.34" cy="277.48" r="2.00" fill="#d4d4d4" fill-opacity="0.5" />
<circle cx="91.86" cy="265.76" r="2.00" fill="#d4d4d4" fill-opacity="0.5" />
<circle cx="105.66" cy="272.13" r="2.00" fill="#d4d4d4" fill-opacity="0.5" />
<circle cx="91.93" cy="268.89" r="2.00" fill="#d4d4d4" fill-opacity="0.5" />
<circle cx="101.24" cy="277.45" r="2.00" fill="#d4d4d4" fill-opacity="0.5" />
<circle cx="97.94" cy="272.59" r="2.00" fill="#d4d4d4" fill-opacity="0.5" />
<circle cx="93.02" cy="269.97" r="2.00" fill="#d4d4d4" fill-opacity="0.5" />
<circle cx="106.39" cy="271.33" r="2.00" fill="#d4d4d4" fill-opacity="0.5" />
<circle cx="106.39" cy="272.57" r="2.00" fill="#d4d4d4" fill-opacity="0.5" />
<circle cx="107.52" cy="269.40" r="2.00" fill="#d4d4d4" fill-opacity="0.5" />
<circle cx="98.61" cy="274.86" r="2.00" fill="#d4d4d4" fill-opacity="0.5" />
<circle cx="109.70" cy="266.20" r="2.00" fill="#d4d4d4" fill-opacity="0.5" />
<circle cx="99.93" cy="276.05" r="2.00" fill="#d4d4d4" fill-opacity="0.5" />
<circle cx="108.94" cy="270.53" r="2.00" fill="#d4d4d4" fill-opacity="0.5" />
<circle cx="104.12" cy="276.47" r="2.00" fill="#d4d4d4" fill-opacity="0.5" />
<circle cx="103.27" cy="276.48" r="2.00" fill="#d4d4d4" fill-opacity="0.5" />
<circle cx="93.12" cy="268.85" r="2.00" fill="#d4d4d4" fill-opacity="0.5" />
<circle cx="111.57" cy="266.10" r="2.00" fill="#d4d4d4" fill-opacity="0.5" />
<circle cx="106.21" cy="274.88" r="2.00" fill="#d4d4d4" fill-opacity="0.5" />
<circle cx="106.35" cy="273.43" r="2.00" fill="#d4d4d4" fill-opacity="0.5" />
<circle cx="100.40" cy="276.49" r="2.00" fill="#d4d4d4" fill-opacity="0.5" />
<circle cx="93.19" cy="267.56" r="2.00" fill="#d4d4d4" fill-opacity="0.5" />
<circle cx="92.10" cy="269.30" r="2.00" fill="#d4d4d4" fill-opacity="0.5" />
<circle cx="101.22" cy="277.95" r="2.00" fill="#d4d4d4" fill-opacity="0.5" />
<circle cx="105.61" cy="274.71" r="2.00" fill="#d4d4d4" fill-opacity="0.5" />
<circle cx="103.91" cy="274.90" r="2.00" fill="#d4d4d4" fill-opacity="0.5" />
<circle cx="96.67" cy="278.08" r="2.00" fill="#d4d4d4" fill-opacity="0.5" />
<circle cx="97.58" cy="273.68" r="2.00" fill="#d4d4d4" fill-opacity="0.5" />
<circle cx="95.59" cy="275.95" r="2.00" fill="#d4d4d4" fill-opacity="0.5" />
<circle cx="109.80" cy="268.61" r="2.00" fill="#d4d4d4" fill-opacity="0.5" />
<circle cx="100.43" cy="276.43" r="2.00" fill="#d4d4d4" fill-opacity="0.5" />
<circle cx="98.10" cy="274.36" r="2.00" fill="#d4d4d4" fill-opacity="0.5" />
<circle cx="95.51" cy="273.27" r="2.00" fill="#d4d4d4" fill-opacity="0.5" />
<circle cx="107.78" cy="268.98" r="2.00" fill="#d4d4d4" fill-opacity="0.5" />
<circle cx="109.28" cy="272.36" r="2.00" fill="#d4d4d4" fill-opacity="0.5" />
<circle cx="103.28" cy="277.21" r="2.00" fill="#d4d4d4" fill-opacity="0.5" />
<circle cx="94.25" cy="271.36" r="2.00" fill="#d4d4d4" fill-opacity="0.5" />
<circle cx="108.41" cy="268.52" r="2.00" fill="#d4d4d4" fill-opacity="0.5" />
<circle cx="105.87" cy="271.86" r="2.00" fill="#d4d4d4" fill-opacity="0.5" />
<circle cx="97.09" cy="276.58" r="2.00" fill="#d4d4d4" fill-opacity="0.5" />
<circle cx="100.60" cy="277.65" r="2.00" fill="#d4d4d4" fill-opacity="0.5" />
<circle cx="95.82" cy="273.71" r="2.00" fill="#d4d4d4" fill-opacity="0.5" />
<circle cx="104.14" cy="276.04" r="2.00" fill="#d4d4d4" fill-opacity="0.5" />
<circle cx="97.87" cy="273.24" r="2.00" fill="#d4d4d4" fill-opacity="0.5" />
<circle cx="111.34" cy="271.13" r="2.00" fill="#d4d4d4" fill-opacity="0.5" />
<circle cx="93.01" cy="277.45" r="2.00" fill="#d4d4d4" fill-opacity="0.5" />
<circle cx="109.13" cy="277.32" r="2.00" fill="#d4d4d4" fill-opacity="0.5" />
<circle cx="105.81" cy="274.07" r="2.00" fill="#d4d4d4" fill-opacity="0.5" />
<circle cx="97.74" cy="273.30" r="2.00" fill="#d4d4d4" fill-opacity="0.5" />
<circle cx="91.89" cy="275.56" r="2.00" fill="#d4d4d4" fill-opacity="0.5" />
<circle cx="100.69" cy="278.21" r="2.00" fill="#d4d4d4" fill-opacity="0.5" />
<circle cx="108.26" cy="274.86" r="2.00" fill="#d4d4d4" fill-opacity="0.5" />
<circle cx="94.35" cy="277.26" r="2.00" fill="#d4d4d4" fill-opacity="0.5" />
<circle cx="104.21" cy="276.16" r="2.00" fill="#d4d4d4" fill-opacity="0.5" />
<circle cx="104.23" cy="275.38" r="2.00" fill="#d4d4d4" fill-opacity="0.5" />
<circle cx="107.81" cy="268.57" r="2.00" fill="#d4d4d4" fill-opacity="0.5" />
<circle cx="105.33" cy="276.70" r="2.00" fill="#d4d4d4" fill-opacity="0.5" />
<circle cx="101.10" cy="277.99" r="2.00" fill="#d4d4d4" fill-opacity="0.5" />
<circle cx="91.72" cy="270.88" r="2.00" fill="#d4d4d4" fill-opacity="0.5" />
<circle cx="105.93" cy="276.58" r="2.00" fill="#d4d4d4" fill-opacity="0.5" />
<circle cx="97.00" cy="275.19" r="2.00" fill="#d4d4d4" fill-opacity="0.5" />
<circle cx="105.59" cy="274.60" r="2.00" fill="#d4d4d4" fill-opacity="0.5" />
<circle cx="103.91" cy="275.40" r="2.00" fill="#d4d4d4" fill-opacity="0.5" />
<circle cx="99.45" cy="275.48" r="2.00" fill="#d4d4d4" fill-opacity="0.5" />
<line x1="91.50" y1="228.00" x2="91.50" y2="280.00" stroke="#c4c4c4" stroke-width="1.2" stroke-dasharray="4.5,2.5"/>
<line x1="111.50" y1="228.00" x2="111.50" y2="280.00" stroke="#c4c4c4" stroke-width="1.2" stroke-dasharray="4.5,2.5"/>
<line x1="35.80" y1="276.50" x2="169.60" y2="276.50" stroke="#cccccc" stroke-width="1.2" stroke-dasharray="4.5,2.5"/>
<circle cx="62.65" cy="273.27" r="1.80" fill="#3a78c8" fill-opacity="0.55" stroke="#2a5a9a" stroke-opacity="0.75" stroke-width="0.5"/>
<circle cx="83.63" cy="275.12" r="1.80" fill="#3a78c8" fill-opacity="0.55" stroke="#2a5a9a" stroke-opacity="0.75" stroke-width="0.5"/>
<circle cx="74.68" cy="273.72" r="1.80" fill="#3a78c8" fill-opacity="0.55" stroke="#2a5a9a" stroke-opacity="0.75" stroke-width="0.5"/>
<circle cx="79.89" cy="267.96" r="1.80" fill="#3a78c8" fill-opacity="0.55" stroke="#2a5a9a" stroke-opacity="0.75" stroke-width="0.5"/>
<circle cx="61.30" cy="277.08" r="1.80" fill="#3a78c8" fill-opacity="0.55" stroke="#2a5a9a" stroke-opacity="0.75" stroke-width="0.5"/>
<circle cx="86.03" cy="273.19" r="1.80" fill="#3a78c8" fill-opacity="0.55" stroke="#2a5a9a" stroke-opacity="0.75" stroke-width="0.5"/>
<circle cx="83.58" cy="277.11" r="1.80" fill="#3a78c8" fill-opacity="0.55" stroke="#2a5a9a" stroke-opacity="0.75" stroke-width="0.5"/>
<circle cx="73.01" cy="271.03" r="1.80" fill="#3a78c8" fill-opacity="0.55" stroke="#2a5a9a" stroke-opacity="0.75" stroke-width="0.5"/>
<circle cx="65.79" cy="271.30" r="1.80" fill="#3a78c8" fill-opacity="0.55" stroke="#2a5a9a" stroke-opacity="0.75" stroke-width="0.5"/>
<circle cx="88.21" cy="277.02" r="1.80" fill="#3a78c8" fill-opacity="0.55" stroke="#2a5a9a" stroke-opacity="0.75" stroke-width="0.5"/>
<circle cx="59.02" cy="275.76" r="1.80" fill="#3a78c8" fill-opacity="0.55" stroke="#2a5a9a" stroke-opacity="0.75" stroke-width="0.5"/>
<circle cx="89.47" cy="274.14" r="1.80" fill="#3a78c8" fill-opacity="0.55" stroke="#2a5a9a" stroke-opacity="0.75" stroke-width="0.5"/>
<circle cx="65.39" cy="275.28" r="1.80" fill="#3a78c8" fill-opacity="0.55" stroke="#2a5a9a" stroke-opacity="0.75" stroke-width="0.5"/>
<circle cx="59.14" cy="276.72" r="1.80" fill="#3a78c8" fill-opacity="0.55" stroke="#2a5a9a" stroke-opacity="0.75" stroke-width="0.5"/>
<circle cx="72.76" cy="273.56" r="1.80" fill="#3a78c8" fill-opacity="0.55" stroke="#2a5a9a" stroke-opacity="0.75" stroke-width="0.5"/>
<circle cx="65.94" cy="276.29" r="1.80" fill="#3a78c8" fill-opacity="0.55" stroke="#2a5a9a" stroke-opacity="0.75" stroke-width="0.5"/>
<circle cx="65.46" cy="275.04" r="1.80" fill="#3a78c8" fill-opacity="0.55" stroke="#2a5a9a" stroke-opacity="0.75" stroke-width="0.5"/>
<circle cx="67.83" cy="277.07" r="1.80" fill="#3a78c8" fill-opacity="0.55" stroke="#2a5a9a" stroke-opacity="0.75" stroke-width="0.5"/>
<circle cx="86.09" cy="271.55" r="1.80" fill="#3a78c8" fill-opacity="0.55" stroke="#2a5a9a" stroke-opacity="0.75" stroke-width="0.5"/>
<circle cx="79.58" cy="275.91" r="1.80" fill="#3a78c8" fill-opacity="0.55" stroke="#2a5a9a" stroke-opacity="0.75" stroke-width="0.5"/>
<circle cx="91.25" cy="268.35" r="1.80" fill="#3a78c8" fill-opacity="0.55" stroke="#2a5a9a" stroke-opacity="0.75" stroke-width="0.5"/>
<circle cx="62.20" cy="276.12" r="1.80" fill="#3a78c8" fill-opacity="0.55" stroke="#2a5a9a" stroke-opacity="0.75" stroke-width="0.5"/>
<circle cx="82.22" cy="268.53" r="1.80" fill="#3a78c8" fill-opacity="0.55" stroke="#2a5a9a" stroke-opacity="0.75" stroke-width="0.5"/>
<circle cx="89.38" cy="273.68" r="1.80" fill="#3a78c8" fill-opacity="0.55" stroke="#2a5a9a" stroke-opacity="0.75" stroke-width="0.5"/>
<circle cx="85.84" cy="269.85" r="1.80" fill="#3a78c8" fill-opacity="0.55" stroke="#2a5a9a" stroke-opacity="0.75" stroke-width="0.5"/>
<circle cx="68.28" cy="273.58" r="1.80" fill="#3a78c8" fill-opacity="0.55" stroke="#2a5a9a" stroke-opacity="0.75" stroke-width="0.5"/>
<circle cx="87.58" cy="267.53" r="1.80" fill="#3a78c8" fill-opacity="0.55" stroke="#2a5a9a" stroke-opacity="0.75" stroke-width="0.5"/>
<circle cx="75.01" cy="272.10" r="1.80" fill="#3a78c8" fill-opacity="0.55" stroke="#2a5a9a" stroke-opacity="0.75" stroke-width="0.5"/>
<circle cx="59.32" cy="276.65" r="1.80" fill="#3a78c8" fill-opacity="0.55" stroke="#2a5a9a" stroke-opacity="0.75" stroke-width="0.5"/>
<circle cx="84.75" cy="273.29" r="1.80" fill="#3a78c8" fill-opacity="0.55" stroke="#2a5a9a" stroke-opacity="0.75" stroke-width="0.5"/>
<circle cx="63.94" cy="274.76" r="1.80" fill="#3a78c8" fill-opacity="0.55" stroke="#2a5a9a" stroke-opacity="0.75" stroke-width="0.5"/>
<circle cx="81.60" cy="269.30" r="1.80" fill="#3a78c8" fill-opacity="0.55" stroke="#2a5a9a" stroke-opacity="0.75" stroke-width="0.5"/>
<circle cx="70.66" cy="274.42" r="1.80" fill="#3a78c8" fill-opacity="0.55" stroke="#2a5a9a" stroke-opacity="0.75" stroke-width="0.5"/>
<circle cx="75.12" cy="269.67" r="1.80" fill="#3a78c8" fill-opacity="0.55" stroke="#2a5a9a" stroke-opacity="0.75" stroke-width="0.5"/>
<circle cx="75.53" cy="274.20" r="1.80" fill="#3a78c8" fill-opacity="0.55" stroke="#2a5a9a" stroke-opacity="0.75" stroke-width="0.5"/>
<circle cx="74.49" cy="277.03" r="1.80" fill="#3a78c8" fill-opacity="0.55" stroke="#2a5a9a" stroke-opacity="0.75" stroke-width="0.5"/>
<circle cx="59.62" cy="275.00" r="1.80" fill="#3a78c8" fill-opacity="0.55" stroke="#2a5a9a" stroke-opacity="0.75" stroke-width="0.5"/>
<circle cx="90.94" cy="271.85" r="1.80" fill="#3a78c8" fill-opacity="0.55" stroke="#2a5a9a" stroke-opacity="0.75" stroke-width="0.5"/>
<circle cx="71.29" cy="276.37" r="1.80" fill="#3a78c8" fill-opacity="0.55" stroke="#2a5a9a" stroke-opacity="0.75" stroke-width="0.5"/>
<circle cx="74.91" cy="266.90" r="1.80" fill="#3a78c8" fill-opacity="0.55" stroke="#2a5a9a" stroke-opacity="0.75" stroke-width="0.5"/>
<circle cx="83.85" cy="271.45" r="1.80" fill="#3a78c8" fill-opacity="0.55" stroke="#2a5a9a" stroke-opacity="0.75" stroke-width="0.5"/>
<circle cx="86.84" cy="275.51" r="1.80" fill="#3a78c8" fill-opacity="0.55" stroke="#2a5a9a" stroke-opacity="0.75" stroke-width="0.5"/>
<circle cx="75.29" cy="267.16" r="1.80" fill="#3a78c8" fill-opacity="0.55" stroke="#2a5a9a" stroke-opacity="0.75" stroke-width="0.5"/>
<circle cx="77.43" cy="273.20" r="1.80" fill="#3a78c8" fill-opacity="0.55" stroke="#2a5a9a" stroke-opacity="0.75" stroke-width="0.5"/>
<circle cx="67.15" cy="274.13" r="1.80" fill="#3a78c8" fill-opacity="0.55" stroke="#2a5a9a" stroke-opacity="0.75" stroke-width="0.5"/>
<circle cx="90.07" cy="277.10" r="1.80" fill="#3a78c8" fill-opacity="0.55" stroke="#2a5a9a" stroke-opacity="0.75" stroke-width="0.5"/>
<circle cx="84.29" cy="267.06" r="1.80" fill="#3a78c8" fill-opacity="0.55" stroke="#2a5a9a" stroke-opacity="0.75" stroke-width="0.5"/>
<circle cx="87.71" cy="269.19" r="1.80" fill="#3a78c8" fill-opacity="0.55" stroke="#2a5a9a" stroke-opacity="0.75" stroke-width="0.5"/>
<circle cx="85.14" cy="271.94" r="1.80" fill="#3a78c8" fill-opacity="0.55" stroke="#2a5a9a" stroke-opacity="0.75" stroke-width="0.5"/>
<circle cx="76.88" cy="273.66" r="1.80" fill="#3a78c8" fill-opacity="0.55" stroke="#2a5a9a" stroke-opacity="0.75" stroke-width="0.5"/>
<circle cx="60.04" cy="274.11" r="1.80" fill="#3a78c8" fill-opacity="0.55" stroke="#2a5a9a" stroke-opacity="0.75" stroke-width="0.5"/>
<circle cx="77.17" cy="275.90" r="1.80" fill="#3a78c8" fill-opacity="0.55" stroke="#2a5a9a" stroke-opacity="0.75" stroke-width="0.5"/>
<circle cx="74.99" cy="273.29" r="1.80" fill="#3a78c8" fill-opacity="0.55" stroke="#2a5a9a" stroke-opacity="0.75" stroke-width="0.5"/>
<circle cx="70.06" cy="275.24" r="1.80" fill="#3a78c8" fill-opacity="0.55" stroke="#2a5a9a" stroke-opacity="0.75" stroke-width="0.5"/>
<circle cx="76.12" cy="271.42" r="1.80" fill="#3a78c8" fill-opacity="0.55" stroke="#2a5a9a" stroke-opacity="0.75" stroke-width="0.5"/>
<circle cx="78.58" cy="273.03" r="1.80" fill="#3a78c8" fill-opacity="0.55" stroke="#2a5a9a" stroke-opacity="0.75" stroke-width="0.5"/>
<circle cx="59.10" cy="276.70" r="1.80" fill="#3a78c8" fill-opacity="0.55" stroke="#2a5a9a" stroke-opacity="0.75" stroke-width="0.5"/>
<circle cx="64.08" cy="274.52" r="1.80" fill="#3a78c8" fill-opacity="0.55" stroke="#2a5a9a" stroke-opacity="0.75" stroke-width="0.5"/>
<circle cx="86.87" cy="268.09" r="1.80" fill="#3a78c8" fill-opacity="0.55" stroke="#2a5a9a" stroke-opacity="0.75" stroke-width="0.5"/>
<circle cx="84.74" cy="267.25" r="1.80" fill="#3a78c8" fill-opacity="0.55" stroke="#2a5a9a" stroke-opacity="0.75" stroke-width="0.5"/>
<circle cx="66.68" cy="271.85" r="1.80" fill="#3a78c8" fill-opacity="0.55" stroke="#2a5a9a" stroke-opacity="0.75" stroke-width="0.5"/>
<circle cx="80.60" cy="276.70" r="1.80" fill="#3a78c8" fill-opacity="0.55" stroke="#2a5a9a" stroke-opacity="0.75" stroke-width="0.5"/>
<circle cx="58.73" cy="277.10" r="1.80" fill="#3a78c8" fill-opacity="0.55" stroke="#2a5a9a" stroke-opacity="0.75" stroke-width="0.5"/>
<circle cx="83.35" cy="275.16" r="1.80" fill="#3a78c8" fill-opacity="0.55" stroke="#2a5a9a" stroke-opacity="0.75" stroke-width="0.5"/>
<circle cx="61.82" cy="274.80" r="1.80" fill="#3a78c8" fill-opacity="0.55" stroke="#2a5a9a" stroke-opacity="0.75" stroke-width="0.5"/>
<circle cx="69.65" cy="276.91" r="1.80" fill="#3a78c8" fill-opacity="0.55" stroke="#2a5a9a" stroke-opacity="0.75" stroke-width="0.5"/>
<circle cx="63.49" cy="274.97" r="1.80" fill="#3a78c8" fill-opacity="0.55" stroke="#2a5a9a" stroke-opacity="0.75" stroke-width="0.5"/>
<circle cx="63.77" cy="276.24" r="1.80" fill="#3a78c8" fill-opacity="0.55" stroke="#2a5a9a" stroke-opacity="0.75" stroke-width="0.5"/>
<circle cx="81.89" cy="272.57" r="1.80" fill="#3a78c8" fill-opacity="0.55" stroke="#2a5a9a" stroke-opacity="0.75" stroke-width="0.5"/>
<circle cx="68.90" cy="274.40" r="1.80" fill="#3a78c8" fill-opacity="0.55" stroke="#2a5a9a" stroke-opacity="0.75" stroke-width="0.5"/>
<circle cx="58.96" cy="276.28" r="1.80" fill="#3a78c8" fill-opacity="0.55" stroke="#2a5a9a" stroke-opacity="0.75" stroke-width="0.5"/>
<circle cx="72.20" cy="276.22" r="1.80" fill="#3a78c8" fill-opacity="0.55" stroke="#2a5a9a" stroke-opacity="0.75" stroke-width="0.5"/>
<circle cx="61.80" cy="273.27" r="1.80" fill="#3a78c8" fill-opacity="0.55" stroke="#2a5a9a" stroke-opacity="0.75" stroke-width="0.5"/>
<circle cx="75.17" cy="275.92" r="1.80" fill="#3a78c8" fill-opacity="0.55" stroke="#2a5a9a" stroke-opacity="0.75" stroke-width="0.5"/>
<circle cx="78.36" cy="268.03" r="1.80" fill="#3a78c8" fill-opacity="0.55" stroke="#2a5a9a" stroke-opacity="0.75" stroke-width="0.5"/>
<circle cx="58.86" cy="277.10" r="1.80" fill="#3a78c8" fill-opacity="0.55" stroke="#2a5a9a" stroke-opacity="0.75" stroke-width="0.5"/>
<circle cx="63.05" cy="273.94" r="1.80" fill="#3a78c8" fill-opacity="0.55" stroke="#2a5a9a" stroke-opacity="0.75" stroke-width="0.5"/>
<circle cx="63.51" cy="273.90" r="1.80" fill="#3a78c8" fill-opacity="0.55" stroke="#2a5a9a" stroke-opacity="0.75" stroke-width="0.5"/>
<circle cx="80.77" cy="271.49" r="1.80" fill="#3a78c8" fill-opacity="0.55" stroke="#2a5a9a" stroke-opacity="0.75" stroke-width="0.5"/>
<circle cx="65.52" cy="271.16" r="1.80" fill="#3a78c8" fill-opacity="0.55" stroke="#2a5a9a" stroke-opacity="0.75" stroke-width="0.5"/>
<circle cx="84.76" cy="271.92" r="1.80" fill="#3a78c8" fill-opacity="0.55" stroke="#2a5a9a" stroke-opacity="0.75" stroke-width="0.5"/>
<circle cx="65.61" cy="273.73" r="1.80" fill="#3a78c8" fill-opacity="0.55" stroke="#2a5a9a" stroke-opacity="0.75" stroke-width="0.5"/>
<circle cx="71.33" cy="273.03" r="1.80" fill="#3a78c8" fill-opacity="0.55" stroke="#2a5a9a" stroke-opacity="0.75" stroke-width="0.5"/>
<circle cx="68.88" cy="273.07" r="1.80" fill="#3a78c8" fill-opacity="0.55" stroke="#2a5a9a" stroke-opacity="0.75" stroke-width="0.5"/>
<circle cx="60.13" cy="276.43" r="1.80" fill="#3a78c8" fill-opacity="0.55" stroke="#2a5a9a" stroke-opacity="0.75" stroke-width="0.5"/>
<circle cx="90.43" cy="267.89" r="1.80" fill="#3a78c8" fill-opacity="0.55" stroke="#2a5a9a" stroke-opacity="0.75" stroke-width="0.5"/>
<circle cx="68.38" cy="271.07" r="1.80" fill="#3a78c8" fill-opacity="0.55" stroke="#2a5a9a" stroke-opacity="0.75" stroke-width="0.5"/>
<circle cx="68.51" cy="270.21" r="1.80" fill="#3a78c8" fill-opacity="0.55" stroke="#2a5a9a" stroke-opacity="0.75" stroke-width="0.5"/>
<circle cx="82.96" cy="273.09" r="1.80" fill="#3a78c8" fill-opacity="0.55" stroke="#2a5a9a" stroke-opacity="0.75" stroke-width="0.5"/>
<circle cx="66.58" cy="277.10" r="1.80" fill="#3a78c8" fill-opacity="0.55" stroke="#2a5a9a" stroke-opacity="0.75" stroke-width="0.5"/>
<circle cx="87.46" cy="276.98" r="1.80" fill="#3a78c8" fill-opacity="0.55" stroke="#2a5a9a" stroke-opacity="0.75" stroke-width="0.5"/>
<circle cx="85.48" cy="264.94" r="1.80" fill="#3a78c8" fill-opacity="0.55" stroke="#2a5a9a" stroke-opacity="0.75" stroke-width="0.5"/>
<circle cx="77.18" cy="276.13" r="1.80" fill="#3a78c8" fill-opacity="0.55" stroke="#2a5a9a" stroke-opacity="0.75" stroke-width="0.5"/>
<circle cx="87.09" cy="265.28" r="1.80" fill="#3a78c8" fill-opacity="0.55" stroke="#2a5a9a" stroke-opacity="0.75" stroke-width="0.5"/>
<circle cx="81.64" cy="271.84" r="1.80" fill="#3a78c8" fill-opacity="0.55" stroke="#2a5a9a" stroke-opacity="0.75" stroke-width="0.5"/>
<circle cx="70.77" cy="275.16" r="1.80" fill="#3a78c8" fill-opacity="0.55" stroke="#2a5a9a" stroke-opacity="0.75" stroke-width="0.5"/>
<circle cx="65.03" cy="273.69" r="1.80" fill="#3a78c8" fill-opacity="0.55" stroke="#2a5a9a" stroke-opacity="0.75" stroke-width="0.5"/>
<circle cx="72.60" cy="276.16" r="1.80" fill="#3a78c8" fill-opacity="0.55" stroke="#2a5a9a" stroke-opacity="0.75" stroke-width="0.5"/>
<circle cx="61.65" cy="274.63" r="1.80" fill="#3a78c8" fill-opacity="0.55" stroke="#2a5a9a" stroke-opacity="0.75" stroke-width="0.5"/>
<circle cx="68.04" cy="274.34" r="1.80" fill="#3a78c8" fill-opacity="0.55" stroke="#2a5a9a" stroke-opacity="0.75" stroke-width="0.5"/>
<circle cx="69.01" cy="270.70" r="1.80" fill="#3a78c8" fill-opacity="0.55" stroke="#2a5a9a" stroke-opacity="0.75" stroke-width="0.5"/>
<circle cx="88.16" cy="277.06" r="1.80" fill="#3a78c8" fill-opacity="0.55" stroke="#2a5a9a" stroke-opacity="0.75" stroke-width="0.5"/>
<circle cx="64.86" cy="275.88" r="1.80" fill="#3a78c8" fill-opacity="0.55" stroke="#2a5a9a" stroke-opacity="0.75" stroke-width="0.5"/>
<circle cx="91.07" cy="269.38" r="1.80" fill="#3a78c8" fill-opacity="0.55" stroke="#2a5a9a" stroke-opacity="0.75" stroke-width="0.5"/>
<circle cx="69.47" cy="276.19" r="1.80" fill="#3a78c8" fill-opacity="0.55" stroke="#2a5a9a" stroke-opacity="0.75" stroke-width="0.5"/>
<circle cx="80.65" cy="266.88" r="1.80" fill="#3a78c8" fill-opacity="0.55" stroke="#2a5a9a" stroke-opacity="0.75" stroke-width="0.5"/>
<circle cx="89.24" cy="274.52" r="1.80" fill="#3a78c8" fill-opacity="0.55" stroke="#2a5a9a" stroke-opacity="0.75" stroke-width="0.5"/>
<circle cx="87.58" cy="269.95" r="1.80" fill="#3a78c8" fill-opacity="0.55" stroke="#2a5a9a" stroke-opacity="0.75" stroke-width="0.5"/>
<circle cx="74.32" cy="267.12" r="1.80" fill="#3a78c8" fill-opacity="0.55" stroke="#2a5a9a" stroke-opacity="0.75" stroke-width="0.5"/>
<circle cx="65.99" cy="273.04" r="1.80" fill="#3a78c8" fill-opacity="0.55" stroke="#2a5a9a" stroke-opacity="0.75" stroke-width="0.5"/>
<circle cx="60.99" cy="276.77" r="1.80" fill="#3a78c8" fill-opacity="0.55" stroke="#2a5a9a" stroke-opacity="0.75" stroke-width="0.5"/>
<circle cx="88.53" cy="275.76" r="1.80" fill="#3a78c8" fill-opacity="0.55" stroke="#2a5a9a" stroke-opacity="0.75" stroke-width="0.5"/>
<circle cx="83.47" cy="270.48" r="1.80" fill="#3a78c8" fill-opacity="0.55" stroke="#2a5a9a" stroke-opacity="0.75" stroke-width="0.5"/>
<circle cx="86.20" cy="274.00" r="1.80" fill="#3a78c8" fill-opacity="0.55" stroke="#2a5a9a" stroke-opacity="0.75" stroke-width="0.5"/>
<circle cx="69.51" cy="275.69" r="1.80" fill="#3a78c8" fill-opacity="0.55" stroke="#2a5a9a" stroke-opacity="0.75" stroke-width="0.5"/>
<circle cx="87.08" cy="271.05" r="1.80" fill="#3a78c8" fill-opacity="0.55" stroke="#2a5a9a" stroke-opacity="0.75" stroke-width="0.5"/>
<circle cx="89.98" cy="267.58" r="1.80" fill="#3a78c8" fill-opacity="0.55" stroke="#2a5a9a" stroke-opacity="0.75" stroke-width="0.5"/>
<circle cx="62.68" cy="275.00" r="1.80" fill="#3a78c8" fill-opacity="0.55" stroke="#2a5a9a" stroke-opacity="0.75" stroke-width="0.5"/>
<circle cx="61.65" cy="277.06" r="1.80" fill="#3a78c8" fill-opacity="0.55" stroke="#2a5a9a" stroke-opacity="0.75" stroke-width="0.5"/>
<circle cx="60.61" cy="273.92" r="1.80" fill="#3a78c8" fill-opacity="0.55" stroke="#2a5a9a" stroke-opacity="0.75" stroke-width="0.5"/>
<circle cx="43.02" cy="272.74" r="1.80" fill="#3a78c8" fill-opacity="0.55" stroke="#2a5a9a" stroke-opacity="0.75" stroke-width="0.5"/>
<circle cx="48.07" cy="274.32" r="1.80" fill="#3a78c8" fill-opacity="0.55" stroke="#2a5a9a" stroke-opacity="0.75" stroke-width="0.5"/>
<circle cx="54.13" cy="271.94" r="1.80" fill="#3a78c8" fill-opacity="0.55" stroke="#2a5a9a" stroke-opacity="0.75" stroke-width="0.5"/>
<circle cx="60.19" cy="239.34" r="1.80" fill="#3a78c8" fill-opacity="0.55" stroke="#2a5a9a" stroke-opacity="0.75" stroke-width="0.5"/>
<circle cx="62.21" cy="248.09" r="1.80" fill="#3a78c8" fill-opacity="0.55" stroke="#2a5a9a" stroke-opacity="0.75" stroke-width="0.5"/>
<circle cx="57.16" cy="256.84" r="1.80" fill="#3a78c8" fill-opacity="0.55" stroke="#2a5a9a" stroke-opacity="0.75" stroke-width="0.5"/>
<circle cx="67.26" cy="251.27" r="1.80" fill="#3a78c8" fill-opacity="0.55" stroke="#2a5a9a" stroke-opacity="0.75" stroke-width="0.5"/>
<circle cx="69.28" cy="250.48" r="1.80" fill="#3a78c8" fill-opacity="0.55" stroke="#2a5a9a" stroke-opacity="0.75" stroke-width="0.5"/>
<circle cx="72.31" cy="249.68" r="1.80" fill="#3a78c8" fill-opacity="0.55" stroke="#2a5a9a" stroke-opacity="0.75" stroke-width="0.5"/>
<circle cx="75.34" cy="257.63" r="1.80" fill="#3a78c8" fill-opacity="0.55" stroke="#2a5a9a" stroke-opacity="0.75" stroke-width="0.5"/>
<circle cx="77.36" cy="260.01" r="1.80" fill="#3a78c8" fill-opacity="0.55" stroke="#2a5a9a" stroke-opacity="0.75" stroke-width="0.5"/>
<circle cx="82.41" cy="253.66" r="1.80" fill="#3a78c8" fill-opacity="0.55" stroke="#2a5a9a" stroke-opacity="0.75" stroke-width="0.5"/>
<circle cx="85.44" cy="235.37" r="1.80" fill="#3a78c8" fill-opacity="0.55" stroke="#2a5a9a" stroke-opacity="0.75" stroke-width="0.5"/>
<circle cx="86.45" cy="262.40" r="1.80" fill="#3a78c8" fill-opacity="0.55" stroke="#2a5a9a" stroke-opacity="0.75" stroke-width="0.5"/>
<circle cx="79.38" cy="261.61" r="1.80" fill="#3a78c8" fill-opacity="0.55" stroke="#2a5a9a" stroke-opacity="0.75" stroke-width="0.5"/>
<circle cx="63.22" cy="267.17" r="1.80" fill="#3a78c8" fill-opacity="0.55" stroke="#2a5a9a" stroke-opacity="0.75" stroke-width="0.5"/>
<circle cx="60.19" cy="265.58" r="1.80" fill="#3a78c8" fill-opacity="0.55" stroke="#2a5a9a" stroke-opacity="0.75" stroke-width="0.5"/>
<circle cx="51.10" cy="275.92" r="1.80" fill="#3a78c8" fill-opacity="0.55" stroke="#2a5a9a" stroke-opacity="0.75" stroke-width="0.5"/>
<circle cx="59.18" cy="275.12" r="1.80" fill="#3a78c8" fill-opacity="0.55" stroke="#2a5a9a" stroke-opacity="0.75" stroke-width="0.5"/>
<circle cx="66.25" cy="264.79" r="1.80" fill="#3a78c8" fill-opacity="0.55" stroke="#2a5a9a" stroke-opacity="0.75" stroke-width="0.5"/>
<circle cx="72.31" cy="263.19" r="1.80" fill="#3a78c8" fill-opacity="0.55" stroke="#2a5a9a" stroke-opacity="0.75" stroke-width="0.5"/>
<circle cx="88.47" cy="258.43" r="1.80" fill="#3a78c8" fill-opacity="0.55" stroke="#2a5a9a" stroke-opacity="0.75" stroke-width="0.5"/>
<circle cx="81.40" cy="264.79" r="1.80" fill="#3a78c8" fill-opacity="0.55" stroke="#2a5a9a" stroke-opacity="0.75" stroke-width="0.5"/>
<circle cx="74.33" cy="267.17" r="1.80" fill="#3a78c8" fill-opacity="0.55" stroke="#2a5a9a" stroke-opacity="0.75" stroke-width="0.5"/>
<circle cx="125.23" cy="273.21" r="1.80" fill="#a81828" fill-opacity="0.55" stroke="#7a1a28" stroke-opacity="0.75" stroke-width="0.5"/>
<circle cx="117.55" cy="272.18" r="1.80" fill="#a81828" fill-opacity="0.55" stroke="#7a1a28" stroke-opacity="0.75" stroke-width="0.5"/>
<circle cx="125.13" cy="275.89" r="1.80" fill="#a81828" fill-opacity="0.55" stroke="#7a1a28" stroke-opacity="0.75" stroke-width="0.5"/>
<circle cx="121.50" cy="276.30" r="1.80" fill="#a81828" fill-opacity="0.55" stroke="#7a1a28" stroke-opacity="0.75" stroke-width="0.5"/>
<circle cx="113.10" cy="275.79" r="1.80" fill="#a81828" fill-opacity="0.55" stroke="#7a1a28" stroke-opacity="0.75" stroke-width="0.5"/>
<circle cx="126.99" cy="275.41" r="1.80" fill="#a81828" fill-opacity="0.55" stroke="#7a1a28" stroke-opacity="0.75" stroke-width="0.5"/>
<circle cx="127.58" cy="275.98" r="1.80" fill="#a81828" fill-opacity="0.55" stroke="#7a1a28" stroke-opacity="0.75" stroke-width="0.5"/>
<circle cx="116.46" cy="269.68" r="1.80" fill="#a81828" fill-opacity="0.55" stroke="#7a1a28" stroke-opacity="0.75" stroke-width="0.5"/>
<circle cx="125.91" cy="277.10" r="1.80" fill="#a81828" fill-opacity="0.55" stroke="#7a1a28" stroke-opacity="0.75" stroke-width="0.5"/>
<circle cx="123.21" cy="276.93" r="1.80" fill="#a81828" fill-opacity="0.55" stroke="#7a1a28" stroke-opacity="0.75" stroke-width="0.5"/>
<circle cx="113.68" cy="268.98" r="1.80" fill="#a81828" fill-opacity="0.55" stroke="#7a1a28" stroke-opacity="0.75" stroke-width="0.5"/>
<circle cx="112.39" cy="276.01" r="1.80" fill="#a81828" fill-opacity="0.55" stroke="#7a1a28" stroke-opacity="0.75" stroke-width="0.5"/>
<circle cx="128.67" cy="276.31" r="1.80" fill="#a81828" fill-opacity="0.55" stroke="#7a1a28" stroke-opacity="0.75" stroke-width="0.5"/>
<circle cx="113.68" cy="276.44" r="1.80" fill="#a81828" fill-opacity="0.55" stroke="#7a1a28" stroke-opacity="0.75" stroke-width="0.5"/>
<circle cx="115.85" cy="270.40" r="1.80" fill="#a81828" fill-opacity="0.55" stroke="#7a1a28" stroke-opacity="0.75" stroke-width="0.5"/>
<circle cx="113.47" cy="268.68" r="1.80" fill="#a81828" fill-opacity="0.55" stroke="#7a1a28" stroke-opacity="0.75" stroke-width="0.5"/>
<circle cx="118.20" cy="267.76" r="1.80" fill="#a81828" fill-opacity="0.55" stroke="#7a1a28" stroke-opacity="0.75" stroke-width="0.5"/>
<circle cx="127.31" cy="276.50" r="1.80" fill="#a81828" fill-opacity="0.55" stroke="#7a1a28" stroke-opacity="0.75" stroke-width="0.5"/>
<circle cx="116.05" cy="273.64" r="1.80" fill="#a81828" fill-opacity="0.55" stroke="#7a1a28" stroke-opacity="0.75" stroke-width="0.5"/>
<circle cx="113.42" cy="272.01" r="1.80" fill="#a81828" fill-opacity="0.55" stroke="#7a1a28" stroke-opacity="0.75" stroke-width="0.5"/>
<circle cx="112.38" cy="277.10" r="1.80" fill="#a81828" fill-opacity="0.55" stroke="#7a1a28" stroke-opacity="0.75" stroke-width="0.5"/>
<circle cx="128.57" cy="276.63" r="1.80" fill="#a81828" fill-opacity="0.55" stroke="#7a1a28" stroke-opacity="0.75" stroke-width="0.5"/>
<circle cx="121.94" cy="274.90" r="1.80" fill="#a81828" fill-opacity="0.55" stroke="#7a1a28" stroke-opacity="0.75" stroke-width="0.5"/>
<circle cx="117.08" cy="276.94" r="1.80" fill="#a81828" fill-opacity="0.55" stroke="#7a1a28" stroke-opacity="0.75" stroke-width="0.5"/>
<circle cx="127.38" cy="273.52" r="1.80" fill="#a81828" fill-opacity="0.55" stroke="#7a1a28" stroke-opacity="0.75" stroke-width="0.5"/>
<circle cx="128.35" cy="276.99" r="1.80" fill="#a81828" fill-opacity="0.55" stroke="#7a1a28" stroke-opacity="0.75" stroke-width="0.5"/>
<circle cx="115.39" cy="272.10" r="1.80" fill="#a81828" fill-opacity="0.55" stroke="#7a1a28" stroke-opacity="0.75" stroke-width="0.5"/>
<circle cx="128.53" cy="275.90" r="1.80" fill="#a81828" fill-opacity="0.55" stroke="#7a1a28" stroke-opacity="0.75" stroke-width="0.5"/>
<circle cx="123.52" cy="273.72" r="1.80" fill="#a81828" fill-opacity="0.55" stroke="#7a1a28" stroke-opacity="0.75" stroke-width="0.5"/>
<circle cx="116.15" cy="272.91" r="1.80" fill="#a81828" fill-opacity="0.55" stroke="#7a1a28" stroke-opacity="0.75" stroke-width="0.5"/>
<circle cx="116.98" cy="275.81" r="1.80" fill="#a81828" fill-opacity="0.55" stroke="#7a1a28" stroke-opacity="0.75" stroke-width="0.5"/>
<circle cx="113.10" cy="275.68" r="1.80" fill="#a81828" fill-opacity="0.55" stroke="#7a1a28" stroke-opacity="0.75" stroke-width="0.5"/>
<circle cx="128.58" cy="276.22" r="1.80" fill="#a81828" fill-opacity="0.55" stroke="#7a1a28" stroke-opacity="0.75" stroke-width="0.5"/>
<circle cx="122.90" cy="273.65" r="1.80" fill="#a81828" fill-opacity="0.55" stroke="#7a1a28" stroke-opacity="0.75" stroke-width="0.5"/>
<circle cx="127.85" cy="276.27" r="1.80" fill="#a81828" fill-opacity="0.55" stroke="#7a1a28" stroke-opacity="0.75" stroke-width="0.5"/>
<circle cx="116.97" cy="275.13" r="1.80" fill="#a81828" fill-opacity="0.55" stroke="#7a1a28" stroke-opacity="0.75" stroke-width="0.5"/>
<circle cx="117.14" cy="268.94" r="1.80" fill="#a81828" fill-opacity="0.55" stroke="#7a1a28" stroke-opacity="0.75" stroke-width="0.5"/>
<circle cx="127.04" cy="276.44" r="1.80" fill="#a81828" fill-opacity="0.55" stroke="#7a1a28" stroke-opacity="0.75" stroke-width="0.5"/>
<circle cx="117.44" cy="272.98" r="1.80" fill="#a81828" fill-opacity="0.55" stroke="#7a1a28" stroke-opacity="0.75" stroke-width="0.5"/>
<circle cx="121.64" cy="273.65" r="1.80" fill="#a81828" fill-opacity="0.55" stroke="#7a1a28" stroke-opacity="0.75" stroke-width="0.5"/>
<circle cx="115.91" cy="277.08" r="1.80" fill="#a81828" fill-opacity="0.55" stroke="#7a1a28" stroke-opacity="0.75" stroke-width="0.5"/>
<circle cx="115.89" cy="276.90" r="1.80" fill="#a81828" fill-opacity="0.55" stroke="#7a1a28" stroke-opacity="0.75" stroke-width="0.5"/>
<circle cx="121.16" cy="276.96" r="1.80" fill="#a81828" fill-opacity="0.55" stroke="#7a1a28" stroke-opacity="0.75" stroke-width="0.5"/>
<circle cx="112.99" cy="272.27" r="1.80" fill="#a81828" fill-opacity="0.55" stroke="#7a1a28" stroke-opacity="0.75" stroke-width="0.5"/>
<circle cx="116.69" cy="269.55" r="1.80" fill="#a81828" fill-opacity="0.55" stroke="#7a1a28" stroke-opacity="0.75" stroke-width="0.5"/>
<circle cx="120.17" cy="270.31" r="1.80" fill="#a81828" fill-opacity="0.55" stroke="#7a1a28" stroke-opacity="0.75" stroke-width="0.5"/>
<circle cx="114.35" cy="273.57" r="1.80" fill="#a81828" fill-opacity="0.55" stroke="#7a1a28" stroke-opacity="0.75" stroke-width="0.5"/>
<circle cx="125.35" cy="277.00" r="1.80" fill="#a81828" fill-opacity="0.55" stroke="#7a1a28" stroke-opacity="0.75" stroke-width="0.5"/>
<circle cx="128.00" cy="276.87" r="1.80" fill="#a81828" fill-opacity="0.55" stroke="#7a1a28" stroke-opacity="0.75" stroke-width="0.5"/>
<circle cx="125.03" cy="271.92" r="1.80" fill="#a81828" fill-opacity="0.55" stroke="#7a1a28" stroke-opacity="0.75" stroke-width="0.5"/>
<circle cx="125.81" cy="276.24" r="1.80" fill="#a81828" fill-opacity="0.55" stroke="#7a1a28" stroke-opacity="0.75" stroke-width="0.5"/>
<circle cx="113.54" cy="273.52" r="1.80" fill="#a81828" fill-opacity="0.55" stroke="#7a1a28" stroke-opacity="0.75" stroke-width="0.5"/>
<circle cx="127.49" cy="276.52" r="1.80" fill="#a81828" fill-opacity="0.55" stroke="#7a1a28" stroke-opacity="0.75" stroke-width="0.5"/>
<circle cx="127.05" cy="276.90" r="1.80" fill="#a81828" fill-opacity="0.55" stroke="#7a1a28" stroke-opacity="0.75" stroke-width="0.5"/>
<circle cx="127.33" cy="277.09" r="1.80" fill="#a81828" fill-opacity="0.55" stroke="#7a1a28" stroke-opacity="0.75" stroke-width="0.5"/>
<circle cx="117.13" cy="268.11" r="1.80" fill="#a81828" fill-opacity="0.55" stroke="#7a1a28" stroke-opacity="0.75" stroke-width="0.5"/>
<circle cx="125.50" cy="272.79" r="1.80" fill="#a81828" fill-opacity="0.55" stroke="#7a1a28" stroke-opacity="0.75" stroke-width="0.5"/>
<circle cx="126.14" cy="274.16" r="1.80" fill="#a81828" fill-opacity="0.55" stroke="#7a1a28" stroke-opacity="0.75" stroke-width="0.5"/>
<circle cx="123.54" cy="276.64" r="1.80" fill="#a81828" fill-opacity="0.55" stroke="#7a1a28" stroke-opacity="0.75" stroke-width="0.5"/>
<circle cx="119.13" cy="276.53" r="1.80" fill="#a81828" fill-opacity="0.55" stroke="#7a1a28" stroke-opacity="0.75" stroke-width="0.5"/>
<circle cx="123.97" cy="273.84" r="1.80" fill="#a81828" fill-opacity="0.55" stroke="#7a1a28" stroke-opacity="0.75" stroke-width="0.5"/>
<circle cx="116.04" cy="276.94" r="1.80" fill="#a81828" fill-opacity="0.55" stroke="#7a1a28" stroke-opacity="0.75" stroke-width="0.5"/>
<circle cx="128.24" cy="274.79" r="1.80" fill="#a81828" fill-opacity="0.55" stroke="#7a1a28" stroke-opacity="0.75" stroke-width="0.5"/>
<circle cx="121.13" cy="273.98" r="1.80" fill="#a81828" fill-opacity="0.55" stroke="#7a1a28" stroke-opacity="0.75" stroke-width="0.5"/>
<circle cx="126.32" cy="275.75" r="1.80" fill="#a81828" fill-opacity="0.55" stroke="#7a1a28" stroke-opacity="0.75" stroke-width="0.5"/>
<circle cx="118.49" cy="275.22" r="1.80" fill="#a81828" fill-opacity="0.55" stroke="#7a1a28" stroke-opacity="0.75" stroke-width="0.5"/>
<circle cx="116.13" cy="277.07" r="1.80" fill="#a81828" fill-opacity="0.55" stroke="#7a1a28" stroke-opacity="0.75" stroke-width="0.5"/>
<circle cx="122.80" cy="275.29" r="1.80" fill="#a81828" fill-opacity="0.55" stroke="#7a1a28" stroke-opacity="0.75" stroke-width="0.5"/>
<circle cx="121.50" cy="276.99" r="1.80" fill="#a81828" fill-opacity="0.55" stroke="#7a1a28" stroke-opacity="0.75" stroke-width="0.5"/>
<circle cx="117.79" cy="276.59" r="1.80" fill="#a81828" fill-opacity="0.55" stroke="#7a1a28" stroke-opacity="0.75" stroke-width="0.5"/>
<circle cx="113.85" cy="275.81" r="1.80" fill="#a81828" fill-opacity="0.55" stroke="#7a1a28" stroke-opacity="0.75" stroke-width="0.5"/>
<circle cx="125.93" cy="275.93" r="1.80" fill="#a81828" fill-opacity="0.55" stroke="#7a1a28" stroke-opacity="0.75" stroke-width="0.5"/>
<circle cx="118.59" cy="272.54" r="1.80" fill="#a81828" fill-opacity="0.55" stroke="#7a1a28" stroke-opacity="0.75" stroke-width="0.5"/>
<circle cx="115.71" cy="277.10" r="1.80" fill="#a81828" fill-opacity="0.55" stroke="#7a1a28" stroke-opacity="0.75" stroke-width="0.5"/>
<circle cx="120.78" cy="274.24" r="1.80" fill="#a81828" fill-opacity="0.55" stroke="#7a1a28" stroke-opacity="0.75" stroke-width="0.5"/>
<circle cx="122.84" cy="275.15" r="1.80" fill="#a81828" fill-opacity="0.55" stroke="#7a1a28" stroke-opacity="0.75" stroke-width="0.5"/>
<circle cx="123.49" cy="273.16" r="1.80" fill="#a81828" fill-opacity="0.55" stroke="#7a1a28" stroke-opacity="0.75" stroke-width="0.5"/>
<circle cx="115.79" cy="273.47" r="1.80" fill="#a81828" fill-opacity="0.55" stroke="#7a1a28" stroke-opacity="0.75" stroke-width="0.5"/>
<circle cx="119.92" cy="276.18" r="1.80" fill="#a81828" fill-opacity="0.55" stroke="#7a1a28" stroke-opacity="0.75" stroke-width="0.5"/>
<circle cx="118.78" cy="273.16" r="1.80" fill="#a81828" fill-opacity="0.55" stroke="#7a1a28" stroke-opacity="0.75" stroke-width="0.5"/>
<circle cx="127.27" cy="273.74" r="1.80" fill="#a81828" fill-opacity="0.55" stroke="#7a1a28" stroke-opacity="0.75" stroke-width="0.5"/>
<circle cx="116.43" cy="271.58" r="1.80" fill="#a81828" fill-opacity="0.55" stroke="#7a1a28" stroke-opacity="0.75" stroke-width="0.5"/>
<circle cx="112.53" cy="276.93" r="1.80" fill="#a81828" fill-opacity="0.55" stroke="#7a1a28" stroke-opacity="0.75" stroke-width="0.5"/>
<circle cx="120.49" cy="270.30" r="1.80" fill="#a81828" fill-opacity="0.55" stroke="#7a1a28" stroke-opacity="0.75" stroke-width="0.5"/>
<circle cx="114.44" cy="270.40" r="1.80" fill="#a81828" fill-opacity="0.55" stroke="#7a1a28" stroke-opacity="0.75" stroke-width="0.5"/>
<circle cx="126.86" cy="276.39" r="1.80" fill="#a81828" fill-opacity="0.55" stroke="#7a1a28" stroke-opacity="0.75" stroke-width="0.5"/>
<circle cx="123.59" cy="272.22" r="1.80" fill="#a81828" fill-opacity="0.55" stroke="#7a1a28" stroke-opacity="0.75" stroke-width="0.5"/>
<circle cx="118.08" cy="271.32" r="1.80" fill="#a81828" fill-opacity="0.55" stroke="#7a1a28" stroke-opacity="0.75" stroke-width="0.5"/>
<circle cx="124.34" cy="274.47" r="1.80" fill="#a81828" fill-opacity="0.55" stroke="#7a1a28" stroke-opacity="0.75" stroke-width="0.5"/>
<circle cx="126.40" cy="273.37" r="1.80" fill="#a81828" fill-opacity="0.55" stroke="#7a1a28" stroke-opacity="0.75" stroke-width="0.5"/>
<circle cx="128.18" cy="275.71" r="1.80" fill="#a81828" fill-opacity="0.55" stroke="#7a1a28" stroke-opacity="0.75" stroke-width="0.5"/>
<circle cx="114.73" cy="275.84" r="1.80" fill="#a81828" fill-opacity="0.55" stroke="#7a1a28" stroke-opacity="0.75" stroke-width="0.5"/>
<circle cx="115.44" cy="272.67" r="1.80" fill="#a81828" fill-opacity="0.55" stroke="#7a1a28" stroke-opacity="0.75" stroke-width="0.5"/>
<circle cx="124.71" cy="277.04" r="1.80" fill="#a81828" fill-opacity="0.55" stroke="#7a1a28" stroke-opacity="0.75" stroke-width="0.5"/>
<circle cx="123.40" cy="273.24" r="1.80" fill="#a81828" fill-opacity="0.55" stroke="#7a1a28" stroke-opacity="0.75" stroke-width="0.5"/>
<circle cx="143.01" cy="247.30" r="1.80" fill="#a81828" fill-opacity="0.55" stroke="#7a1a28" stroke-opacity="0.75" stroke-width="0.5"/>
<circle cx="127.86" cy="256.04" r="1.80" fill="#a81828" fill-opacity="0.55" stroke="#7a1a28" stroke-opacity="0.75" stroke-width="0.5"/>
<circle cx="124.83" cy="258.43" r="1.80" fill="#a81828" fill-opacity="0.55" stroke="#7a1a28" stroke-opacity="0.75" stroke-width="0.5"/>
<circle cx="120.79" cy="261.61" r="1.80" fill="#a81828" fill-opacity="0.55" stroke="#7a1a28" stroke-opacity="0.75" stroke-width="0.5"/>
<circle cx="116.75" cy="262.40" r="1.80" fill="#a81828" fill-opacity="0.55" stroke="#7a1a28" stroke-opacity="0.75" stroke-width="0.5"/>
<circle cx="113.72" cy="263.99" r="1.80" fill="#a81828" fill-opacity="0.55" stroke="#7a1a28" stroke-opacity="0.75" stroke-width="0.5"/>
<circle cx="123.82" cy="266.38" r="1.80" fill="#a81828" fill-opacity="0.55" stroke="#7a1a28" stroke-opacity="0.75" stroke-width="0.5"/>
<circle cx="128.87" cy="268.76" r="1.80" fill="#a81828" fill-opacity="0.55" stroke="#7a1a28" stroke-opacity="0.75" stroke-width="0.5"/>
<line x1="34.50" y1="228.00" x2="34.50" y2="281.00" stroke="#222" stroke-width="1.1" />
<line x1="34.30" y1="280.50" x2="166.60" y2="280.50" stroke="#222" stroke-width="1.1" />
<text x="274.30" y="222.70" font-size="9.0" text-anchor="middle" fill="#222" stroke="#222" stroke-width="0.08" font-weight="normal" font-style="normal" textLength="54" lengthAdjust="spacingAndGlyphs" >N2-KO vs. WT</text>
<line x1="204.70" y1="278.50" x2="207.20" y2="278.50" stroke="#222" stroke-width="0.9" />
<text x="200.90" y="280.58" font-size="6.6" text-anchor="end" fill="#222" stroke="#222" stroke-width="0.08" font-weight="normal" font-style="normal" >0</text>
<line x1="204.70" y1="262.50" x2="207.20" y2="262.50" stroke="#222" stroke-width="0.9" />
<text x="200.90" y="264.68" font-size="6.6" text-anchor="end" fill="#222" stroke="#222" stroke-width="0.08" font-weight="normal" font-style="normal" >20</text>
<line x1="204.70" y1="246.50" x2="207.20" y2="246.50" stroke="#222" stroke-width="0.9" />
<text x="200.90" y="248.78" font-size="6.6" text-anchor="end" fill="#222" stroke="#222" stroke-width="0.08" font-weight="normal" font-style="normal" >40</text>
<line x1="204.70" y1="230.50" x2="207.20" y2="230.50" stroke="#222" stroke-width="0.9" />
<text x="200.90" y="232.88" font-size="6.6" text-anchor="end" fill="#222" stroke="#222" stroke-width="0.08" font-weight="normal" font-style="normal" >60</text>
<line x1="213.50" y1="280.80" x2="213.50" y2="283.50" stroke="#222" stroke-width="0.9" />
<text x="213.40" y="292.18" font-size="6.6" text-anchor="middle" fill="#222" stroke="#222" stroke-width="0.08" font-weight="normal" font-style="normal" >−6</text>
<line x1="243.50" y1="280.80" x2="243.50" y2="283.50" stroke="#222" stroke-width="0.9" />
<text x="243.70" y="292.18" font-size="6.6" text-anchor="middle" fill="#222" stroke="#222" stroke-width="0.08" font-weight="normal" font-style="normal" >−3</text>
<line x1="274.50" y1="280.80" x2="274.50" y2="283.50" stroke="#222" stroke-width="0.9" />
<text x="274.00" y="292.18" font-size="6.6" text-anchor="middle" fill="#222" stroke="#222" stroke-width="0.08" font-weight="normal" font-style="normal" >0</text>
<line x1="304.50" y1="280.80" x2="304.50" y2="283.50" stroke="#222" stroke-width="0.9" />
<text x="304.30" y="292.18" font-size="6.6" text-anchor="middle" fill="#222" stroke="#222" stroke-width="0.08" font-weight="normal" font-style="normal" >3</text>
<line x1="334.50" y1="280.80" x2="334.50" y2="283.50" stroke="#222" stroke-width="0.9" />
<text x="334.60" y="292.18" font-size="6.6" text-anchor="middle" fill="#222" stroke="#222" stroke-width="0.08" font-weight="normal" font-style="normal" >6</text>
<text x="273.65" y="303.59" font-size="8.1" text-anchor="middle" fill="#222" stroke="#222" stroke-width="0.08" font-weight="normal" font-style="normal" textLength="48.7" lengthAdjust="spacingAndGlyphs" >log<tspan font-size="5.2" dy="1.6">2</tspan><tspan dy="-1.6">FoldChange</tspan></text>
<text x="183.60" y="257.04" font-size="8.8" text-anchor="middle" fill="#222" stroke="#222" stroke-width="0.08" font-weight="normal" font-style="normal" transform="rotate(-90 183.60 254.00)" textLength="43.6" lengthAdjust="spacingAndGlyphs" >−log<tspan font-size="5.6" dy="1.8">10</tspan><tspan dy="-1.8">(</tspan><tspan font-style="italic">P</tspan>value)</text>
<circle cx="273.49" cy="277.40" r="2.00" fill="#d4d4d4" fill-opacity="0.5" />
<circle cx="277.36" cy="277.20" r="2.00" fill="#d4d4d4" fill-opacity="0.5" />
<circle cx="264.12" cy="272.14" r="2.00" fill="#d4d4d4" fill-opacity="0.5" />
<circle cx="269.44" cy="272.21" r="2.00" fill="#d4d4d4" fill-opacity="0.5" />
<circle cx="277.85" cy="274.29" r="2.00" fill="#d4d4d4" fill-opacity="0.5" />
<circle cx="275.18" cy="276.82" r="2.00" fill="#d4d4d4" fill-opacity="0.5" />
<circle cx="266.84" cy="272.18" r="2.00" fill="#d4d4d4" fill-opacity="0.5" />
<circle cx="267.18" cy="267.97" r="2.00" fill="#d4d4d4" fill-opacity="0.5" />
<circle cx="265.09" cy="266.78" r="2.00" fill="#d4d4d4" fill-opacity="0.5" />
<circle cx="265.41" cy="268.29" r="2.00" fill="#d4d4d4" fill-opacity="0.5" />
<circle cx="270.71" cy="275.81" r="2.00" fill="#d4d4d4" fill-opacity="0.5" />
<circle cx="280.92" cy="277.83" r="2.00" fill="#d4d4d4" fill-opacity="0.5" />
<circle cx="265.13" cy="265.71" r="2.00" fill="#d4d4d4" fill-opacity="0.5" />
<circle cx="274.18" cy="278.16" r="2.00" fill="#d4d4d4" fill-opacity="0.5" />
<circle cx="283.84" cy="265.36" r="2.00" fill="#d4d4d4" fill-opacity="0.5" />
<circle cx="266.17" cy="271.75" r="2.00" fill="#d4d4d4" fill-opacity="0.5" />
<circle cx="266.63" cy="273.49" r="2.00" fill="#d4d4d4" fill-opacity="0.5" />
<circle cx="276.45" cy="277.40" r="2.00" fill="#d4d4d4" fill-opacity="0.5" />
<circle cx="277.98" cy="277.72" r="2.00" fill="#d4d4d4" fill-opacity="0.5" />
<circle cx="267.36" cy="269.08" r="2.00" fill="#d4d4d4" fill-opacity="0.5" />
<circle cx="271.99" cy="276.71" r="2.00" fill="#d4d4d4" fill-opacity="0.5" />
<circle cx="275.94" cy="276.59" r="2.00" fill="#d4d4d4" fill-opacity="0.5" />
<circle cx="271.67" cy="278.08" r="2.00" fill="#d4d4d4" fill-opacity="0.5" />
<circle cx="278.57" cy="271.27" r="2.00" fill="#d4d4d4" fill-opacity="0.5" />
<circle cx="283.62" cy="268.56" r="2.00" fill="#d4d4d4" fill-opacity="0.5" />
<circle cx="271.10" cy="276.29" r="2.00" fill="#d4d4d4" fill-opacity="0.5" />
<circle cx="277.84" cy="273.92" r="2.00" fill="#d4d4d4" fill-opacity="0.5" />
<circle cx="266.20" cy="274.22" r="2.00" fill="#d4d4d4" fill-opacity="0.5" />
<circle cx="271.24" cy="275.78" r="2.00" fill="#d4d4d4" fill-opacity="0.5" />
<circle cx="280.26" cy="272.46" r="2.00" fill="#d4d4d4" fill-opacity="0.5" />
<circle cx="264.47" cy="266.74" r="2.00" fill="#d4d4d4" fill-opacity="0.5" />
<circle cx="272.59" cy="276.90" r="2.00" fill="#d4d4d4" fill-opacity="0.5" />
<circle cx="268.39" cy="273.74" r="2.00" fill="#d4d4d4" fill-opacity="0.5" />
<circle cx="271.74" cy="275.42" r="2.00" fill="#d4d4d4" fill-opacity="0.5" />
<circle cx="265.97" cy="269.98" r="2.00" fill="#d4d4d4" fill-opacity="0.5" />
<circle cx="267.50" cy="270.37" r="2.00" fill="#d4d4d4" fill-opacity="0.5" />
<circle cx="264.64" cy="273.47" r="2.00" fill="#d4d4d4" fill-opacity="0.5" />
<circle cx="270.85" cy="274.89" r="2.00" fill="#d4d4d4" fill-opacity="0.5" />
<circle cx="264.95" cy="271.05" r="2.00" fill="#d4d4d4" fill-opacity="0.5" />
<circle cx="268.12" cy="274.86" r="2.00" fill="#d4d4d4" fill-opacity="0.5" />
<circle cx="273.52" cy="277.12" r="2.00" fill="#d4d4d4" fill-opacity="0.5" />
<circle cx="273.62" cy="277.22" r="2.00" fill="#d4d4d4" fill-opacity="0.5" />
<circle cx="267.28" cy="267.99" r="2.00" fill="#d4d4d4" fill-opacity="0.5" />
<circle cx="271.26" cy="277.17" r="2.00" fill="#d4d4d4" fill-opacity="0.5" />
<circle cx="279.02" cy="270.89" r="2.00" fill="#d4d4d4" fill-opacity="0.5" />
<circle cx="264.03" cy="273.58" r="2.00" fill="#d4d4d4" fill-opacity="0.5" />
<circle cx="279.47" cy="274.59" r="2.00" fill="#d4d4d4" fill-opacity="0.5" />
<circle cx="268.78" cy="278.11" r="2.00" fill="#d4d4d4" fill-opacity="0.5" />
<circle cx="264.71" cy="269.09" r="2.00" fill="#d4d4d4" fill-opacity="0.5" />
<circle cx="283.77" cy="264.80" r="2.00" fill="#d4d4d4" fill-opacity="0.5" />
<circle cx="274.07" cy="278.26" r="2.00" fill="#d4d4d4" fill-opacity="0.5" />
<circle cx="270.41" cy="273.68" r="2.00" fill="#d4d4d4" fill-opacity="0.5" />
<circle cx="280.71" cy="270.63" r="2.00" fill="#d4d4d4" fill-opacity="0.5" />
<circle cx="268.54" cy="273.06" r="2.00" fill="#d4d4d4" fill-opacity="0.5" />
<circle cx="273.54" cy="277.47" r="2.00" fill="#d4d4d4" fill-opacity="0.5" />
<circle cx="269.21" cy="271.03" r="2.00" fill="#d4d4d4" fill-opacity="0.5" />
<circle cx="281.97" cy="275.20" r="2.00" fill="#d4d4d4" fill-opacity="0.5" />
<circle cx="269.78" cy="272.36" r="2.00" fill="#d4d4d4" fill-opacity="0.5" />
<circle cx="269.52" cy="271.56" r="2.00" fill="#d4d4d4" fill-opacity="0.5" />
<circle cx="274.31" cy="277.52" r="2.00" fill="#d4d4d4" fill-opacity="0.5" />
<circle cx="278.13" cy="276.41" r="2.00" fill="#d4d4d4" fill-opacity="0.5" />
<circle cx="269.66" cy="276.01" r="2.00" fill="#d4d4d4" fill-opacity="0.5" />
<circle cx="277.70" cy="273.98" r="2.00" fill="#d4d4d4" fill-opacity="0.5" />
<circle cx="266.56" cy="267.12" r="2.00" fill="#d4d4d4" fill-opacity="0.5" />
<circle cx="272.39" cy="277.46" r="2.00" fill="#d4d4d4" fill-opacity="0.5" />
<circle cx="272.69" cy="276.11" r="2.00" fill="#d4d4d4" fill-opacity="0.5" />
<circle cx="275.21" cy="276.86" r="2.00" fill="#d4d4d4" fill-opacity="0.5" />
<circle cx="282.48" cy="265.20" r="2.00" fill="#d4d4d4" fill-opacity="0.5" />
<circle cx="279.26" cy="274.12" r="2.00" fill="#d4d4d4" fill-opacity="0.5" />
<circle cx="275.79" cy="275.66" r="2.00" fill="#d4d4d4" fill-opacity="0.5" />
<circle cx="279.84" cy="272.21" r="2.00" fill="#d4d4d4" fill-opacity="0.5" />
<circle cx="270.92" cy="276.14" r="2.00" fill="#d4d4d4" fill-opacity="0.5" />
<circle cx="278.76" cy="273.53" r="2.00" fill="#d4d4d4" fill-opacity="0.5" />
<circle cx="264.25" cy="268.02" r="2.00" fill="#d4d4d4" fill-opacity="0.5" />
<circle cx="282.16" cy="267.02" r="2.00" fill="#d4d4d4" fill-opacity="0.5" />
<circle cx="282.03" cy="265.85" r="2.00" fill="#d4d4d4" fill-opacity="0.5" />
<circle cx="274.71" cy="277.08" r="2.00" fill="#d4d4d4" fill-opacity="0.5" />
<circle cx="271.57" cy="277.70" r="2.00" fill="#d4d4d4" fill-opacity="0.5" />
<circle cx="271.03" cy="276.48" r="2.00" fill="#d4d4d4" fill-opacity="0.5" />
<circle cx="282.77" cy="268.27" r="2.00" fill="#d4d4d4" fill-opacity="0.5" />
<circle cx="274.84" cy="277.18" r="2.00" fill="#d4d4d4" fill-opacity="0.5" />
<circle cx="266.42" cy="270.68" r="2.00" fill="#d4d4d4" fill-opacity="0.5" />
<circle cx="278.05" cy="275.28" r="2.00" fill="#d4d4d4" fill-opacity="0.5" />
<circle cx="268.86" cy="274.32" r="2.00" fill="#d4d4d4" fill-opacity="0.5" />
<circle cx="270.44" cy="274.19" r="2.00" fill="#d4d4d4" fill-opacity="0.5" />
<circle cx="266.76" cy="276.55" r="2.00" fill="#d4d4d4" fill-opacity="0.5" />
<circle cx="270.21" cy="273.87" r="2.00" fill="#d4d4d4" fill-opacity="0.5" />
<circle cx="279.24" cy="272.30" r="2.00" fill="#d4d4d4" fill-opacity="0.5" />
<circle cx="282.78" cy="272.26" r="2.00" fill="#d4d4d4" fill-opacity="0.5" />
<circle cx="264.50" cy="270.69" r="2.00" fill="#d4d4d4" fill-opacity="0.5" />
<circle cx="272.86" cy="277.79" r="2.00" fill="#d4d4d4" fill-opacity="0.5" />
<circle cx="277.38" cy="276.07" r="2.00" fill="#d4d4d4" fill-opacity="0.5" />
<circle cx="268.71" cy="274.85" r="2.00" fill="#d4d4d4" fill-opacity="0.5" />
<circle cx="282.96" cy="278.02" r="2.00" fill="#d4d4d4" fill-opacity="0.5" />
<circle cx="271.18" cy="276.71" r="2.00" fill="#d4d4d4" fill-opacity="0.5" />
<circle cx="267.97" cy="273.31" r="2.00" fill="#d4d4d4" fill-opacity="0.5" />
<circle cx="268.35" cy="269.82" r="2.00" fill="#d4d4d4" fill-opacity="0.5" />
<circle cx="274.02" cy="277.70" r="2.00" fill="#d4d4d4" fill-opacity="0.5" />
<circle cx="267.18" cy="272.25" r="2.00" fill="#d4d4d4" fill-opacity="0.5" />
<circle cx="276.15" cy="275.34" r="2.00" fill="#d4d4d4" fill-opacity="0.5" />
<circle cx="268.95" cy="273.99" r="2.00" fill="#d4d4d4" fill-opacity="0.5" />
<circle cx="281.17" cy="268.11" r="2.00" fill="#d4d4d4" fill-opacity="0.5" />
<circle cx="268.50" cy="272.93" r="2.00" fill="#d4d4d4" fill-opacity="0.5" />
<circle cx="279.28" cy="274.29" r="2.00" fill="#d4d4d4" fill-opacity="0.5" />
<circle cx="277.50" cy="274.37" r="2.00" fill="#d4d4d4" fill-opacity="0.5" />
<circle cx="283.54" cy="269.88" r="2.00" fill="#d4d4d4" fill-opacity="0.5" />
<circle cx="277.65" cy="275.84" r="2.00" fill="#d4d4d4" fill-opacity="0.5" />
<circle cx="278.69" cy="275.30" r="2.00" fill="#d4d4d4" fill-opacity="0.5" />
<circle cx="274.00" cy="277.95" r="2.00" fill="#d4d4d4" fill-opacity="0.5" />
<circle cx="270.11" cy="277.07" r="2.00" fill="#d4d4d4" fill-opacity="0.5" />
<circle cx="268.46" cy="272.84" r="2.00" fill="#d4d4d4" fill-opacity="0.5" />
<circle cx="268.99" cy="277.62" r="2.00" fill="#d4d4d4" fill-opacity="0.5" />
<circle cx="280.13" cy="274.66" r="2.00" fill="#d4d4d4" fill-opacity="0.5" />
<circle cx="282.81" cy="269.33" r="2.00" fill="#d4d4d4" fill-opacity="0.5" />
<circle cx="271.76" cy="275.14" r="2.00" fill="#d4d4d4" fill-opacity="0.5" />
<circle cx="282.02" cy="272.90" r="2.00" fill="#d4d4d4" fill-opacity="0.5" />
<circle cx="266.44" cy="269.52" r="2.00" fill="#d4d4d4" fill-opacity="0.5" />
<circle cx="280.92" cy="270.66" r="2.00" fill="#d4d4d4" fill-opacity="0.5" />
<circle cx="279.74" cy="273.75" r="2.00" fill="#d4d4d4" fill-opacity="0.5" />
<circle cx="276.38" cy="277.02" r="2.00" fill="#d4d4d4" fill-opacity="0.5" />
<circle cx="272.12" cy="276.91" r="2.00" fill="#d4d4d4" fill-opacity="0.5" />
<circle cx="271.67" cy="276.55" r="2.00" fill="#d4d4d4" fill-opacity="0.5" />
<circle cx="280.21" cy="275.86" r="2.00" fill="#d4d4d4" fill-opacity="0.5" />
<circle cx="268.04" cy="275.08" r="2.00" fill="#d4d4d4" fill-opacity="0.5" />
<circle cx="283.52" cy="270.26" r="2.00" fill="#d4d4d4" fill-opacity="0.5" />
<circle cx="264.97" cy="266.60" r="2.00" fill="#d4d4d4" fill-opacity="0.5" />
<circle cx="281.55" cy="267.61" r="2.00" fill="#d4d4d4" fill-opacity="0.5" />
<circle cx="271.15" cy="274.83" r="2.00" fill="#d4d4d4" fill-opacity="0.5" />
<circle cx="270.07" cy="277.04" r="2.00" fill="#d4d4d4" fill-opacity="0.5" />
<circle cx="281.38" cy="267.76" r="2.00" fill="#d4d4d4" fill-opacity="0.5" />
<circle cx="268.17" cy="269.82" r="2.00" fill="#d4d4d4" fill-opacity="0.5" />
<circle cx="264.40" cy="273.03" r="2.00" fill="#d4d4d4" fill-opacity="0.5" />
<circle cx="264.16" cy="275.01" r="2.00" fill="#d4d4d4" fill-opacity="0.5" />
<circle cx="267.20" cy="269.77" r="2.00" fill="#d4d4d4" fill-opacity="0.5" />
<circle cx="269.89" cy="276.59" r="2.00" fill="#d4d4d4" fill-opacity="0.5" />
<circle cx="267.62" cy="274.21" r="2.00" fill="#d4d4d4" fill-opacity="0.5" />
<circle cx="281.32" cy="270.20" r="2.00" fill="#d4d4d4" fill-opacity="0.5" />
<circle cx="265.97" cy="268.38" r="2.00" fill="#d4d4d4" fill-opacity="0.5" />
<circle cx="274.73" cy="277.51" r="2.00" fill="#d4d4d4" fill-opacity="0.5" />
<circle cx="274.56" cy="277.37" r="2.00" fill="#d4d4d4" fill-opacity="0.5" />
<line x1="263.50" y1="228.00" x2="263.50" y2="280.00" stroke="#c4c4c4" stroke-width="1.2" stroke-dasharray="4.5,2.5"/>
<line x1="284.50" y1="228.00" x2="284.50" y2="280.00" stroke="#c4c4c4" stroke-width="1.2" stroke-dasharray="4.5,2.5"/>
<line x1="208.20" y1="276.50" x2="342.00" y2="276.50" stroke="#cccccc" stroke-width="1.2" stroke-dasharray="4.5,2.5"/>
<circle cx="262.61" cy="267.49" r="1.80" fill="#3a78c8" fill-opacity="0.55" stroke="#2a5a9a" stroke-opacity="0.75" stroke-width="0.5"/>
<circle cx="236.27" cy="277.04" r="1.80" fill="#3a78c8" fill-opacity="0.55" stroke="#2a5a9a" stroke-opacity="0.75" stroke-width="0.5"/>
<circle cx="259.08" cy="269.77" r="1.80" fill="#3a78c8" fill-opacity="0.55" stroke="#2a5a9a" stroke-opacity="0.75" stroke-width="0.5"/>
<circle cx="254.23" cy="274.97" r="1.80" fill="#3a78c8" fill-opacity="0.55" stroke="#2a5a9a" stroke-opacity="0.75" stroke-width="0.5"/>
<circle cx="252.36" cy="270.44" r="1.80" fill="#3a78c8" fill-opacity="0.55" stroke="#2a5a9a" stroke-opacity="0.75" stroke-width="0.5"/>
<circle cx="251.63" cy="276.31" r="1.80" fill="#3a78c8" fill-opacity="0.55" stroke="#2a5a9a" stroke-opacity="0.75" stroke-width="0.5"/>
<circle cx="247.22" cy="274.29" r="1.80" fill="#3a78c8" fill-opacity="0.55" stroke="#2a5a9a" stroke-opacity="0.75" stroke-width="0.5"/>
<circle cx="255.79" cy="263.84" r="1.80" fill="#3a78c8" fill-opacity="0.55" stroke="#2a5a9a" stroke-opacity="0.75" stroke-width="0.5"/>
<circle cx="262.42" cy="273.12" r="1.80" fill="#3a78c8" fill-opacity="0.55" stroke="#2a5a9a" stroke-opacity="0.75" stroke-width="0.5"/>
<circle cx="247.64" cy="275.54" r="1.80" fill="#3a78c8" fill-opacity="0.55" stroke="#2a5a9a" stroke-opacity="0.75" stroke-width="0.5"/>
<circle cx="235.66" cy="277.10" r="1.80" fill="#3a78c8" fill-opacity="0.55" stroke="#2a5a9a" stroke-opacity="0.75" stroke-width="0.5"/>
<circle cx="248.23" cy="274.96" r="1.80" fill="#3a78c8" fill-opacity="0.55" stroke="#2a5a9a" stroke-opacity="0.75" stroke-width="0.5"/>
<circle cx="245.74" cy="267.70" r="1.80" fill="#3a78c8" fill-opacity="0.55" stroke="#2a5a9a" stroke-opacity="0.75" stroke-width="0.5"/>
<circle cx="250.01" cy="271.22" r="1.80" fill="#3a78c8" fill-opacity="0.55" stroke="#2a5a9a" stroke-opacity="0.75" stroke-width="0.5"/>
<circle cx="241.53" cy="277.09" r="1.80" fill="#3a78c8" fill-opacity="0.55" stroke="#2a5a9a" stroke-opacity="0.75" stroke-width="0.5"/>
<circle cx="244.13" cy="276.70" r="1.80" fill="#3a78c8" fill-opacity="0.55" stroke="#2a5a9a" stroke-opacity="0.75" stroke-width="0.5"/>
<circle cx="249.55" cy="262.65" r="1.80" fill="#3a78c8" fill-opacity="0.55" stroke="#2a5a9a" stroke-opacity="0.75" stroke-width="0.5"/>
<circle cx="254.37" cy="276.19" r="1.80" fill="#3a78c8" fill-opacity="0.55" stroke="#2a5a9a" stroke-opacity="0.75" stroke-width="0.5"/>
<circle cx="260.78" cy="269.28" r="1.80" fill="#3a78c8" fill-opacity="0.55" stroke="#2a5a9a" stroke-opacity="0.75" stroke-width="0.5"/>
<circle cx="256.12" cy="265.79" r="1.80" fill="#3a78c8" fill-opacity="0.55" stroke="#2a5a9a" stroke-opacity="0.75" stroke-width="0.5"/>
<circle cx="256.95" cy="268.28" r="1.80" fill="#3a78c8" fill-opacity="0.55" stroke="#2a5a9a" stroke-opacity="0.75" stroke-width="0.5"/>
<circle cx="244.97" cy="266.78" r="1.80" fill="#3a78c8" fill-opacity="0.55" stroke="#2a5a9a" stroke-opacity="0.75" stroke-width="0.5"/>
<circle cx="262.78" cy="276.55" r="1.80" fill="#3a78c8" fill-opacity="0.55" stroke="#2a5a9a" stroke-opacity="0.75" stroke-width="0.5"/>
<circle cx="256.69" cy="269.51" r="1.80" fill="#3a78c8" fill-opacity="0.55" stroke="#2a5a9a" stroke-opacity="0.75" stroke-width="0.5"/>
<circle cx="248.12" cy="272.29" r="1.80" fill="#3a78c8" fill-opacity="0.55" stroke="#2a5a9a" stroke-opacity="0.75" stroke-width="0.5"/>
<circle cx="248.96" cy="264.76" r="1.80" fill="#3a78c8" fill-opacity="0.55" stroke="#2a5a9a" stroke-opacity="0.75" stroke-width="0.5"/>
<circle cx="249.28" cy="266.50" r="1.80" fill="#3a78c8" fill-opacity="0.55" stroke="#2a5a9a" stroke-opacity="0.75" stroke-width="0.5"/>
<circle cx="244.98" cy="268.38" r="1.80" fill="#3a78c8" fill-opacity="0.55" stroke="#2a5a9a" stroke-opacity="0.75" stroke-width="0.5"/>
<circle cx="260.96" cy="273.87" r="1.80" fill="#3a78c8" fill-opacity="0.55" stroke="#2a5a9a" stroke-opacity="0.75" stroke-width="0.5"/>
<circle cx="251.24" cy="263.71" r="1.80" fill="#3a78c8" fill-opacity="0.55" stroke="#2a5a9a" stroke-opacity="0.75" stroke-width="0.5"/>
<circle cx="255.81" cy="272.89" r="1.80" fill="#3a78c8" fill-opacity="0.55" stroke="#2a5a9a" stroke-opacity="0.75" stroke-width="0.5"/>
<circle cx="241.11" cy="275.88" r="1.80" fill="#3a78c8" fill-opacity="0.55" stroke="#2a5a9a" stroke-opacity="0.75" stroke-width="0.5"/>
<circle cx="255.10" cy="276.33" r="1.80" fill="#3a78c8" fill-opacity="0.55" stroke="#2a5a9a" stroke-opacity="0.75" stroke-width="0.5"/>
<circle cx="261.20" cy="275.76" r="1.80" fill="#3a78c8" fill-opacity="0.55" stroke="#2a5a9a" stroke-opacity="0.75" stroke-width="0.5"/>
<circle cx="261.30" cy="275.42" r="1.80" fill="#3a78c8" fill-opacity="0.55" stroke="#2a5a9a" stroke-opacity="0.75" stroke-width="0.5"/>
<circle cx="262.65" cy="271.11" r="1.80" fill="#3a78c8" fill-opacity="0.55" stroke="#2a5a9a" stroke-opacity="0.75" stroke-width="0.5"/>
<circle cx="249.38" cy="272.11" r="1.80" fill="#3a78c8" fill-opacity="0.55" stroke="#2a5a9a" stroke-opacity="0.75" stroke-width="0.5"/>
<circle cx="253.69" cy="271.01" r="1.80" fill="#3a78c8" fill-opacity="0.55" stroke="#2a5a9a" stroke-opacity="0.75" stroke-width="0.5"/>
<circle cx="243.74" cy="276.33" r="1.80" fill="#3a78c8" fill-opacity="0.55" stroke="#2a5a9a" stroke-opacity="0.75" stroke-width="0.5"/>
<circle cx="249.60" cy="264.08" r="1.80" fill="#3a78c8" fill-opacity="0.55" stroke="#2a5a9a" stroke-opacity="0.75" stroke-width="0.5"/>
<circle cx="252.87" cy="276.87" r="1.80" fill="#3a78c8" fill-opacity="0.55" stroke="#2a5a9a" stroke-opacity="0.75" stroke-width="0.5"/>
<circle cx="258.64" cy="269.82" r="1.80" fill="#3a78c8" fill-opacity="0.55" stroke="#2a5a9a" stroke-opacity="0.75" stroke-width="0.5"/>
<circle cx="261.20" cy="276.32" r="1.80" fill="#3a78c8" fill-opacity="0.55" stroke="#2a5a9a" stroke-opacity="0.75" stroke-width="0.5"/>
<circle cx="256.42" cy="276.97" r="1.80" fill="#3a78c8" fill-opacity="0.55" stroke="#2a5a9a" stroke-opacity="0.75" stroke-width="0.5"/>
<circle cx="253.73" cy="275.32" r="1.80" fill="#3a78c8" fill-opacity="0.55" stroke="#2a5a9a" stroke-opacity="0.75" stroke-width="0.5"/>
<circle cx="241.25" cy="271.01" r="1.80" fill="#3a78c8" fill-opacity="0.55" stroke="#2a5a9a" stroke-opacity="0.75" stroke-width="0.5"/>
<circle cx="237.72" cy="275.48" r="1.80" fill="#3a78c8" fill-opacity="0.55" stroke="#2a5a9a" stroke-opacity="0.75" stroke-width="0.5"/>
<circle cx="259.62" cy="275.87" r="1.80" fill="#3a78c8" fill-opacity="0.55" stroke="#2a5a9a" stroke-opacity="0.75" stroke-width="0.5"/>
<circle cx="240.77" cy="271.28" r="1.80" fill="#3a78c8" fill-opacity="0.55" stroke="#2a5a9a" stroke-opacity="0.75" stroke-width="0.5"/>
<circle cx="247.00" cy="269.86" r="1.80" fill="#3a78c8" fill-opacity="0.55" stroke="#2a5a9a" stroke-opacity="0.75" stroke-width="0.5"/>
<circle cx="235.54" cy="276.56" r="1.80" fill="#3a78c8" fill-opacity="0.55" stroke="#2a5a9a" stroke-opacity="0.75" stroke-width="0.5"/>
<circle cx="239.64" cy="273.82" r="1.80" fill="#3a78c8" fill-opacity="0.55" stroke="#2a5a9a" stroke-opacity="0.75" stroke-width="0.5"/>
<circle cx="237.04" cy="273.38" r="1.80" fill="#3a78c8" fill-opacity="0.55" stroke="#2a5a9a" stroke-opacity="0.75" stroke-width="0.5"/>
<circle cx="235.35" cy="275.53" r="1.80" fill="#3a78c8" fill-opacity="0.55" stroke="#2a5a9a" stroke-opacity="0.75" stroke-width="0.5"/>
<circle cx="235.23" cy="276.82" r="1.80" fill="#3a78c8" fill-opacity="0.55" stroke="#2a5a9a" stroke-opacity="0.75" stroke-width="0.5"/>
<circle cx="258.43" cy="276.47" r="1.80" fill="#3a78c8" fill-opacity="0.55" stroke="#2a5a9a" stroke-opacity="0.75" stroke-width="0.5"/>
<circle cx="239.99" cy="273.51" r="1.80" fill="#3a78c8" fill-opacity="0.55" stroke="#2a5a9a" stroke-opacity="0.75" stroke-width="0.5"/>
<circle cx="245.90" cy="277.03" r="1.80" fill="#3a78c8" fill-opacity="0.55" stroke="#2a5a9a" stroke-opacity="0.75" stroke-width="0.5"/>
<circle cx="263.61" cy="276.62" r="1.80" fill="#3a78c8" fill-opacity="0.55" stroke="#2a5a9a" stroke-opacity="0.75" stroke-width="0.5"/>
<circle cx="235.67" cy="276.59" r="1.80" fill="#3a78c8" fill-opacity="0.55" stroke="#2a5a9a" stroke-opacity="0.75" stroke-width="0.5"/>
<circle cx="252.63" cy="267.97" r="1.80" fill="#3a78c8" fill-opacity="0.55" stroke="#2a5a9a" stroke-opacity="0.75" stroke-width="0.5"/>
<circle cx="237.92" cy="276.27" r="1.80" fill="#3a78c8" fill-opacity="0.55" stroke="#2a5a9a" stroke-opacity="0.75" stroke-width="0.5"/>
<circle cx="235.51" cy="276.35" r="1.80" fill="#3a78c8" fill-opacity="0.55" stroke="#2a5a9a" stroke-opacity="0.75" stroke-width="0.5"/>
<circle cx="257.05" cy="269.18" r="1.80" fill="#3a78c8" fill-opacity="0.55" stroke="#2a5a9a" stroke-opacity="0.75" stroke-width="0.5"/>
<circle cx="261.03" cy="269.98" r="1.80" fill="#3a78c8" fill-opacity="0.55" stroke="#2a5a9a" stroke-opacity="0.75" stroke-width="0.5"/>
<circle cx="259.87" cy="270.45" r="1.80" fill="#3a78c8" fill-opacity="0.55" stroke="#2a5a9a" stroke-opacity="0.75" stroke-width="0.5"/>
<circle cx="248.46" cy="275.86" r="1.80" fill="#3a78c8" fill-opacity="0.55" stroke="#2a5a9a" stroke-opacity="0.75" stroke-width="0.5"/>
<circle cx="253.97" cy="274.86" r="1.80" fill="#3a78c8" fill-opacity="0.55" stroke="#2a5a9a" stroke-opacity="0.75" stroke-width="0.5"/>
<circle cx="237.60" cy="275.87" r="1.80" fill="#3a78c8" fill-opacity="0.55" stroke="#2a5a9a" stroke-opacity="0.75" stroke-width="0.5"/>
<circle cx="260.23" cy="276.68" r="1.80" fill="#3a78c8" fill-opacity="0.55" stroke="#2a5a9a" stroke-opacity="0.75" stroke-width="0.5"/>
<circle cx="251.74" cy="273.72" r="1.80" fill="#3a78c8" fill-opacity="0.55" stroke="#2a5a9a" stroke-opacity="0.75" stroke-width="0.5"/>
<circle cx="249.69" cy="276.45" r="1.80" fill="#3a78c8" fill-opacity="0.55" stroke="#2a5a9a" stroke-opacity="0.75" stroke-width="0.5"/>
<circle cx="262.72" cy="275.90" r="1.80" fill="#3a78c8" fill-opacity="0.55" stroke="#2a5a9a" stroke-opacity="0.75" stroke-width="0.5"/>
<circle cx="252.36" cy="273.41" r="1.80" fill="#3a78c8" fill-opacity="0.55" stroke="#2a5a9a" stroke-opacity="0.75" stroke-width="0.5"/>
<circle cx="235.14" cy="276.15" r="1.80" fill="#3a78c8" fill-opacity="0.55" stroke="#2a5a9a" stroke-opacity="0.75" stroke-width="0.5"/>
<circle cx="238.73" cy="277.05" r="1.80" fill="#3a78c8" fill-opacity="0.55" stroke="#2a5a9a" stroke-opacity="0.75" stroke-width="0.5"/>
<circle cx="235.59" cy="276.96" r="1.80" fill="#3a78c8" fill-opacity="0.55" stroke="#2a5a9a" stroke-opacity="0.75" stroke-width="0.5"/>
<circle cx="237.42" cy="275.01" r="1.80" fill="#3a78c8" fill-opacity="0.55" stroke="#2a5a9a" stroke-opacity="0.75" stroke-width="0.5"/>
<circle cx="249.50" cy="263.05" r="1.80" fill="#3a78c8" fill-opacity="0.55" stroke="#2a5a9a" stroke-opacity="0.75" stroke-width="0.5"/>
<circle cx="261.97" cy="266.45" r="1.80" fill="#3a78c8" fill-opacity="0.55" stroke="#2a5a9a" stroke-opacity="0.75" stroke-width="0.5"/>
<circle cx="241.42" cy="275.01" r="1.80" fill="#3a78c8" fill-opacity="0.55" stroke="#2a5a9a" stroke-opacity="0.75" stroke-width="0.5"/>
<circle cx="241.96" cy="273.60" r="1.80" fill="#3a78c8" fill-opacity="0.55" stroke="#2a5a9a" stroke-opacity="0.75" stroke-width="0.5"/>
<circle cx="252.89" cy="266.88" r="1.80" fill="#3a78c8" fill-opacity="0.55" stroke="#2a5a9a" stroke-opacity="0.75" stroke-width="0.5"/>
<circle cx="255.39" cy="275.57" r="1.80" fill="#3a78c8" fill-opacity="0.55" stroke="#2a5a9a" stroke-opacity="0.75" stroke-width="0.5"/>
<circle cx="247.00" cy="272.69" r="1.80" fill="#3a78c8" fill-opacity="0.55" stroke="#2a5a9a" stroke-opacity="0.75" stroke-width="0.5"/>
<circle cx="234.75" cy="277.10" r="1.80" fill="#3a78c8" fill-opacity="0.55" stroke="#2a5a9a" stroke-opacity="0.75" stroke-width="0.5"/>
<circle cx="246.58" cy="276.75" r="1.80" fill="#3a78c8" fill-opacity="0.55" stroke="#2a5a9a" stroke-opacity="0.75" stroke-width="0.5"/>
<circle cx="255.81" cy="275.74" r="1.80" fill="#3a78c8" fill-opacity="0.55" stroke="#2a5a9a" stroke-opacity="0.75" stroke-width="0.5"/>
<circle cx="237.53" cy="276.82" r="1.80" fill="#3a78c8" fill-opacity="0.55" stroke="#2a5a9a" stroke-opacity="0.75" stroke-width="0.5"/>
<circle cx="241.39" cy="276.44" r="1.80" fill="#3a78c8" fill-opacity="0.55" stroke="#2a5a9a" stroke-opacity="0.75" stroke-width="0.5"/>
<circle cx="249.86" cy="272.79" r="1.80" fill="#3a78c8" fill-opacity="0.55" stroke="#2a5a9a" stroke-opacity="0.75" stroke-width="0.5"/>
<circle cx="243.68" cy="272.40" r="1.80" fill="#3a78c8" fill-opacity="0.55" stroke="#2a5a9a" stroke-opacity="0.75" stroke-width="0.5"/>
<circle cx="240.83" cy="270.96" r="1.80" fill="#3a78c8" fill-opacity="0.55" stroke="#2a5a9a" stroke-opacity="0.75" stroke-width="0.5"/>
<circle cx="262.82" cy="270.84" r="1.80" fill="#3a78c8" fill-opacity="0.55" stroke="#2a5a9a" stroke-opacity="0.75" stroke-width="0.5"/>
<circle cx="247.31" cy="272.79" r="1.80" fill="#3a78c8" fill-opacity="0.55" stroke="#2a5a9a" stroke-opacity="0.75" stroke-width="0.5"/>
<circle cx="251.63" cy="276.98" r="1.80" fill="#3a78c8" fill-opacity="0.55" stroke="#2a5a9a" stroke-opacity="0.75" stroke-width="0.5"/>
<circle cx="246.85" cy="272.75" r="1.80" fill="#3a78c8" fill-opacity="0.55" stroke="#2a5a9a" stroke-opacity="0.75" stroke-width="0.5"/>
<circle cx="239.92" cy="276.96" r="1.80" fill="#3a78c8" fill-opacity="0.55" stroke="#2a5a9a" stroke-opacity="0.75" stroke-width="0.5"/>
<circle cx="258.12" cy="274.62" r="1.80" fill="#3a78c8" fill-opacity="0.55" stroke="#2a5a9a" stroke-opacity="0.75" stroke-width="0.5"/>
<circle cx="249.82" cy="264.21" r="1.80" fill="#3a78c8" fill-opacity="0.55" stroke="#2a5a9a" stroke-opacity="0.75" stroke-width="0.5"/>
<circle cx="252.49" cy="275.07" r="1.80" fill="#3a78c8" fill-opacity="0.55" stroke="#2a5a9a" stroke-opacity="0.75" stroke-width="0.5"/>
<circle cx="263.42" cy="275.02" r="1.80" fill="#3a78c8" fill-opacity="0.55" stroke="#2a5a9a" stroke-opacity="0.75" stroke-width="0.5"/>
<circle cx="235.17" cy="275.77" r="1.80" fill="#3a78c8" fill-opacity="0.55" stroke="#2a5a9a" stroke-opacity="0.75" stroke-width="0.5"/>
<circle cx="237.57" cy="276.44" r="1.80" fill="#3a78c8" fill-opacity="0.55" stroke="#2a5a9a" stroke-opacity="0.75" stroke-width="0.5"/>
<circle cx="259.23" cy="270.79" r="1.80" fill="#3a78c8" fill-opacity="0.55" stroke="#2a5a9a" stroke-opacity="0.75" stroke-width="0.5"/>
<circle cx="235.07" cy="276.44" r="1.80" fill="#3a78c8" fill-opacity="0.55" stroke="#2a5a9a" stroke-opacity="0.75" stroke-width="0.5"/>
<circle cx="246.64" cy="273.31" r="1.80" fill="#3a78c8" fill-opacity="0.55" stroke="#2a5a9a" stroke-opacity="0.75" stroke-width="0.5"/>
<circle cx="240.71" cy="274.07" r="1.80" fill="#3a78c8" fill-opacity="0.55" stroke="#2a5a9a" stroke-opacity="0.75" stroke-width="0.5"/>
<circle cx="236.77" cy="276.60" r="1.80" fill="#3a78c8" fill-opacity="0.55" stroke="#2a5a9a" stroke-opacity="0.75" stroke-width="0.5"/>
<circle cx="245.53" cy="267.11" r="1.80" fill="#3a78c8" fill-opacity="0.55" stroke="#2a5a9a" stroke-opacity="0.75" stroke-width="0.5"/>
<circle cx="236.85" cy="274.64" r="1.80" fill="#3a78c8" fill-opacity="0.55" stroke="#2a5a9a" stroke-opacity="0.75" stroke-width="0.5"/>
<circle cx="240.24" cy="274.37" r="1.80" fill="#3a78c8" fill-opacity="0.55" stroke="#2a5a9a" stroke-opacity="0.75" stroke-width="0.5"/>
<circle cx="246.09" cy="273.73" r="1.80" fill="#3a78c8" fill-opacity="0.55" stroke="#2a5a9a" stroke-opacity="0.75" stroke-width="0.5"/>
<circle cx="256.68" cy="274.17" r="1.80" fill="#3a78c8" fill-opacity="0.55" stroke="#2a5a9a" stroke-opacity="0.75" stroke-width="0.5"/>
<circle cx="238.18" cy="276.94" r="1.80" fill="#3a78c8" fill-opacity="0.55" stroke="#2a5a9a" stroke-opacity="0.75" stroke-width="0.5"/>
<circle cx="236.97" cy="274.05" r="1.80" fill="#3a78c8" fill-opacity="0.55" stroke="#2a5a9a" stroke-opacity="0.75" stroke-width="0.5"/>
<circle cx="253.38" cy="263.63" r="1.80" fill="#3a78c8" fill-opacity="0.55" stroke="#2a5a9a" stroke-opacity="0.75" stroke-width="0.5"/>
<circle cx="254.90" cy="277.07" r="1.80" fill="#3a78c8" fill-opacity="0.55" stroke="#2a5a9a" stroke-opacity="0.75" stroke-width="0.5"/>
<circle cx="253.92" cy="267.64" r="1.80" fill="#3a78c8" fill-opacity="0.55" stroke="#2a5a9a" stroke-opacity="0.75" stroke-width="0.5"/>
<circle cx="255.80" cy="272.73" r="1.80" fill="#3a78c8" fill-opacity="0.55" stroke="#2a5a9a" stroke-opacity="0.75" stroke-width="0.5"/>
<circle cx="245.08" cy="274.04" r="1.80" fill="#3a78c8" fill-opacity="0.55" stroke="#2a5a9a" stroke-opacity="0.75" stroke-width="0.5"/>
<circle cx="258.00" cy="275.59" r="1.80" fill="#3a78c8" fill-opacity="0.55" stroke="#2a5a9a" stroke-opacity="0.75" stroke-width="0.5"/>
<circle cx="250.03" cy="272.55" r="1.80" fill="#3a78c8" fill-opacity="0.55" stroke="#2a5a9a" stroke-opacity="0.75" stroke-width="0.5"/>
<circle cx="262.57" cy="269.70" r="1.80" fill="#3a78c8" fill-opacity="0.55" stroke="#2a5a9a" stroke-opacity="0.75" stroke-width="0.5"/>
<circle cx="261.91" cy="269.01" r="1.80" fill="#3a78c8" fill-opacity="0.55" stroke="#2a5a9a" stroke-opacity="0.75" stroke-width="0.5"/>
<circle cx="243.30" cy="276.22" r="1.80" fill="#3a78c8" fill-opacity="0.55" stroke="#2a5a9a" stroke-opacity="0.75" stroke-width="0.5"/>
<circle cx="248.93" cy="275.50" r="1.80" fill="#3a78c8" fill-opacity="0.55" stroke="#2a5a9a" stroke-opacity="0.75" stroke-width="0.5"/>
<circle cx="247.14" cy="270.40" r="1.80" fill="#3a78c8" fill-opacity="0.55" stroke="#2a5a9a" stroke-opacity="0.75" stroke-width="0.5"/>
<circle cx="261.52" cy="272.45" r="1.80" fill="#3a78c8" fill-opacity="0.55" stroke="#2a5a9a" stroke-opacity="0.75" stroke-width="0.5"/>
<circle cx="258.56" cy="276.82" r="1.80" fill="#3a78c8" fill-opacity="0.55" stroke="#2a5a9a" stroke-opacity="0.75" stroke-width="0.5"/>
<circle cx="245.04" cy="266.44" r="1.80" fill="#3a78c8" fill-opacity="0.55" stroke="#2a5a9a" stroke-opacity="0.75" stroke-width="0.5"/>
<circle cx="238.90" cy="275.73" r="1.80" fill="#3a78c8" fill-opacity="0.55" stroke="#2a5a9a" stroke-opacity="0.75" stroke-width="0.5"/>
<circle cx="236.57" cy="277.04" r="1.80" fill="#3a78c8" fill-opacity="0.55" stroke="#2a5a9a" stroke-opacity="0.75" stroke-width="0.5"/>
<circle cx="260.84" cy="266.08" r="1.80" fill="#3a78c8" fill-opacity="0.55" stroke="#2a5a9a" stroke-opacity="0.75" stroke-width="0.5"/>
<circle cx="253.59" cy="276.57" r="1.80" fill="#3a78c8" fill-opacity="0.55" stroke="#2a5a9a" stroke-opacity="0.75" stroke-width="0.5"/>
<circle cx="243.29" cy="276.22" r="1.80" fill="#3a78c8" fill-opacity="0.55" stroke="#2a5a9a" stroke-opacity="0.75" stroke-width="0.5"/>
<circle cx="254.26" cy="269.52" r="1.80" fill="#3a78c8" fill-opacity="0.55" stroke="#2a5a9a" stroke-opacity="0.75" stroke-width="0.5"/>
<circle cx="247.46" cy="272.58" r="1.80" fill="#3a78c8" fill-opacity="0.55" stroke="#2a5a9a" stroke-opacity="0.75" stroke-width="0.5"/>
<circle cx="237.89" cy="275.34" r="1.80" fill="#3a78c8" fill-opacity="0.55" stroke="#2a5a9a" stroke-opacity="0.75" stroke-width="0.5"/>
<circle cx="262.43" cy="270.36" r="1.80" fill="#3a78c8" fill-opacity="0.55" stroke="#2a5a9a" stroke-opacity="0.75" stroke-width="0.5"/>
<circle cx="237.43" cy="275.60" r="1.80" fill="#3a78c8" fill-opacity="0.55" stroke="#2a5a9a" stroke-opacity="0.75" stroke-width="0.5"/>
<circle cx="255.56" cy="275.57" r="1.80" fill="#3a78c8" fill-opacity="0.55" stroke="#2a5a9a" stroke-opacity="0.75" stroke-width="0.5"/>
<circle cx="260.82" cy="273.85" r="1.80" fill="#3a78c8" fill-opacity="0.55" stroke="#2a5a9a" stroke-opacity="0.75" stroke-width="0.5"/>
<circle cx="255.21" cy="273.91" r="1.80" fill="#3a78c8" fill-opacity="0.55" stroke="#2a5a9a" stroke-opacity="0.75" stroke-width="0.5"/>
<circle cx="263.76" cy="270.35" r="1.80" fill="#3a78c8" fill-opacity="0.55" stroke="#2a5a9a" stroke-opacity="0.75" stroke-width="0.5"/>
<circle cx="251.41" cy="276.42" r="1.80" fill="#3a78c8" fill-opacity="0.55" stroke="#2a5a9a" stroke-opacity="0.75" stroke-width="0.5"/>
<circle cx="247.53" cy="277.06" r="1.80" fill="#3a78c8" fill-opacity="0.55" stroke="#2a5a9a" stroke-opacity="0.75" stroke-width="0.5"/>
<circle cx="252.04" cy="264.87" r="1.80" fill="#3a78c8" fill-opacity="0.55" stroke="#2a5a9a" stroke-opacity="0.75" stroke-width="0.5"/>
<circle cx="239.89" cy="274.92" r="1.80" fill="#3a78c8" fill-opacity="0.55" stroke="#2a5a9a" stroke-opacity="0.75" stroke-width="0.5"/>
<circle cx="248.74" cy="273.86" r="1.80" fill="#3a78c8" fill-opacity="0.55" stroke="#2a5a9a" stroke-opacity="0.75" stroke-width="0.5"/>
<circle cx="255.42" cy="264.92" r="1.80" fill="#3a78c8" fill-opacity="0.55" stroke="#2a5a9a" stroke-opacity="0.75" stroke-width="0.5"/>
<circle cx="255.27" cy="273.01" r="1.80" fill="#3a78c8" fill-opacity="0.55" stroke="#2a5a9a" stroke-opacity="0.75" stroke-width="0.5"/>
<circle cx="262.79" cy="275.34" r="1.80" fill="#3a78c8" fill-opacity="0.55" stroke="#2a5a9a" stroke-opacity="0.75" stroke-width="0.5"/>
<circle cx="256.45" cy="270.40" r="1.80" fill="#3a78c8" fill-opacity="0.55" stroke="#2a5a9a" stroke-opacity="0.75" stroke-width="0.5"/>
<circle cx="256.92" cy="267.12" r="1.80" fill="#3a78c8" fill-opacity="0.55" stroke="#2a5a9a" stroke-opacity="0.75" stroke-width="0.5"/>
<circle cx="241.20" cy="273.61" r="1.80" fill="#3a78c8" fill-opacity="0.55" stroke="#2a5a9a" stroke-opacity="0.75" stroke-width="0.5"/>
<circle cx="246.41" cy="270.91" r="1.80" fill="#3a78c8" fill-opacity="0.55" stroke="#2a5a9a" stroke-opacity="0.75" stroke-width="0.5"/>
<circle cx="263.23" cy="272.17" r="1.80" fill="#3a78c8" fill-opacity="0.55" stroke="#2a5a9a" stroke-opacity="0.75" stroke-width="0.5"/>
<circle cx="234.95" cy="276.44" r="1.80" fill="#3a78c8" fill-opacity="0.55" stroke="#2a5a9a" stroke-opacity="0.75" stroke-width="0.5"/>
<circle cx="255.45" cy="266.03" r="1.80" fill="#3a78c8" fill-opacity="0.55" stroke="#2a5a9a" stroke-opacity="0.75" stroke-width="0.5"/>
<circle cx="253.65" cy="266.79" r="1.80" fill="#3a78c8" fill-opacity="0.55" stroke="#2a5a9a" stroke-opacity="0.75" stroke-width="0.5"/>
<circle cx="235.11" cy="274.92" r="1.80" fill="#3a78c8" fill-opacity="0.55" stroke="#2a5a9a" stroke-opacity="0.75" stroke-width="0.5"/>
<circle cx="255.98" cy="271.13" r="1.80" fill="#3a78c8" fill-opacity="0.55" stroke="#2a5a9a" stroke-opacity="0.75" stroke-width="0.5"/>
<circle cx="261.13" cy="267.97" r="1.80" fill="#3a78c8" fill-opacity="0.55" stroke="#2a5a9a" stroke-opacity="0.75" stroke-width="0.5"/>
<circle cx="237.55" cy="273.90" r="1.80" fill="#3a78c8" fill-opacity="0.55" stroke="#2a5a9a" stroke-opacity="0.75" stroke-width="0.5"/>
<circle cx="257.08" cy="276.13" r="1.80" fill="#3a78c8" fill-opacity="0.55" stroke="#2a5a9a" stroke-opacity="0.75" stroke-width="0.5"/>
<circle cx="256.41" cy="271.53" r="1.80" fill="#3a78c8" fill-opacity="0.55" stroke="#2a5a9a" stroke-opacity="0.75" stroke-width="0.5"/>
<circle cx="240.22" cy="272.40" r="1.80" fill="#3a78c8" fill-opacity="0.55" stroke="#2a5a9a" stroke-opacity="0.75" stroke-width="0.5"/>
<circle cx="238.65" cy="274.66" r="1.80" fill="#3a78c8" fill-opacity="0.55" stroke="#2a5a9a" stroke-opacity="0.75" stroke-width="0.5"/>
<circle cx="247.33" cy="275.70" r="1.80" fill="#3a78c8" fill-opacity="0.55" stroke="#2a5a9a" stroke-opacity="0.75" stroke-width="0.5"/>
<circle cx="218.45" cy="275.12" r="1.80" fill="#3a78c8" fill-opacity="0.55" stroke="#2a5a9a" stroke-opacity="0.75" stroke-width="0.5"/>
<circle cx="251.78" cy="256.04" r="1.80" fill="#3a78c8" fill-opacity="0.55" stroke="#2a5a9a" stroke-opacity="0.75" stroke-width="0.5"/>
<circle cx="255.82" cy="259.22" r="1.80" fill="#3a78c8" fill-opacity="0.55" stroke="#2a5a9a" stroke-opacity="0.75" stroke-width="0.5"/>
<circle cx="246.73" cy="262.40" r="1.80" fill="#3a78c8" fill-opacity="0.55" stroke="#2a5a9a" stroke-opacity="0.75" stroke-width="0.5"/>
<circle cx="234.61" cy="270.35" r="1.80" fill="#3a78c8" fill-opacity="0.55" stroke="#2a5a9a" stroke-opacity="0.75" stroke-width="0.5"/>
<circle cx="236.63" cy="271.94" r="1.80" fill="#3a78c8" fill-opacity="0.55" stroke="#2a5a9a" stroke-opacity="0.75" stroke-width="0.5"/>
<circle cx="248.75" cy="259.22" r="1.80" fill="#3a78c8" fill-opacity="0.55" stroke="#2a5a9a" stroke-opacity="0.75" stroke-width="0.5"/>
<circle cx="290.96" cy="274.06" r="1.80" fill="#a81828" fill-opacity="0.55" stroke="#7a1a28" stroke-opacity="0.75" stroke-width="0.5"/>
<circle cx="286.58" cy="260.71" r="1.80" fill="#a81828" fill-opacity="0.55" stroke="#7a1a28" stroke-opacity="0.75" stroke-width="0.5"/>
<circle cx="284.98" cy="277.11" r="1.80" fill="#a81828" fill-opacity="0.55" stroke="#7a1a28" stroke-opacity="0.75" stroke-width="0.5"/>
<circle cx="289.98" cy="267.86" r="1.80" fill="#a81828" fill-opacity="0.55" stroke="#7a1a28" stroke-opacity="0.75" stroke-width="0.5"/>
<circle cx="292.08" cy="271.22" r="1.80" fill="#a81828" fill-opacity="0.55" stroke="#7a1a28" stroke-opacity="0.75" stroke-width="0.5"/>
<circle cx="289.98" cy="270.70" r="1.80" fill="#a81828" fill-opacity="0.55" stroke="#7a1a28" stroke-opacity="0.75" stroke-width="0.5"/>
<circle cx="288.16" cy="275.51" r="1.80" fill="#a81828" fill-opacity="0.55" stroke="#7a1a28" stroke-opacity="0.75" stroke-width="0.5"/>
<circle cx="290.20" cy="277.08" r="1.80" fill="#a81828" fill-opacity="0.55" stroke="#7a1a28" stroke-opacity="0.75" stroke-width="0.5"/>
<circle cx="285.07" cy="265.08" r="1.80" fill="#a81828" fill-opacity="0.55" stroke="#7a1a28" stroke-opacity="0.75" stroke-width="0.5"/>
<circle cx="286.21" cy="266.12" r="1.80" fill="#a81828" fill-opacity="0.55" stroke="#7a1a28" stroke-opacity="0.75" stroke-width="0.5"/>
<circle cx="293.61" cy="275.54" r="1.80" fill="#a81828" fill-opacity="0.55" stroke="#7a1a28" stroke-opacity="0.75" stroke-width="0.5"/>
<circle cx="292.28" cy="270.97" r="1.80" fill="#a81828" fill-opacity="0.55" stroke="#7a1a28" stroke-opacity="0.75" stroke-width="0.5"/>
<circle cx="294.57" cy="276.91" r="1.80" fill="#a81828" fill-opacity="0.55" stroke="#7a1a28" stroke-opacity="0.75" stroke-width="0.5"/>
<circle cx="286.07" cy="273.59" r="1.80" fill="#a81828" fill-opacity="0.55" stroke="#7a1a28" stroke-opacity="0.75" stroke-width="0.5"/>
<circle cx="289.73" cy="275.49" r="1.80" fill="#a81828" fill-opacity="0.55" stroke="#7a1a28" stroke-opacity="0.75" stroke-width="0.5"/>
<circle cx="284.23" cy="270.15" r="1.80" fill="#a81828" fill-opacity="0.55" stroke="#7a1a28" stroke-opacity="0.75" stroke-width="0.5"/>
<circle cx="295.82" cy="276.35" r="1.80" fill="#a81828" fill-opacity="0.55" stroke="#7a1a28" stroke-opacity="0.75" stroke-width="0.5"/>
<circle cx="290.62" cy="274.85" r="1.80" fill="#a81828" fill-opacity="0.55" stroke="#7a1a28" stroke-opacity="0.75" stroke-width="0.5"/>
<circle cx="289.47" cy="266.65" r="1.80" fill="#a81828" fill-opacity="0.55" stroke="#7a1a28" stroke-opacity="0.75" stroke-width="0.5"/>
<circle cx="287.84" cy="269.64" r="1.80" fill="#a81828" fill-opacity="0.55" stroke="#7a1a28" stroke-opacity="0.75" stroke-width="0.5"/>
<circle cx="289.96" cy="272.73" r="1.80" fill="#a81828" fill-opacity="0.55" stroke="#7a1a28" stroke-opacity="0.75" stroke-width="0.5"/>
<circle cx="295.19" cy="277.04" r="1.80" fill="#a81828" fill-opacity="0.55" stroke="#7a1a28" stroke-opacity="0.75" stroke-width="0.5"/>
<circle cx="294.09" cy="276.23" r="1.80" fill="#a81828" fill-opacity="0.55" stroke="#7a1a28" stroke-opacity="0.75" stroke-width="0.5"/>
<circle cx="291.93" cy="270.52" r="1.80" fill="#a81828" fill-opacity="0.55" stroke="#7a1a28" stroke-opacity="0.75" stroke-width="0.5"/>
<circle cx="292.02" cy="275.15" r="1.80" fill="#a81828" fill-opacity="0.55" stroke="#7a1a28" stroke-opacity="0.75" stroke-width="0.5"/>
<circle cx="294.29" cy="277.00" r="1.80" fill="#a81828" fill-opacity="0.55" stroke="#7a1a28" stroke-opacity="0.75" stroke-width="0.5"/>
<circle cx="291.78" cy="275.09" r="1.80" fill="#a81828" fill-opacity="0.55" stroke="#7a1a28" stroke-opacity="0.75" stroke-width="0.5"/>
<circle cx="290.53" cy="268.20" r="1.80" fill="#a81828" fill-opacity="0.55" stroke="#7a1a28" stroke-opacity="0.75" stroke-width="0.5"/>
<circle cx="293.77" cy="273.89" r="1.80" fill="#a81828" fill-opacity="0.55" stroke="#7a1a28" stroke-opacity="0.75" stroke-width="0.5"/>
<circle cx="287.83" cy="275.80" r="1.80" fill="#a81828" fill-opacity="0.55" stroke="#7a1a28" stroke-opacity="0.75" stroke-width="0.5"/>
<circle cx="289.65" cy="276.02" r="1.80" fill="#a81828" fill-opacity="0.55" stroke="#7a1a28" stroke-opacity="0.75" stroke-width="0.5"/>
<circle cx="287.46" cy="262.14" r="1.80" fill="#a81828" fill-opacity="0.55" stroke="#7a1a28" stroke-opacity="0.75" stroke-width="0.5"/>
<circle cx="285.46" cy="263.60" r="1.80" fill="#a81828" fill-opacity="0.55" stroke="#7a1a28" stroke-opacity="0.75" stroke-width="0.5"/>
<circle cx="288.70" cy="274.53" r="1.80" fill="#a81828" fill-opacity="0.55" stroke="#7a1a28" stroke-opacity="0.75" stroke-width="0.5"/>
<circle cx="287.96" cy="276.91" r="1.80" fill="#a81828" fill-opacity="0.55" stroke="#7a1a28" stroke-opacity="0.75" stroke-width="0.5"/>
<circle cx="289.64" cy="276.49" r="1.80" fill="#a81828" fill-opacity="0.55" stroke="#7a1a28" stroke-opacity="0.75" stroke-width="0.5"/>
<circle cx="289.46" cy="275.47" r="1.80" fill="#a81828" fill-opacity="0.55" stroke="#7a1a28" stroke-opacity="0.75" stroke-width="0.5"/>
<circle cx="294.94" cy="272.40" r="1.80" fill="#a81828" fill-opacity="0.55" stroke="#7a1a28" stroke-opacity="0.75" stroke-width="0.5"/>
<circle cx="289.46" cy="270.91" r="1.80" fill="#a81828" fill-opacity="0.55" stroke="#7a1a28" stroke-opacity="0.75" stroke-width="0.5"/>
<circle cx="295.37" cy="276.39" r="1.80" fill="#a81828" fill-opacity="0.55" stroke="#7a1a28" stroke-opacity="0.75" stroke-width="0.5"/>
<circle cx="285.31" cy="275.44" r="1.80" fill="#a81828" fill-opacity="0.55" stroke="#7a1a28" stroke-opacity="0.75" stroke-width="0.5"/>
<circle cx="286.40" cy="267.99" r="1.80" fill="#a81828" fill-opacity="0.55" stroke="#7a1a28" stroke-opacity="0.75" stroke-width="0.5"/>
<circle cx="288.63" cy="274.61" r="1.80" fill="#a81828" fill-opacity="0.55" stroke="#7a1a28" stroke-opacity="0.75" stroke-width="0.5"/>
<circle cx="293.74" cy="276.51" r="1.80" fill="#a81828" fill-opacity="0.55" stroke="#7a1a28" stroke-opacity="0.75" stroke-width="0.5"/>
<circle cx="293.90" cy="273.94" r="1.80" fill="#a81828" fill-opacity="0.55" stroke="#7a1a28" stroke-opacity="0.75" stroke-width="0.5"/>
<circle cx="288.95" cy="267.06" r="1.80" fill="#a81828" fill-opacity="0.55" stroke="#7a1a28" stroke-opacity="0.75" stroke-width="0.5"/>
<circle cx="288.25" cy="265.08" r="1.80" fill="#a81828" fill-opacity="0.55" stroke="#7a1a28" stroke-opacity="0.75" stroke-width="0.5"/>
<circle cx="295.32" cy="275.60" r="1.80" fill="#a81828" fill-opacity="0.55" stroke="#7a1a28" stroke-opacity="0.75" stroke-width="0.5"/>
<circle cx="292.46" cy="268.92" r="1.80" fill="#a81828" fill-opacity="0.55" stroke="#7a1a28" stroke-opacity="0.75" stroke-width="0.5"/>
<circle cx="293.10" cy="272.16" r="1.80" fill="#a81828" fill-opacity="0.55" stroke="#7a1a28" stroke-opacity="0.75" stroke-width="0.5"/>
<circle cx="294.64" cy="271.89" r="1.80" fill="#a81828" fill-opacity="0.55" stroke="#7a1a28" stroke-opacity="0.75" stroke-width="0.5"/>
<circle cx="293.23" cy="269.53" r="1.80" fill="#a81828" fill-opacity="0.55" stroke="#7a1a28" stroke-opacity="0.75" stroke-width="0.5"/>
<circle cx="287.63" cy="270.02" r="1.80" fill="#a81828" fill-opacity="0.55" stroke="#7a1a28" stroke-opacity="0.75" stroke-width="0.5"/>
<circle cx="292.23" cy="275.41" r="1.80" fill="#a81828" fill-opacity="0.55" stroke="#7a1a28" stroke-opacity="0.75" stroke-width="0.5"/>
<circle cx="288.89" cy="276.38" r="1.80" fill="#a81828" fill-opacity="0.55" stroke="#7a1a28" stroke-opacity="0.75" stroke-width="0.5"/>
<circle cx="295.71" cy="276.37" r="1.80" fill="#a81828" fill-opacity="0.55" stroke="#7a1a28" stroke-opacity="0.75" stroke-width="0.5"/>
<circle cx="289.88" cy="266.66" r="1.80" fill="#a81828" fill-opacity="0.55" stroke="#7a1a28" stroke-opacity="0.75" stroke-width="0.5"/>
<circle cx="286.36" cy="260.58" r="1.80" fill="#a81828" fill-opacity="0.55" stroke="#7a1a28" stroke-opacity="0.75" stroke-width="0.5"/>
<circle cx="285.64" cy="277.06" r="1.80" fill="#a81828" fill-opacity="0.55" stroke="#7a1a28" stroke-opacity="0.75" stroke-width="0.5"/>
<circle cx="288.35" cy="274.50" r="1.80" fill="#a81828" fill-opacity="0.55" stroke="#7a1a28" stroke-opacity="0.75" stroke-width="0.5"/>
<circle cx="295.22" cy="273.05" r="1.80" fill="#a81828" fill-opacity="0.55" stroke="#7a1a28" stroke-opacity="0.75" stroke-width="0.5"/>
<circle cx="293.33" cy="275.22" r="1.80" fill="#a81828" fill-opacity="0.55" stroke="#7a1a28" stroke-opacity="0.75" stroke-width="0.5"/>
<circle cx="290.68" cy="276.11" r="1.80" fill="#a81828" fill-opacity="0.55" stroke="#7a1a28" stroke-opacity="0.75" stroke-width="0.5"/>
<circle cx="294.20" cy="275.80" r="1.80" fill="#a81828" fill-opacity="0.55" stroke="#7a1a28" stroke-opacity="0.75" stroke-width="0.5"/>
<circle cx="287.55" cy="269.67" r="1.80" fill="#a81828" fill-opacity="0.55" stroke="#7a1a28" stroke-opacity="0.75" stroke-width="0.5"/>
<circle cx="285.93" cy="274.52" r="1.80" fill="#a81828" fill-opacity="0.55" stroke="#7a1a28" stroke-opacity="0.75" stroke-width="0.5"/>
<circle cx="295.33" cy="277.02" r="1.80" fill="#a81828" fill-opacity="0.55" stroke="#7a1a28" stroke-opacity="0.75" stroke-width="0.5"/>
<circle cx="285.82" cy="275.87" r="1.80" fill="#a81828" fill-opacity="0.55" stroke="#7a1a28" stroke-opacity="0.75" stroke-width="0.5"/>
<circle cx="287.14" cy="273.31" r="1.80" fill="#a81828" fill-opacity="0.55" stroke="#7a1a28" stroke-opacity="0.75" stroke-width="0.5"/>
<circle cx="287.13" cy="274.42" r="1.80" fill="#a81828" fill-opacity="0.55" stroke="#7a1a28" stroke-opacity="0.75" stroke-width="0.5"/>
<circle cx="287.09" cy="275.64" r="1.80" fill="#a81828" fill-opacity="0.55" stroke="#7a1a28" stroke-opacity="0.75" stroke-width="0.5"/>
<circle cx="291.50" cy="275.49" r="1.80" fill="#a81828" fill-opacity="0.55" stroke="#7a1a28" stroke-opacity="0.75" stroke-width="0.5"/>
<circle cx="288.62" cy="267.88" r="1.80" fill="#a81828" fill-opacity="0.55" stroke="#7a1a28" stroke-opacity="0.75" stroke-width="0.5"/>
<circle cx="284.85" cy="276.39" r="1.80" fill="#a81828" fill-opacity="0.55" stroke="#7a1a28" stroke-opacity="0.75" stroke-width="0.5"/>
<circle cx="294.41" cy="275.64" r="1.80" fill="#a81828" fill-opacity="0.55" stroke="#7a1a28" stroke-opacity="0.75" stroke-width="0.5"/>
<circle cx="293.54" cy="276.87" r="1.80" fill="#a81828" fill-opacity="0.55" stroke="#7a1a28" stroke-opacity="0.75" stroke-width="0.5"/>
<circle cx="290.44" cy="268.20" r="1.80" fill="#a81828" fill-opacity="0.55" stroke="#7a1a28" stroke-opacity="0.75" stroke-width="0.5"/>
<circle cx="288.20" cy="267.49" r="1.80" fill="#a81828" fill-opacity="0.55" stroke="#7a1a28" stroke-opacity="0.75" stroke-width="0.5"/>
<circle cx="291.50" cy="274.98" r="1.80" fill="#a81828" fill-opacity="0.55" stroke="#7a1a28" stroke-opacity="0.75" stroke-width="0.5"/>
<circle cx="296.19" cy="276.37" r="1.80" fill="#a81828" fill-opacity="0.55" stroke="#7a1a28" stroke-opacity="0.75" stroke-width="0.5"/>
<circle cx="289.84" cy="271.48" r="1.80" fill="#a81828" fill-opacity="0.55" stroke="#7a1a28" stroke-opacity="0.75" stroke-width="0.5"/>
<circle cx="287.94" cy="265.69" r="1.80" fill="#a81828" fill-opacity="0.55" stroke="#7a1a28" stroke-opacity="0.75" stroke-width="0.5"/>
<circle cx="291.34" cy="272.83" r="1.80" fill="#a81828" fill-opacity="0.55" stroke="#7a1a28" stroke-opacity="0.75" stroke-width="0.5"/>
<circle cx="290.63" cy="265.82" r="1.80" fill="#a81828" fill-opacity="0.55" stroke="#7a1a28" stroke-opacity="0.75" stroke-width="0.5"/>
<circle cx="296.09" cy="274.30" r="1.80" fill="#a81828" fill-opacity="0.55" stroke="#7a1a28" stroke-opacity="0.75" stroke-width="0.5"/>
<circle cx="289.61" cy="274.22" r="1.80" fill="#a81828" fill-opacity="0.55" stroke="#7a1a28" stroke-opacity="0.75" stroke-width="0.5"/>
<circle cx="290.46" cy="277.04" r="1.80" fill="#a81828" fill-opacity="0.55" stroke="#7a1a28" stroke-opacity="0.75" stroke-width="0.5"/>
<circle cx="285.41" cy="258.22" r="1.80" fill="#a81828" fill-opacity="0.55" stroke="#7a1a28" stroke-opacity="0.75" stroke-width="0.5"/>
<circle cx="285.65" cy="260.35" r="1.80" fill="#a81828" fill-opacity="0.55" stroke="#7a1a28" stroke-opacity="0.75" stroke-width="0.5"/>
<circle cx="292.34" cy="269.25" r="1.80" fill="#a81828" fill-opacity="0.55" stroke="#7a1a28" stroke-opacity="0.75" stroke-width="0.5"/>
<circle cx="285.04" cy="274.52" r="1.80" fill="#a81828" fill-opacity="0.55" stroke="#7a1a28" stroke-opacity="0.75" stroke-width="0.5"/>
<circle cx="293.77" cy="277.11" r="1.80" fill="#a81828" fill-opacity="0.55" stroke="#7a1a28" stroke-opacity="0.75" stroke-width="0.5"/>
<circle cx="285.38" cy="273.89" r="1.80" fill="#a81828" fill-opacity="0.55" stroke="#7a1a28" stroke-opacity="0.75" stroke-width="0.5"/>
<circle cx="286.20" cy="276.42" r="1.80" fill="#a81828" fill-opacity="0.55" stroke="#7a1a28" stroke-opacity="0.75" stroke-width="0.5"/>
<circle cx="292.22" cy="276.95" r="1.80" fill="#a81828" fill-opacity="0.55" stroke="#7a1a28" stroke-opacity="0.75" stroke-width="0.5"/>
<circle cx="295.87" cy="275.15" r="1.80" fill="#a81828" fill-opacity="0.55" stroke="#7a1a28" stroke-opacity="0.75" stroke-width="0.5"/>
<circle cx="284.70" cy="261.13" r="1.80" fill="#a81828" fill-opacity="0.55" stroke="#7a1a28" stroke-opacity="0.75" stroke-width="0.5"/>
<circle cx="287.03" cy="272.28" r="1.80" fill="#a81828" fill-opacity="0.55" stroke="#7a1a28" stroke-opacity="0.75" stroke-width="0.5"/>
<circle cx="290.87" cy="276.72" r="1.80" fill="#a81828" fill-opacity="0.55" stroke="#7a1a28" stroke-opacity="0.75" stroke-width="0.5"/>
<circle cx="290.19" cy="277.00" r="1.80" fill="#a81828" fill-opacity="0.55" stroke="#7a1a28" stroke-opacity="0.75" stroke-width="0.5"/>
<circle cx="286.52" cy="261.99" r="1.80" fill="#a81828" fill-opacity="0.55" stroke="#7a1a28" stroke-opacity="0.75" stroke-width="0.5"/>
<circle cx="294.06" cy="274.89" r="1.80" fill="#a81828" fill-opacity="0.55" stroke="#7a1a28" stroke-opacity="0.75" stroke-width="0.5"/>
<circle cx="292.36" cy="269.85" r="1.80" fill="#a81828" fill-opacity="0.55" stroke="#7a1a28" stroke-opacity="0.75" stroke-width="0.5"/>
<circle cx="285.80" cy="271.57" r="1.80" fill="#a81828" fill-opacity="0.55" stroke="#7a1a28" stroke-opacity="0.75" stroke-width="0.5"/>
<circle cx="285.70" cy="276.63" r="1.80" fill="#a81828" fill-opacity="0.55" stroke="#7a1a28" stroke-opacity="0.75" stroke-width="0.5"/>
<circle cx="285.41" cy="275.75" r="1.80" fill="#a81828" fill-opacity="0.55" stroke="#7a1a28" stroke-opacity="0.75" stroke-width="0.5"/>
<circle cx="284.74" cy="275.70" r="1.80" fill="#a81828" fill-opacity="0.55" stroke="#7a1a28" stroke-opacity="0.75" stroke-width="0.5"/>
<circle cx="288.70" cy="270.70" r="1.80" fill="#a81828" fill-opacity="0.55" stroke="#7a1a28" stroke-opacity="0.75" stroke-width="0.5"/>
<circle cx="294.51" cy="272.03" r="1.80" fill="#a81828" fill-opacity="0.55" stroke="#7a1a28" stroke-opacity="0.75" stroke-width="0.5"/>
<circle cx="292.80" cy="274.44" r="1.80" fill="#a81828" fill-opacity="0.55" stroke="#7a1a28" stroke-opacity="0.75" stroke-width="0.5"/>
<circle cx="295.21" cy="276.88" r="1.80" fill="#a81828" fill-opacity="0.55" stroke="#7a1a28" stroke-opacity="0.75" stroke-width="0.5"/>
<circle cx="285.38" cy="263.54" r="1.80" fill="#a81828" fill-opacity="0.55" stroke="#7a1a28" stroke-opacity="0.75" stroke-width="0.5"/>
<circle cx="291.70" cy="276.40" r="1.80" fill="#a81828" fill-opacity="0.55" stroke="#7a1a28" stroke-opacity="0.75" stroke-width="0.5"/>
<circle cx="288.67" cy="275.28" r="1.80" fill="#a81828" fill-opacity="0.55" stroke="#7a1a28" stroke-opacity="0.75" stroke-width="0.5"/>
<circle cx="289.32" cy="273.93" r="1.80" fill="#a81828" fill-opacity="0.55" stroke="#7a1a28" stroke-opacity="0.75" stroke-width="0.5"/>
<circle cx="288.93" cy="267.56" r="1.80" fill="#a81828" fill-opacity="0.55" stroke="#7a1a28" stroke-opacity="0.75" stroke-width="0.5"/>
<circle cx="293.94" cy="274.53" r="1.80" fill="#a81828" fill-opacity="0.55" stroke="#7a1a28" stroke-opacity="0.75" stroke-width="0.5"/>
<circle cx="289.83" cy="275.61" r="1.80" fill="#a81828" fill-opacity="0.55" stroke="#7a1a28" stroke-opacity="0.75" stroke-width="0.5"/>
<circle cx="293.38" cy="269.63" r="1.80" fill="#a81828" fill-opacity="0.55" stroke="#7a1a28" stroke-opacity="0.75" stroke-width="0.5"/>
<circle cx="286.88" cy="267.80" r="1.80" fill="#a81828" fill-opacity="0.55" stroke="#7a1a28" stroke-opacity="0.75" stroke-width="0.5"/>
<circle cx="292.57" cy="272.79" r="1.80" fill="#a81828" fill-opacity="0.55" stroke="#7a1a28" stroke-opacity="0.75" stroke-width="0.5"/>
<circle cx="284.47" cy="270.20" r="1.80" fill="#a81828" fill-opacity="0.55" stroke="#7a1a28" stroke-opacity="0.75" stroke-width="0.5"/>
<circle cx="286.55" cy="276.03" r="1.80" fill="#a81828" fill-opacity="0.55" stroke="#7a1a28" stroke-opacity="0.75" stroke-width="0.5"/>
<circle cx="291.13" cy="271.95" r="1.80" fill="#a81828" fill-opacity="0.55" stroke="#7a1a28" stroke-opacity="0.75" stroke-width="0.5"/>
<circle cx="291.68" cy="271.04" r="1.80" fill="#a81828" fill-opacity="0.55" stroke="#7a1a28" stroke-opacity="0.75" stroke-width="0.5"/>
<circle cx="292.62" cy="274.64" r="1.80" fill="#a81828" fill-opacity="0.55" stroke="#7a1a28" stroke-opacity="0.75" stroke-width="0.5"/>
<circle cx="284.68" cy="264.77" r="1.80" fill="#a81828" fill-opacity="0.55" stroke="#7a1a28" stroke-opacity="0.75" stroke-width="0.5"/>
<circle cx="294.08" cy="272.21" r="1.80" fill="#a81828" fill-opacity="0.55" stroke="#7a1a28" stroke-opacity="0.75" stroke-width="0.5"/>
<circle cx="291.35" cy="277.07" r="1.80" fill="#a81828" fill-opacity="0.55" stroke="#7a1a28" stroke-opacity="0.75" stroke-width="0.5"/>
<circle cx="286.47" cy="276.71" r="1.80" fill="#a81828" fill-opacity="0.55" stroke="#7a1a28" stroke-opacity="0.75" stroke-width="0.5"/>
<circle cx="291.81" cy="273.59" r="1.80" fill="#a81828" fill-opacity="0.55" stroke="#7a1a28" stroke-opacity="0.75" stroke-width="0.5"/>
<circle cx="286.36" cy="260.73" r="1.80" fill="#a81828" fill-opacity="0.55" stroke="#7a1a28" stroke-opacity="0.75" stroke-width="0.5"/>
<circle cx="295.95" cy="273.80" r="1.80" fill="#a81828" fill-opacity="0.55" stroke="#7a1a28" stroke-opacity="0.75" stroke-width="0.5"/>
<circle cx="289.72" cy="275.52" r="1.80" fill="#a81828" fill-opacity="0.55" stroke="#7a1a28" stroke-opacity="0.75" stroke-width="0.5"/>
<circle cx="286.63" cy="264.66" r="1.80" fill="#a81828" fill-opacity="0.55" stroke="#7a1a28" stroke-opacity="0.75" stroke-width="0.5"/>
<circle cx="292.60" cy="276.12" r="1.80" fill="#a81828" fill-opacity="0.55" stroke="#7a1a28" stroke-opacity="0.75" stroke-width="0.5"/>
<circle cx="295.04" cy="275.09" r="1.80" fill="#a81828" fill-opacity="0.55" stroke="#7a1a28" stroke-opacity="0.75" stroke-width="0.5"/>
<circle cx="289.10" cy="274.02" r="1.80" fill="#a81828" fill-opacity="0.55" stroke="#7a1a28" stroke-opacity="0.75" stroke-width="0.5"/>
<circle cx="292.83" cy="274.90" r="1.80" fill="#a81828" fill-opacity="0.55" stroke="#7a1a28" stroke-opacity="0.75" stroke-width="0.5"/>
<circle cx="292.09" cy="276.84" r="1.80" fill="#a81828" fill-opacity="0.55" stroke="#7a1a28" stroke-opacity="0.75" stroke-width="0.5"/>
<circle cx="292.61" cy="276.15" r="1.80" fill="#a81828" fill-opacity="0.55" stroke="#7a1a28" stroke-opacity="0.75" stroke-width="0.5"/>
<circle cx="295.14" cy="276.73" r="1.80" fill="#a81828" fill-opacity="0.55" stroke="#7a1a28" stroke-opacity="0.75" stroke-width="0.5"/>
<circle cx="288.14" cy="271.83" r="1.80" fill="#a81828" fill-opacity="0.55" stroke="#7a1a28" stroke-opacity="0.75" stroke-width="0.5"/>
<circle cx="288.86" cy="272.38" r="1.80" fill="#a81828" fill-opacity="0.55" stroke="#7a1a28" stroke-opacity="0.75" stroke-width="0.5"/>
<circle cx="295.30" cy="276.79" r="1.80" fill="#a81828" fill-opacity="0.55" stroke="#7a1a28" stroke-opacity="0.75" stroke-width="0.5"/>
<circle cx="293.46" cy="273.07" r="1.80" fill="#a81828" fill-opacity="0.55" stroke="#7a1a28" stroke-opacity="0.75" stroke-width="0.5"/>
<circle cx="293.63" cy="275.25" r="1.80" fill="#a81828" fill-opacity="0.55" stroke="#7a1a28" stroke-opacity="0.75" stroke-width="0.5"/>
<circle cx="289.61" cy="274.96" r="1.80" fill="#a81828" fill-opacity="0.55" stroke="#7a1a28" stroke-opacity="0.75" stroke-width="0.5"/>
<circle cx="289.84" cy="275.87" r="1.80" fill="#a81828" fill-opacity="0.55" stroke="#7a1a28" stroke-opacity="0.75" stroke-width="0.5"/>
<circle cx="286.41" cy="272.12" r="1.80" fill="#a81828" fill-opacity="0.55" stroke="#7a1a28" stroke-opacity="0.75" stroke-width="0.5"/>
<circle cx="286.43" cy="272.25" r="1.80" fill="#a81828" fill-opacity="0.55" stroke="#7a1a28" stroke-opacity="0.75" stroke-width="0.5"/>
<circle cx="291.05" cy="275.61" r="1.80" fill="#a81828" fill-opacity="0.55" stroke="#7a1a28" stroke-opacity="0.75" stroke-width="0.5"/>
<circle cx="286.17" cy="269.46" r="1.80" fill="#a81828" fill-opacity="0.55" stroke="#7a1a28" stroke-opacity="0.75" stroke-width="0.5"/>
<circle cx="294.53" cy="276.64" r="1.80" fill="#a81828" fill-opacity="0.55" stroke="#7a1a28" stroke-opacity="0.75" stroke-width="0.5"/>
<circle cx="291.56" cy="272.07" r="1.80" fill="#a81828" fill-opacity="0.55" stroke="#7a1a28" stroke-opacity="0.75" stroke-width="0.5"/>
<circle cx="294.82" cy="274.20" r="1.80" fill="#a81828" fill-opacity="0.55" stroke="#7a1a28" stroke-opacity="0.75" stroke-width="0.5"/>
<circle cx="287.83" cy="276.03" r="1.80" fill="#a81828" fill-opacity="0.55" stroke="#7a1a28" stroke-opacity="0.75" stroke-width="0.5"/>
<circle cx="294.24" cy="276.28" r="1.80" fill="#a81828" fill-opacity="0.55" stroke="#7a1a28" stroke-opacity="0.75" stroke-width="0.5"/>
<circle cx="284.25" cy="262.26" r="1.80" fill="#a81828" fill-opacity="0.55" stroke="#7a1a28" stroke-opacity="0.75" stroke-width="0.5"/>
<circle cx="286.50" cy="274.68" r="1.80" fill="#a81828" fill-opacity="0.55" stroke="#7a1a28" stroke-opacity="0.75" stroke-width="0.5"/>
<circle cx="287.97" cy="275.59" r="1.80" fill="#a81828" fill-opacity="0.55" stroke="#7a1a28" stroke-opacity="0.75" stroke-width="0.5"/>
<circle cx="292.88" cy="275.75" r="1.80" fill="#a81828" fill-opacity="0.55" stroke="#7a1a28" stroke-opacity="0.75" stroke-width="0.5"/>
<circle cx="289.44" cy="274.08" r="1.80" fill="#a81828" fill-opacity="0.55" stroke="#7a1a28" stroke-opacity="0.75" stroke-width="0.5"/>
<circle cx="294.20" cy="277.10" r="1.80" fill="#a81828" fill-opacity="0.55" stroke="#7a1a28" stroke-opacity="0.75" stroke-width="0.5"/>
<circle cx="291.13" cy="276.76" r="1.80" fill="#a81828" fill-opacity="0.55" stroke="#7a1a28" stroke-opacity="0.75" stroke-width="0.5"/>
<circle cx="285.92" cy="269.27" r="1.80" fill="#a81828" fill-opacity="0.55" stroke="#7a1a28" stroke-opacity="0.75" stroke-width="0.5"/>
<circle cx="288.65" cy="276.97" r="1.80" fill="#a81828" fill-opacity="0.55" stroke="#7a1a28" stroke-opacity="0.75" stroke-width="0.5"/>
<circle cx="291.23" cy="267.90" r="1.80" fill="#a81828" fill-opacity="0.55" stroke="#7a1a28" stroke-opacity="0.75" stroke-width="0.5"/>
<circle cx="291.92" cy="274.16" r="1.80" fill="#a81828" fill-opacity="0.55" stroke="#7a1a28" stroke-opacity="0.75" stroke-width="0.5"/>
<circle cx="293.81" cy="271.05" r="1.80" fill="#a81828" fill-opacity="0.55" stroke="#7a1a28" stroke-opacity="0.75" stroke-width="0.5"/>
<circle cx="285.93" cy="274.75" r="1.80" fill="#a81828" fill-opacity="0.55" stroke="#7a1a28" stroke-opacity="0.75" stroke-width="0.5"/>
<circle cx="295.79" cy="273.43" r="1.80" fill="#a81828" fill-opacity="0.55" stroke="#7a1a28" stroke-opacity="0.75" stroke-width="0.5"/>
<circle cx="286.56" cy="267.53" r="1.80" fill="#a81828" fill-opacity="0.55" stroke="#7a1a28" stroke-opacity="0.75" stroke-width="0.5"/>
<circle cx="294.70" cy="274.75" r="1.80" fill="#a81828" fill-opacity="0.55" stroke="#7a1a28" stroke-opacity="0.75" stroke-width="0.5"/>
<circle cx="292.61" cy="274.19" r="1.80" fill="#a81828" fill-opacity="0.55" stroke="#7a1a28" stroke-opacity="0.75" stroke-width="0.5"/>
<circle cx="286.94" cy="275.89" r="1.80" fill="#a81828" fill-opacity="0.55" stroke="#7a1a28" stroke-opacity="0.75" stroke-width="0.5"/>
<circle cx="284.85" cy="267.46" r="1.80" fill="#a81828" fill-opacity="0.55" stroke="#7a1a28" stroke-opacity="0.75" stroke-width="0.5"/>
<circle cx="285.78" cy="268.86" r="1.80" fill="#a81828" fill-opacity="0.55" stroke="#7a1a28" stroke-opacity="0.75" stroke-width="0.5"/>
<circle cx="288.84" cy="273.66" r="1.80" fill="#a81828" fill-opacity="0.55" stroke="#7a1a28" stroke-opacity="0.75" stroke-width="0.5"/>
<circle cx="295.86" cy="276.28" r="1.80" fill="#a81828" fill-opacity="0.55" stroke="#7a1a28" stroke-opacity="0.75" stroke-width="0.5"/>
<circle cx="289.85" cy="274.66" r="1.80" fill="#a81828" fill-opacity="0.55" stroke="#7a1a28" stroke-opacity="0.75" stroke-width="0.5"/>
<circle cx="286.71" cy="275.76" r="1.80" fill="#a81828" fill-opacity="0.55" stroke="#7a1a28" stroke-opacity="0.75" stroke-width="0.5"/>
<circle cx="290.56" cy="268.81" r="1.80" fill="#a81828" fill-opacity="0.55" stroke="#7a1a28" stroke-opacity="0.75" stroke-width="0.5"/>
<circle cx="285.20" cy="259.51" r="1.80" fill="#a81828" fill-opacity="0.55" stroke="#7a1a28" stroke-opacity="0.75" stroke-width="0.5"/>
<circle cx="292.28" cy="277.04" r="1.80" fill="#a81828" fill-opacity="0.55" stroke="#7a1a28" stroke-opacity="0.75" stroke-width="0.5"/>
<circle cx="292.67" cy="275.27" r="1.80" fill="#a81828" fill-opacity="0.55" stroke="#7a1a28" stroke-opacity="0.75" stroke-width="0.5"/>
<circle cx="290.34" cy="276.86" r="1.80" fill="#a81828" fill-opacity="0.55" stroke="#7a1a28" stroke-opacity="0.75" stroke-width="0.5"/>
<circle cx="290.28" cy="273.14" r="1.80" fill="#a81828" fill-opacity="0.55" stroke="#7a1a28" stroke-opacity="0.75" stroke-width="0.5"/>
<circle cx="293.58" cy="274.19" r="1.80" fill="#a81828" fill-opacity="0.55" stroke="#7a1a28" stroke-opacity="0.75" stroke-width="0.5"/>
<circle cx="292.64" cy="271.96" r="1.80" fill="#a81828" fill-opacity="0.55" stroke="#7a1a28" stroke-opacity="0.75" stroke-width="0.5"/>
<circle cx="286.78" cy="277.08" r="1.80" fill="#a81828" fill-opacity="0.55" stroke="#7a1a28" stroke-opacity="0.75" stroke-width="0.5"/>
<circle cx="289.90" cy="276.72" r="1.80" fill="#a81828" fill-opacity="0.55" stroke="#7a1a28" stroke-opacity="0.75" stroke-width="0.5"/>
<circle cx="285.82" cy="274.42" r="1.80" fill="#a81828" fill-opacity="0.55" stroke="#7a1a28" stroke-opacity="0.75" stroke-width="0.5"/>
<circle cx="290.62" cy="272.02" r="1.80" fill="#a81828" fill-opacity="0.55" stroke="#7a1a28" stroke-opacity="0.75" stroke-width="0.5"/>
<circle cx="291.93" cy="268.32" r="1.80" fill="#a81828" fill-opacity="0.55" stroke="#7a1a28" stroke-opacity="0.75" stroke-width="0.5"/>
<circle cx="285.34" cy="270.00" r="1.80" fill="#a81828" fill-opacity="0.55" stroke="#7a1a28" stroke-opacity="0.75" stroke-width="0.5"/>
<circle cx="285.15" cy="267.28" r="1.80" fill="#a81828" fill-opacity="0.55" stroke="#7a1a28" stroke-opacity="0.75" stroke-width="0.5"/>
<circle cx="289.40" cy="276.64" r="1.80" fill="#a81828" fill-opacity="0.55" stroke="#7a1a28" stroke-opacity="0.75" stroke-width="0.5"/>
<circle cx="287.86" cy="269.43" r="1.80" fill="#a81828" fill-opacity="0.55" stroke="#7a1a28" stroke-opacity="0.75" stroke-width="0.5"/>
<circle cx="289.84" cy="265.57" r="1.80" fill="#a81828" fill-opacity="0.55" stroke="#7a1a28" stroke-opacity="0.75" stroke-width="0.5"/>
<circle cx="296.62" cy="270.42" r="1.80" fill="#a81828" fill-opacity="0.55" stroke="#7a1a28" stroke-opacity="0.75" stroke-width="0.5"/>
<circle cx="306.93" cy="272.92" r="1.80" fill="#a81828" fill-opacity="0.55" stroke="#7a1a28" stroke-opacity="0.75" stroke-width="0.5"/>
<circle cx="292.11" cy="260.63" r="1.80" fill="#a81828" fill-opacity="0.55" stroke="#7a1a28" stroke-opacity="0.75" stroke-width="0.5"/>
<circle cx="296.77" cy="258.65" r="1.80" fill="#a81828" fill-opacity="0.55" stroke="#7a1a28" stroke-opacity="0.75" stroke-width="0.5"/>
<circle cx="301.72" cy="266.36" r="1.80" fill="#a81828" fill-opacity="0.55" stroke="#7a1a28" stroke-opacity="0.75" stroke-width="0.5"/>
<circle cx="306.45" cy="273.28" r="1.80" fill="#a81828" fill-opacity="0.55" stroke="#7a1a28" stroke-opacity="0.75" stroke-width="0.5"/>
<circle cx="307.74" cy="276.96" r="1.80" fill="#a81828" fill-opacity="0.55" stroke="#7a1a28" stroke-opacity="0.75" stroke-width="0.5"/>
<circle cx="296.35" cy="260.35" r="1.80" fill="#a81828" fill-opacity="0.55" stroke="#7a1a28" stroke-opacity="0.75" stroke-width="0.5"/>
<circle cx="290.31" cy="263.93" r="1.80" fill="#a81828" fill-opacity="0.55" stroke="#7a1a28" stroke-opacity="0.75" stroke-width="0.5"/>
<circle cx="308.33" cy="273.40" r="1.80" fill="#a81828" fill-opacity="0.55" stroke="#7a1a28" stroke-opacity="0.75" stroke-width="0.5"/>
<circle cx="305.83" cy="276.47" r="1.80" fill="#a81828" fill-opacity="0.55" stroke="#7a1a28" stroke-opacity="0.75" stroke-width="0.5"/>
<circle cx="299.98" cy="267.66" r="1.80" fill="#a81828" fill-opacity="0.55" stroke="#7a1a28" stroke-opacity="0.75" stroke-width="0.5"/>
<circle cx="298.08" cy="269.62" r="1.80" fill="#a81828" fill-opacity="0.55" stroke="#7a1a28" stroke-opacity="0.75" stroke-width="0.5"/>
<circle cx="304.53" cy="275.50" r="1.80" fill="#a81828" fill-opacity="0.55" stroke="#7a1a28" stroke-opacity="0.75" stroke-width="0.5"/>
<circle cx="290.98" cy="265.17" r="1.80" fill="#a81828" fill-opacity="0.55" stroke="#7a1a28" stroke-opacity="0.75" stroke-width="0.5"/>
<circle cx="307.73" cy="272.21" r="1.80" fill="#a81828" fill-opacity="0.55" stroke="#7a1a28" stroke-opacity="0.75" stroke-width="0.5"/>
<circle cx="302.40" cy="273.42" r="1.80" fill="#a81828" fill-opacity="0.55" stroke="#7a1a28" stroke-opacity="0.75" stroke-width="0.5"/>
<circle cx="306.60" cy="276.81" r="1.80" fill="#a81828" fill-opacity="0.55" stroke="#7a1a28" stroke-opacity="0.75" stroke-width="0.5"/>
<circle cx="294.64" cy="259.68" r="1.80" fill="#a81828" fill-opacity="0.55" stroke="#7a1a28" stroke-opacity="0.75" stroke-width="0.5"/>
<circle cx="306.43" cy="274.07" r="1.80" fill="#a81828" fill-opacity="0.55" stroke="#7a1a28" stroke-opacity="0.75" stroke-width="0.5"/>
<circle cx="306.69" cy="276.31" r="1.80" fill="#a81828" fill-opacity="0.55" stroke="#7a1a28" stroke-opacity="0.75" stroke-width="0.5"/>
<circle cx="301.01" cy="276.15" r="1.80" fill="#a81828" fill-opacity="0.55" stroke="#7a1a28" stroke-opacity="0.75" stroke-width="0.5"/>
<circle cx="298.24" cy="257.63" r="1.80" fill="#a81828" fill-opacity="0.55" stroke="#7a1a28" stroke-opacity="0.75" stroke-width="0.5"/>
<circle cx="293.19" cy="263.19" r="1.80" fill="#a81828" fill-opacity="0.55" stroke="#7a1a28" stroke-opacity="0.75" stroke-width="0.5"/>
<circle cx="301.27" cy="267.17" r="1.80" fill="#a81828" fill-opacity="0.55" stroke="#7a1a28" stroke-opacity="0.75" stroke-width="0.5"/>
<circle cx="306.32" cy="271.15" r="1.80" fill="#a81828" fill-opacity="0.55" stroke="#7a1a28" stroke-opacity="0.75" stroke-width="0.5"/>
<circle cx="303.29" cy="274.32" r="1.80" fill="#a81828" fill-opacity="0.55" stroke="#7a1a28" stroke-opacity="0.75" stroke-width="0.5"/>
<circle cx="310.36" cy="273.53" r="1.80" fill="#a81828" fill-opacity="0.55" stroke="#7a1a28" stroke-opacity="0.75" stroke-width="0.5"/>
<circle cx="307.33" cy="275.12" r="1.80" fill="#a81828" fill-opacity="0.55" stroke="#7a1a28" stroke-opacity="0.75" stroke-width="0.5"/>
<circle cx="297.23" cy="237.75" r="1.80" fill="#a81828" fill-opacity="0.55" stroke="#7a1a28" stroke-opacity="0.75" stroke-width="0.5"/>
<circle cx="303.29" cy="236.96" r="1.80" fill="#a81828" fill-opacity="0.55" stroke="#7a1a28" stroke-opacity="0.75" stroke-width="0.5"/>
<circle cx="294.20" cy="240.94" r="1.80" fill="#a81828" fill-opacity="0.55" stroke="#7a1a28" stroke-opacity="0.75" stroke-width="0.5"/>
<circle cx="304.30" cy="245.71" r="1.80" fill="#a81828" fill-opacity="0.55" stroke="#7a1a28" stroke-opacity="0.75" stroke-width="0.5"/>
<circle cx="311.37" cy="254.45" r="1.80" fill="#a81828" fill-opacity="0.55" stroke="#7a1a28" stroke-opacity="0.75" stroke-width="0.5"/>
<circle cx="314.40" cy="258.43" r="1.80" fill="#a81828" fill-opacity="0.55" stroke="#7a1a28" stroke-opacity="0.75" stroke-width="0.5"/>
<circle cx="320.46" cy="252.06" r="1.80" fill="#a81828" fill-opacity="0.55" stroke="#7a1a28" stroke-opacity="0.75" stroke-width="0.5"/>
<circle cx="322.48" cy="251.27" r="1.80" fill="#a81828" fill-opacity="0.55" stroke="#7a1a28" stroke-opacity="0.75" stroke-width="0.5"/>
<circle cx="317.43" cy="267.97" r="1.80" fill="#a81828" fill-opacity="0.55" stroke="#7a1a28" stroke-opacity="0.75" stroke-width="0.5"/>
<circle cx="319.45" cy="263.99" r="1.80" fill="#a81828" fill-opacity="0.55" stroke="#7a1a28" stroke-opacity="0.75" stroke-width="0.5"/>
<circle cx="307.33" cy="256.04" r="1.80" fill="#a81828" fill-opacity="0.55" stroke="#7a1a28" stroke-opacity="0.75" stroke-width="0.5"/>
<circle cx="300.26" cy="248.09" r="1.80" fill="#a81828" fill-opacity="0.55" stroke="#7a1a28" stroke-opacity="0.75" stroke-width="0.5"/>
<circle cx="296.22" cy="244.12" r="1.80" fill="#a81828" fill-opacity="0.55" stroke="#7a1a28" stroke-opacity="0.75" stroke-width="0.5"/>
<circle cx="292.18" cy="249.68" r="1.80" fill="#a81828" fill-opacity="0.55" stroke="#7a1a28" stroke-opacity="0.75" stroke-width="0.5"/>
<circle cx="309.35" cy="270.35" r="1.80" fill="#a81828" fill-opacity="0.55" stroke="#7a1a28" stroke-opacity="0.75" stroke-width="0.5"/>
<circle cx="314.40" cy="267.97" r="1.80" fill="#a81828" fill-opacity="0.55" stroke="#7a1a28" stroke-opacity="0.75" stroke-width="0.5"/>
<line x1="207.50" y1="228.00" x2="207.50" y2="281.00" stroke="#222" stroke-width="1.1" />
<line x1="206.70" y1="280.50" x2="339.00" y2="280.50" stroke="#222" stroke-width="1.1" />
<text x="446.30" y="222.70" font-size="9.0" text-anchor="middle" fill="#222" stroke="#222" stroke-width="0.08" font-weight="normal" font-style="normal" textLength="46" lengthAdjust="spacingAndGlyphs" >DKO vs. WT</text>
<line x1="376.70" y1="278.50" x2="379.20" y2="278.50" stroke="#222" stroke-width="0.9" />
<text x="372.90" y="280.58" font-size="6.6" text-anchor="end" fill="#222" stroke="#222" stroke-width="0.08" font-weight="normal" font-style="normal" >0</text>
<line x1="376.70" y1="262.50" x2="379.20" y2="262.50" stroke="#222" stroke-width="0.9" />
<text x="372.90" y="264.68" font-size="6.6" text-anchor="end" fill="#222" stroke="#222" stroke-width="0.08" font-weight="normal" font-style="normal" >20</text>
<line x1="376.70" y1="246.50" x2="379.20" y2="246.50" stroke="#222" stroke-width="0.9" />
<text x="372.90" y="248.78" font-size="6.6" text-anchor="end" fill="#222" stroke="#222" stroke-width="0.08" font-weight="normal" font-style="normal" >40</text>
<line x1="376.70" y1="230.50" x2="379.20" y2="230.50" stroke="#222" stroke-width="0.9" />
<text x="372.90" y="232.88" font-size="6.6" text-anchor="end" fill="#222" stroke="#222" stroke-width="0.08" font-weight="normal" font-style="normal" >60</text>
<line x1="385.50" y1="280.80" x2="385.50" y2="283.50" stroke="#222" stroke-width="0.9" />
<text x="385.40" y="292.18" font-size="6.6" text-anchor="middle" fill="#222" stroke="#222" stroke-width="0.08" font-weight="normal" font-style="normal" >−6</text>
<line x1="415.50" y1="280.80" x2="415.50" y2="283.50" stroke="#222" stroke-width="0.9" />
<text x="415.70" y="292.18" font-size="6.6" text-anchor="middle" fill="#222" stroke="#222" stroke-width="0.08" font-weight="normal" font-style="normal" >−3</text>
<line x1="446.50" y1="280.80" x2="446.50" y2="283.50" stroke="#222" stroke-width="0.9" />
<text x="446.00" y="292.18" font-size="6.6" text-anchor="middle" fill="#222" stroke="#222" stroke-width="0.08" font-weight="normal" font-style="normal" >0</text>
<line x1="476.50" y1="280.80" x2="476.50" y2="283.50" stroke="#222" stroke-width="0.9" />
<text x="476.30" y="292.18" font-size="6.6" text-anchor="middle" fill="#222" stroke="#222" stroke-width="0.08" font-weight="normal" font-style="normal" >3</text>
<line x1="506.50" y1="280.80" x2="506.50" y2="283.50" stroke="#222" stroke-width="0.9" />
<text x="506.60" y="292.18" font-size="6.6" text-anchor="middle" fill="#222" stroke="#222" stroke-width="0.08" font-weight="normal" font-style="normal" >6</text>
<text x="445.65" y="303.59" font-size="8.1" text-anchor="middle" fill="#222" stroke="#222" stroke-width="0.08" font-weight="normal" font-style="normal" textLength="48.7" lengthAdjust="spacingAndGlyphs" >log<tspan font-size="5.2" dy="1.6">2</tspan><tspan dy="-1.6">FoldChange</tspan></text>
<text x="355.60" y="257.04" font-size="8.8" text-anchor="middle" fill="#222" stroke="#222" stroke-width="0.08" font-weight="normal" font-style="normal" transform="rotate(-90 355.60 254.00)" textLength="43.6" lengthAdjust="spacingAndGlyphs" >−log<tspan font-size="5.6" dy="1.8">10</tspan><tspan dy="-1.8">(</tspan><tspan font-style="italic">P</tspan>value)</text>
<circle cx="441.13" cy="272.59" r="2.00" fill="#d4d4d4" fill-opacity="0.5" />
<circle cx="449.72" cy="273.20" r="2.00" fill="#d4d4d4" fill-opacity="0.5" />
<circle cx="439.65" cy="275.11" r="2.00" fill="#d4d4d4" fill-opacity="0.5" />
<circle cx="438.87" cy="274.74" r="2.00" fill="#d4d4d4" fill-opacity="0.5" />
<circle cx="450.73" cy="276.84" r="2.00" fill="#d4d4d4" fill-opacity="0.5" />
<circle cx="446.63" cy="277.89" r="2.00" fill="#d4d4d4" fill-opacity="0.5" />
<circle cx="441.85" cy="274.98" r="2.00" fill="#d4d4d4" fill-opacity="0.5" />
<circle cx="452.82" cy="270.79" r="2.00" fill="#d4d4d4" fill-opacity="0.5" />
<circle cx="436.19" cy="273.48" r="2.00" fill="#d4d4d4" fill-opacity="0.5" />
<circle cx="438.86" cy="267.77" r="2.00" fill="#d4d4d4" fill-opacity="0.5" />
<circle cx="452.26" cy="269.76" r="2.00" fill="#d4d4d4" fill-opacity="0.5" />
<circle cx="452.59" cy="269.80" r="2.00" fill="#d4d4d4" fill-opacity="0.5" />
<circle cx="455.08" cy="267.07" r="2.00" fill="#d4d4d4" fill-opacity="0.5" />
<circle cx="441.09" cy="271.45" r="2.00" fill="#d4d4d4" fill-opacity="0.5" />
<circle cx="445.73" cy="277.50" r="2.00" fill="#d4d4d4" fill-opacity="0.5" />
<circle cx="447.30" cy="277.18" r="2.00" fill="#d4d4d4" fill-opacity="0.5" />
<circle cx="443.26" cy="276.12" r="2.00" fill="#d4d4d4" fill-opacity="0.5" />
<circle cx="442.24" cy="277.24" r="2.00" fill="#d4d4d4" fill-opacity="0.5" />
<circle cx="452.46" cy="269.52" r="2.00" fill="#d4d4d4" fill-opacity="0.5" />
<circle cx="455.81" cy="268.25" r="2.00" fill="#d4d4d4" fill-opacity="0.5" />
<circle cx="447.10" cy="276.75" r="2.00" fill="#d4d4d4" fill-opacity="0.5" />
<circle cx="438.62" cy="269.37" r="2.00" fill="#d4d4d4" fill-opacity="0.5" />
<circle cx="444.86" cy="277.80" r="2.00" fill="#d4d4d4" fill-opacity="0.5" />
<circle cx="439.99" cy="272.52" r="2.00" fill="#d4d4d4" fill-opacity="0.5" />
<circle cx="441.02" cy="274.05" r="2.00" fill="#d4d4d4" fill-opacity="0.5" />
<circle cx="448.13" cy="276.70" r="2.00" fill="#d4d4d4" fill-opacity="0.5" />
<circle cx="438.54" cy="271.31" r="2.00" fill="#d4d4d4" fill-opacity="0.5" />
<circle cx="440.66" cy="275.61" r="2.00" fill="#d4d4d4" fill-opacity="0.5" />
<circle cx="439.83" cy="273.82" r="2.00" fill="#d4d4d4" fill-opacity="0.5" />
<circle cx="437.38" cy="268.71" r="2.00" fill="#d4d4d4" fill-opacity="0.5" />
<circle cx="455.16" cy="271.94" r="2.00" fill="#d4d4d4" fill-opacity="0.5" />
<circle cx="450.42" cy="271.71" r="2.00" fill="#d4d4d4" fill-opacity="0.5" />
<circle cx="436.77" cy="275.47" r="2.00" fill="#d4d4d4" fill-opacity="0.5" />
<circle cx="452.18" cy="269.60" r="2.00" fill="#d4d4d4" fill-opacity="0.5" />
<circle cx="448.81" cy="277.29" r="2.00" fill="#d4d4d4" fill-opacity="0.5" />
<circle cx="444.25" cy="275.78" r="2.00" fill="#d4d4d4" fill-opacity="0.5" />
<circle cx="453.80" cy="267.40" r="2.00" fill="#d4d4d4" fill-opacity="0.5" />
<circle cx="440.00" cy="269.76" r="2.00" fill="#d4d4d4" fill-opacity="0.5" />
<circle cx="443.47" cy="275.27" r="2.00" fill="#d4d4d4" fill-opacity="0.5" />
<circle cx="438.67" cy="266.46" r="2.00" fill="#d4d4d4" fill-opacity="0.5" />
<circle cx="448.09" cy="275.75" r="2.00" fill="#d4d4d4" fill-opacity="0.5" />
<circle cx="440.18" cy="271.92" r="2.00" fill="#d4d4d4" fill-opacity="0.5" />
<circle cx="447.63" cy="276.55" r="2.00" fill="#d4d4d4" fill-opacity="0.5" />
<circle cx="443.16" cy="274.87" r="2.00" fill="#d4d4d4" fill-opacity="0.5" />
<circle cx="442.79" cy="276.42" r="2.00" fill="#d4d4d4" fill-opacity="0.5" />
<circle cx="439.22" cy="270.11" r="2.00" fill="#d4d4d4" fill-opacity="0.5" />
<circle cx="438.17" cy="274.34" r="2.00" fill="#d4d4d4" fill-opacity="0.5" />
<circle cx="437.30" cy="268.80" r="2.00" fill="#d4d4d4" fill-opacity="0.5" />
<circle cx="447.13" cy="277.07" r="2.00" fill="#d4d4d4" fill-opacity="0.5" />
<circle cx="436.68" cy="271.30" r="2.00" fill="#d4d4d4" fill-opacity="0.5" />
<circle cx="442.83" cy="277.56" r="2.00" fill="#d4d4d4" fill-opacity="0.5" />
<circle cx="435.96" cy="264.81" r="2.00" fill="#d4d4d4" fill-opacity="0.5" />
<circle cx="438.35" cy="273.43" r="2.00" fill="#d4d4d4" fill-opacity="0.5" />
<circle cx="441.33" cy="273.41" r="2.00" fill="#d4d4d4" fill-opacity="0.5" />
<circle cx="437.46" cy="270.91" r="2.00" fill="#d4d4d4" fill-opacity="0.5" />
<circle cx="443.31" cy="274.67" r="2.00" fill="#d4d4d4" fill-opacity="0.5" />
<circle cx="436.02" cy="272.67" r="2.00" fill="#d4d4d4" fill-opacity="0.5" />
<circle cx="445.93" cy="277.48" r="2.00" fill="#d4d4d4" fill-opacity="0.5" />
<circle cx="446.34" cy="277.71" r="2.00" fill="#d4d4d4" fill-opacity="0.5" />
<circle cx="449.42" cy="276.28" r="2.00" fill="#d4d4d4" fill-opacity="0.5" />
<circle cx="436.54" cy="270.52" r="2.00" fill="#d4d4d4" fill-opacity="0.5" />
<circle cx="454.29" cy="267.70" r="2.00" fill="#d4d4d4" fill-opacity="0.5" />
<circle cx="441.12" cy="272.58" r="2.00" fill="#d4d4d4" fill-opacity="0.5" />
<circle cx="453.05" cy="274.37" r="2.00" fill="#d4d4d4" fill-opacity="0.5" />
<circle cx="447.78" cy="277.05" r="2.00" fill="#d4d4d4" fill-opacity="0.5" />
<circle cx="440.83" cy="275.26" r="2.00" fill="#d4d4d4" fill-opacity="0.5" />
<circle cx="440.02" cy="274.12" r="2.00" fill="#d4d4d4" fill-opacity="0.5" />
<circle cx="436.67" cy="271.84" r="2.00" fill="#d4d4d4" fill-opacity="0.5" />
<circle cx="437.65" cy="267.47" r="2.00" fill="#d4d4d4" fill-opacity="0.5" />
<circle cx="448.02" cy="278.26" r="2.00" fill="#d4d4d4" fill-opacity="0.5" />
<circle cx="451.53" cy="275.95" r="2.00" fill="#d4d4d4" fill-opacity="0.5" />
<circle cx="445.61" cy="277.60" r="2.00" fill="#d4d4d4" fill-opacity="0.5" />
<circle cx="442.62" cy="276.35" r="2.00" fill="#d4d4d4" fill-opacity="0.5" />
<circle cx="444.69" cy="277.84" r="2.00" fill="#d4d4d4" fill-opacity="0.5" />
<circle cx="453.34" cy="276.19" r="2.00" fill="#d4d4d4" fill-opacity="0.5" />
<circle cx="452.53" cy="275.15" r="2.00" fill="#d4d4d4" fill-opacity="0.5" />
<circle cx="442.03" cy="275.38" r="2.00" fill="#d4d4d4" fill-opacity="0.5" />
<circle cx="436.57" cy="275.69" r="2.00" fill="#d4d4d4" fill-opacity="0.5" />
<circle cx="443.19" cy="276.03" r="2.00" fill="#d4d4d4" fill-opacity="0.5" />
<circle cx="453.60" cy="265.78" r="2.00" fill="#d4d4d4" fill-opacity="0.5" />
<circle cx="436.78" cy="270.11" r="2.00" fill="#d4d4d4" fill-opacity="0.5" />
<circle cx="438.51" cy="267.89" r="2.00" fill="#d4d4d4" fill-opacity="0.5" />
<circle cx="442.42" cy="273.20" r="2.00" fill="#d4d4d4" fill-opacity="0.5" />
<circle cx="446.92" cy="277.97" r="2.00" fill="#d4d4d4" fill-opacity="0.5" />
<circle cx="436.00" cy="273.87" r="2.00" fill="#d4d4d4" fill-opacity="0.5" />
<circle cx="453.43" cy="275.61" r="2.00" fill="#d4d4d4" fill-opacity="0.5" />
<circle cx="445.57" cy="277.77" r="2.00" fill="#d4d4d4" fill-opacity="0.5" />
<circle cx="442.87" cy="274.22" r="2.00" fill="#d4d4d4" fill-opacity="0.5" />
<circle cx="440.22" cy="271.16" r="2.00" fill="#d4d4d4" fill-opacity="0.5" />
<circle cx="449.37" cy="273.33" r="2.00" fill="#d4d4d4" fill-opacity="0.5" />
<circle cx="446.40" cy="277.23" r="2.00" fill="#d4d4d4" fill-opacity="0.5" />
<circle cx="444.80" cy="276.96" r="2.00" fill="#d4d4d4" fill-opacity="0.5" />
<circle cx="448.44" cy="274.98" r="2.00" fill="#d4d4d4" fill-opacity="0.5" />
<circle cx="454.03" cy="275.91" r="2.00" fill="#d4d4d4" fill-opacity="0.5" />
<circle cx="438.67" cy="270.97" r="2.00" fill="#d4d4d4" fill-opacity="0.5" />
<circle cx="452.31" cy="272.10" r="2.00" fill="#d4d4d4" fill-opacity="0.5" />
<circle cx="441.95" cy="272.15" r="2.00" fill="#d4d4d4" fill-opacity="0.5" />
<circle cx="441.92" cy="277.39" r="2.00" fill="#d4d4d4" fill-opacity="0.5" />
<circle cx="436.95" cy="277.47" r="2.00" fill="#d4d4d4" fill-opacity="0.5" />
<circle cx="450.58" cy="277.09" r="2.00" fill="#d4d4d4" fill-opacity="0.5" />
<circle cx="450.37" cy="272.17" r="2.00" fill="#d4d4d4" fill-opacity="0.5" />
<circle cx="456.09" cy="266.89" r="2.00" fill="#d4d4d4" fill-opacity="0.5" />
<circle cx="444.47" cy="276.58" r="2.00" fill="#d4d4d4" fill-opacity="0.5" />
<circle cx="452.73" cy="269.87" r="2.00" fill="#d4d4d4" fill-opacity="0.5" />
<circle cx="441.77" cy="272.95" r="2.00" fill="#d4d4d4" fill-opacity="0.5" />
<circle cx="438.11" cy="273.17" r="2.00" fill="#d4d4d4" fill-opacity="0.5" />
<circle cx="456.02" cy="270.90" r="2.00" fill="#d4d4d4" fill-opacity="0.5" />
<circle cx="441.31" cy="272.19" r="2.00" fill="#d4d4d4" fill-opacity="0.5" />
<circle cx="444.99" cy="278.28" r="2.00" fill="#d4d4d4" fill-opacity="0.5" />
<circle cx="436.49" cy="273.71" r="2.00" fill="#d4d4d4" fill-opacity="0.5" />
<circle cx="442.61" cy="273.28" r="2.00" fill="#d4d4d4" fill-opacity="0.5" />
<circle cx="440.90" cy="271.16" r="2.00" fill="#d4d4d4" fill-opacity="0.5" />
<circle cx="453.14" cy="272.47" r="2.00" fill="#d4d4d4" fill-opacity="0.5" />
<circle cx="455.96" cy="267.43" r="2.00" fill="#d4d4d4" fill-opacity="0.5" />
<circle cx="445.68" cy="277.94" r="2.00" fill="#d4d4d4" fill-opacity="0.5" />
<circle cx="445.21" cy="276.85" r="2.00" fill="#d4d4d4" fill-opacity="0.5" />
<circle cx="446.74" cy="277.89" r="2.00" fill="#d4d4d4" fill-opacity="0.5" />
<circle cx="443.49" cy="276.13" r="2.00" fill="#d4d4d4" fill-opacity="0.5" />
<circle cx="439.75" cy="271.81" r="2.00" fill="#d4d4d4" fill-opacity="0.5" />
<circle cx="436.59" cy="266.76" r="2.00" fill="#d4d4d4" fill-opacity="0.5" />
<circle cx="439.51" cy="276.59" r="2.00" fill="#d4d4d4" fill-opacity="0.5" />
<circle cx="447.80" cy="277.18" r="2.00" fill="#d4d4d4" fill-opacity="0.5" />
<circle cx="453.78" cy="270.90" r="2.00" fill="#d4d4d4" fill-opacity="0.5" />
<circle cx="446.43" cy="277.28" r="2.00" fill="#d4d4d4" fill-opacity="0.5" />
<circle cx="440.23" cy="270.96" r="2.00" fill="#d4d4d4" fill-opacity="0.5" />
<circle cx="449.01" cy="275.92" r="2.00" fill="#d4d4d4" fill-opacity="0.5" />
<circle cx="455.28" cy="277.66" r="2.00" fill="#d4d4d4" fill-opacity="0.5" />
<circle cx="453.32" cy="275.74" r="2.00" fill="#d4d4d4" fill-opacity="0.5" />
<circle cx="452.86" cy="275.78" r="2.00" fill="#d4d4d4" fill-opacity="0.5" />
<circle cx="436.98" cy="270.53" r="2.00" fill="#d4d4d4" fill-opacity="0.5" />
<circle cx="454.60" cy="273.74" r="2.00" fill="#d4d4d4" fill-opacity="0.5" />
<circle cx="445.73" cy="277.62" r="2.00" fill="#d4d4d4" fill-opacity="0.5" />
<circle cx="440.82" cy="273.33" r="2.00" fill="#d4d4d4" fill-opacity="0.5" />
<circle cx="436.09" cy="271.17" r="2.00" fill="#d4d4d4" fill-opacity="0.5" />
<circle cx="451.25" cy="274.77" r="2.00" fill="#d4d4d4" fill-opacity="0.5" />
<circle cx="440.35" cy="277.46" r="2.00" fill="#d4d4d4" fill-opacity="0.5" />
<circle cx="450.05" cy="275.08" r="2.00" fill="#d4d4d4" fill-opacity="0.5" />
<circle cx="454.36" cy="267.67" r="2.00" fill="#d4d4d4" fill-opacity="0.5" />
<circle cx="437.93" cy="265.74" r="2.00" fill="#d4d4d4" fill-opacity="0.5" />
<circle cx="454.72" cy="266.80" r="2.00" fill="#d4d4d4" fill-opacity="0.5" />
<line x1="435.50" y1="228.00" x2="435.50" y2="280.00" stroke="#c4c4c4" stroke-width="1.2" stroke-dasharray="4.5,2.5"/>
<line x1="456.50" y1="228.00" x2="456.50" y2="280.00" stroke="#c4c4c4" stroke-width="1.2" stroke-dasharray="4.5,2.5"/>
<line x1="380.20" y1="276.50" x2="514.00" y2="276.50" stroke="#cccccc" stroke-width="1.2" stroke-dasharray="4.5,2.5"/>
<circle cx="421.28" cy="276.18" r="1.80" fill="#3a78c8" fill-opacity="0.55" stroke="#2a5a9a" stroke-opacity="0.75" stroke-width="0.5"/>
<circle cx="423.81" cy="275.74" r="1.80" fill="#3a78c8" fill-opacity="0.55" stroke="#2a5a9a" stroke-opacity="0.75" stroke-width="0.5"/>
<circle cx="428.72" cy="277.04" r="1.80" fill="#3a78c8" fill-opacity="0.55" stroke="#2a5a9a" stroke-opacity="0.75" stroke-width="0.5"/>
<circle cx="416.96" cy="276.15" r="1.80" fill="#3a78c8" fill-opacity="0.55" stroke="#2a5a9a" stroke-opacity="0.75" stroke-width="0.5"/>
<circle cx="421.69" cy="276.84" r="1.80" fill="#3a78c8" fill-opacity="0.55" stroke="#2a5a9a" stroke-opacity="0.75" stroke-width="0.5"/>
<circle cx="435.82" cy="276.20" r="1.80" fill="#3a78c8" fill-opacity="0.55" stroke="#2a5a9a" stroke-opacity="0.75" stroke-width="0.5"/>
<circle cx="432.76" cy="275.92" r="1.80" fill="#3a78c8" fill-opacity="0.55" stroke="#2a5a9a" stroke-opacity="0.75" stroke-width="0.5"/>
<circle cx="428.97" cy="276.86" r="1.80" fill="#3a78c8" fill-opacity="0.55" stroke="#2a5a9a" stroke-opacity="0.75" stroke-width="0.5"/>
<circle cx="428.89" cy="273.76" r="1.80" fill="#3a78c8" fill-opacity="0.55" stroke="#2a5a9a" stroke-opacity="0.75" stroke-width="0.5"/>
<circle cx="426.75" cy="274.79" r="1.80" fill="#3a78c8" fill-opacity="0.55" stroke="#2a5a9a" stroke-opacity="0.75" stroke-width="0.5"/>
<circle cx="429.59" cy="277.04" r="1.80" fill="#3a78c8" fill-opacity="0.55" stroke="#2a5a9a" stroke-opacity="0.75" stroke-width="0.5"/>
<circle cx="431.26" cy="275.29" r="1.80" fill="#3a78c8" fill-opacity="0.55" stroke="#2a5a9a" stroke-opacity="0.75" stroke-width="0.5"/>
<circle cx="422.49" cy="277.09" r="1.80" fill="#3a78c8" fill-opacity="0.55" stroke="#2a5a9a" stroke-opacity="0.75" stroke-width="0.5"/>
<circle cx="433.32" cy="275.98" r="1.80" fill="#3a78c8" fill-opacity="0.55" stroke="#2a5a9a" stroke-opacity="0.75" stroke-width="0.5"/>
<circle cx="430.50" cy="273.65" r="1.80" fill="#3a78c8" fill-opacity="0.55" stroke="#2a5a9a" stroke-opacity="0.75" stroke-width="0.5"/>
<circle cx="430.41" cy="273.38" r="1.80" fill="#3a78c8" fill-opacity="0.55" stroke="#2a5a9a" stroke-opacity="0.75" stroke-width="0.5"/>
<circle cx="424.29" cy="274.94" r="1.80" fill="#3a78c8" fill-opacity="0.55" stroke="#2a5a9a" stroke-opacity="0.75" stroke-width="0.5"/>
<circle cx="425.24" cy="274.16" r="1.80" fill="#3a78c8" fill-opacity="0.55" stroke="#2a5a9a" stroke-opacity="0.75" stroke-width="0.5"/>
<circle cx="433.58" cy="277.00" r="1.80" fill="#3a78c8" fill-opacity="0.55" stroke="#2a5a9a" stroke-opacity="0.75" stroke-width="0.5"/>
<circle cx="419.32" cy="276.92" r="1.80" fill="#3a78c8" fill-opacity="0.55" stroke="#2a5a9a" stroke-opacity="0.75" stroke-width="0.5"/>
<circle cx="435.24" cy="276.26" r="1.80" fill="#3a78c8" fill-opacity="0.55" stroke="#2a5a9a" stroke-opacity="0.75" stroke-width="0.5"/>
<circle cx="428.74" cy="276.43" r="1.80" fill="#3a78c8" fill-opacity="0.55" stroke="#2a5a9a" stroke-opacity="0.75" stroke-width="0.5"/>
<circle cx="426.44" cy="276.26" r="1.80" fill="#3a78c8" fill-opacity="0.55" stroke="#2a5a9a" stroke-opacity="0.75" stroke-width="0.5"/>
<circle cx="423.44" cy="275.84" r="1.80" fill="#3a78c8" fill-opacity="0.55" stroke="#2a5a9a" stroke-opacity="0.75" stroke-width="0.5"/>
<circle cx="427.92" cy="273.75" r="1.80" fill="#3a78c8" fill-opacity="0.55" stroke="#2a5a9a" stroke-opacity="0.75" stroke-width="0.5"/>
<circle cx="429.80" cy="273.20" r="1.80" fill="#3a78c8" fill-opacity="0.55" stroke="#2a5a9a" stroke-opacity="0.75" stroke-width="0.5"/>
<circle cx="433.14" cy="273.65" r="1.80" fill="#3a78c8" fill-opacity="0.55" stroke="#2a5a9a" stroke-opacity="0.75" stroke-width="0.5"/>
<circle cx="429.59" cy="276.82" r="1.80" fill="#3a78c8" fill-opacity="0.55" stroke="#2a5a9a" stroke-opacity="0.75" stroke-width="0.5"/>
<circle cx="433.23" cy="273.81" r="1.80" fill="#3a78c8" fill-opacity="0.55" stroke="#2a5a9a" stroke-opacity="0.75" stroke-width="0.5"/>
<circle cx="434.07" cy="275.71" r="1.80" fill="#3a78c8" fill-opacity="0.55" stroke="#2a5a9a" stroke-opacity="0.75" stroke-width="0.5"/>
<circle cx="430.41" cy="276.70" r="1.80" fill="#3a78c8" fill-opacity="0.55" stroke="#2a5a9a" stroke-opacity="0.75" stroke-width="0.5"/>
<circle cx="432.67" cy="275.53" r="1.80" fill="#3a78c8" fill-opacity="0.55" stroke="#2a5a9a" stroke-opacity="0.75" stroke-width="0.5"/>
<circle cx="422.18" cy="277.07" r="1.80" fill="#3a78c8" fill-opacity="0.55" stroke="#2a5a9a" stroke-opacity="0.75" stroke-width="0.5"/>
<circle cx="433.10" cy="273.64" r="1.80" fill="#3a78c8" fill-opacity="0.55" stroke="#2a5a9a" stroke-opacity="0.75" stroke-width="0.5"/>
<circle cx="418.41" cy="275.96" r="1.80" fill="#3a78c8" fill-opacity="0.55" stroke="#2a5a9a" stroke-opacity="0.75" stroke-width="0.5"/>
<circle cx="424.59" cy="276.93" r="1.80" fill="#3a78c8" fill-opacity="0.55" stroke="#2a5a9a" stroke-opacity="0.75" stroke-width="0.5"/>
<circle cx="422.35" cy="275.38" r="1.80" fill="#3a78c8" fill-opacity="0.55" stroke="#2a5a9a" stroke-opacity="0.75" stroke-width="0.5"/>
<circle cx="433.46" cy="277.08" r="1.80" fill="#3a78c8" fill-opacity="0.55" stroke="#2a5a9a" stroke-opacity="0.75" stroke-width="0.5"/>
<circle cx="428.50" cy="277.07" r="1.80" fill="#3a78c8" fill-opacity="0.55" stroke="#2a5a9a" stroke-opacity="0.75" stroke-width="0.5"/>
<circle cx="430.50" cy="276.31" r="1.80" fill="#3a78c8" fill-opacity="0.55" stroke="#2a5a9a" stroke-opacity="0.75" stroke-width="0.5"/>
<circle cx="433.61" cy="273.82" r="1.80" fill="#3a78c8" fill-opacity="0.55" stroke="#2a5a9a" stroke-opacity="0.75" stroke-width="0.5"/>
<circle cx="426.41" cy="273.57" r="1.80" fill="#3a78c8" fill-opacity="0.55" stroke="#2a5a9a" stroke-opacity="0.75" stroke-width="0.5"/>
<circle cx="422.65" cy="277.05" r="1.80" fill="#3a78c8" fill-opacity="0.55" stroke="#2a5a9a" stroke-opacity="0.75" stroke-width="0.5"/>
<circle cx="428.22" cy="277.09" r="1.80" fill="#3a78c8" fill-opacity="0.55" stroke="#2a5a9a" stroke-opacity="0.75" stroke-width="0.5"/>
<circle cx="420.50" cy="276.56" r="1.80" fill="#3a78c8" fill-opacity="0.55" stroke="#2a5a9a" stroke-opacity="0.75" stroke-width="0.5"/>
<circle cx="428.42" cy="276.86" r="1.80" fill="#3a78c8" fill-opacity="0.55" stroke="#2a5a9a" stroke-opacity="0.75" stroke-width="0.5"/>
<circle cx="417.52" cy="275.98" r="1.80" fill="#3a78c8" fill-opacity="0.55" stroke="#2a5a9a" stroke-opacity="0.75" stroke-width="0.5"/>
<circle cx="422.73" cy="274.62" r="1.80" fill="#3a78c8" fill-opacity="0.55" stroke="#2a5a9a" stroke-opacity="0.75" stroke-width="0.5"/>
<circle cx="433.92" cy="276.34" r="1.80" fill="#3a78c8" fill-opacity="0.55" stroke="#2a5a9a" stroke-opacity="0.75" stroke-width="0.5"/>
<circle cx="425.55" cy="275.86" r="1.80" fill="#3a78c8" fill-opacity="0.55" stroke="#2a5a9a" stroke-opacity="0.75" stroke-width="0.5"/>
<circle cx="429.07" cy="275.18" r="1.80" fill="#3a78c8" fill-opacity="0.55" stroke="#2a5a9a" stroke-opacity="0.75" stroke-width="0.5"/>
<circle cx="427.44" cy="275.26" r="1.80" fill="#3a78c8" fill-opacity="0.55" stroke="#2a5a9a" stroke-opacity="0.75" stroke-width="0.5"/>
<circle cx="434.76" cy="275.99" r="1.80" fill="#3a78c8" fill-opacity="0.55" stroke="#2a5a9a" stroke-opacity="0.75" stroke-width="0.5"/>
<circle cx="424.98" cy="275.15" r="1.80" fill="#3a78c8" fill-opacity="0.55" stroke="#2a5a9a" stroke-opacity="0.75" stroke-width="0.5"/>
<circle cx="421.27" cy="276.73" r="1.80" fill="#3a78c8" fill-opacity="0.55" stroke="#2a5a9a" stroke-opacity="0.75" stroke-width="0.5"/>
<circle cx="432.87" cy="255.25" r="1.80" fill="#3a78c8" fill-opacity="0.55" stroke="#2a5a9a" stroke-opacity="0.75" stroke-width="0.5"/>
<circle cx="428.83" cy="266.38" r="1.80" fill="#3a78c8" fill-opacity="0.55" stroke="#2a5a9a" stroke-opacity="0.75" stroke-width="0.5"/>
<circle cx="399.54" cy="275.12" r="1.80" fill="#3a78c8" fill-opacity="0.55" stroke="#2a5a9a" stroke-opacity="0.75" stroke-width="0.5"/>
<circle cx="417.72" cy="273.53" r="1.80" fill="#3a78c8" fill-opacity="0.55" stroke="#2a5a9a" stroke-opacity="0.75" stroke-width="0.5"/>
<circle cx="416.71" cy="275.92" r="1.80" fill="#3a78c8" fill-opacity="0.55" stroke="#2a5a9a" stroke-opacity="0.75" stroke-width="0.5"/>
<circle cx="424.79" cy="271.94" r="1.80" fill="#3a78c8" fill-opacity="0.55" stroke="#2a5a9a" stroke-opacity="0.75" stroke-width="0.5"/>
<circle cx="430.85" cy="271.15" r="1.80" fill="#3a78c8" fill-opacity="0.55" stroke="#2a5a9a" stroke-opacity="0.75" stroke-width="0.5"/>
<circle cx="467.95" cy="276.61" r="1.80" fill="#a81828" fill-opacity="0.55" stroke="#7a1a28" stroke-opacity="0.75" stroke-width="0.5"/>
<circle cx="462.75" cy="277.10" r="1.80" fill="#a81828" fill-opacity="0.55" stroke="#7a1a28" stroke-opacity="0.75" stroke-width="0.5"/>
<circle cx="461.13" cy="275.21" r="1.80" fill="#a81828" fill-opacity="0.55" stroke="#7a1a28" stroke-opacity="0.75" stroke-width="0.5"/>
<circle cx="456.34" cy="274.61" r="1.80" fill="#a81828" fill-opacity="0.55" stroke="#7a1a28" stroke-opacity="0.75" stroke-width="0.5"/>
<circle cx="463.76" cy="277.06" r="1.80" fill="#a81828" fill-opacity="0.55" stroke="#7a1a28" stroke-opacity="0.75" stroke-width="0.5"/>
<circle cx="463.70" cy="276.10" r="1.80" fill="#a81828" fill-opacity="0.55" stroke="#7a1a28" stroke-opacity="0.75" stroke-width="0.5"/>
<circle cx="464.33" cy="276.50" r="1.80" fill="#a81828" fill-opacity="0.55" stroke="#7a1a28" stroke-opacity="0.75" stroke-width="0.5"/>
<circle cx="464.67" cy="275.37" r="1.80" fill="#a81828" fill-opacity="0.55" stroke="#7a1a28" stroke-opacity="0.75" stroke-width="0.5"/>
<circle cx="456.37" cy="277.03" r="1.80" fill="#a81828" fill-opacity="0.55" stroke="#7a1a28" stroke-opacity="0.75" stroke-width="0.5"/>
<circle cx="464.29" cy="274.36" r="1.80" fill="#a81828" fill-opacity="0.55" stroke="#7a1a28" stroke-opacity="0.75" stroke-width="0.5"/>
<circle cx="459.14" cy="275.52" r="1.80" fill="#a81828" fill-opacity="0.55" stroke="#7a1a28" stroke-opacity="0.75" stroke-width="0.5"/>
<circle cx="463.28" cy="276.50" r="1.80" fill="#a81828" fill-opacity="0.55" stroke="#7a1a28" stroke-opacity="0.75" stroke-width="0.5"/>
<circle cx="460.51" cy="276.31" r="1.80" fill="#a81828" fill-opacity="0.55" stroke="#7a1a28" stroke-opacity="0.75" stroke-width="0.5"/>
<circle cx="460.57" cy="275.02" r="1.80" fill="#a81828" fill-opacity="0.55" stroke="#7a1a28" stroke-opacity="0.75" stroke-width="0.5"/>
<circle cx="459.74" cy="275.97" r="1.80" fill="#a81828" fill-opacity="0.55" stroke="#7a1a28" stroke-opacity="0.75" stroke-width="0.5"/>
<circle cx="465.46" cy="277.10" r="1.80" fill="#a81828" fill-opacity="0.55" stroke="#7a1a28" stroke-opacity="0.75" stroke-width="0.5"/>
<circle cx="463.00" cy="274.92" r="1.80" fill="#a81828" fill-opacity="0.55" stroke="#7a1a28" stroke-opacity="0.75" stroke-width="0.5"/>
<circle cx="459.86" cy="276.60" r="1.80" fill="#a81828" fill-opacity="0.55" stroke="#7a1a28" stroke-opacity="0.75" stroke-width="0.5"/>
<circle cx="465.84" cy="276.85" r="1.80" fill="#a81828" fill-opacity="0.55" stroke="#7a1a28" stroke-opacity="0.75" stroke-width="0.5"/>
<circle cx="458.37" cy="275.62" r="1.80" fill="#a81828" fill-opacity="0.55" stroke="#7a1a28" stroke-opacity="0.75" stroke-width="0.5"/>
<circle cx="464.56" cy="277.02" r="1.80" fill="#a81828" fill-opacity="0.55" stroke="#7a1a28" stroke-opacity="0.75" stroke-width="0.5"/>
<circle cx="460.00" cy="276.18" r="1.80" fill="#a81828" fill-opacity="0.55" stroke="#7a1a28" stroke-opacity="0.75" stroke-width="0.5"/>
<circle cx="466.20" cy="276.51" r="1.80" fill="#a81828" fill-opacity="0.55" stroke="#7a1a28" stroke-opacity="0.75" stroke-width="0.5"/>
<circle cx="466.47" cy="276.97" r="1.80" fill="#a81828" fill-opacity="0.55" stroke="#7a1a28" stroke-opacity="0.75" stroke-width="0.5"/>
<circle cx="460.18" cy="274.64" r="1.80" fill="#a81828" fill-opacity="0.55" stroke="#7a1a28" stroke-opacity="0.75" stroke-width="0.5"/>
<circle cx="466.82" cy="276.56" r="1.80" fill="#a81828" fill-opacity="0.55" stroke="#7a1a28" stroke-opacity="0.75" stroke-width="0.5"/>
<circle cx="458.83" cy="276.89" r="1.80" fill="#a81828" fill-opacity="0.55" stroke="#7a1a28" stroke-opacity="0.75" stroke-width="0.5"/>
<circle cx="462.52" cy="276.80" r="1.80" fill="#a81828" fill-opacity="0.55" stroke="#7a1a28" stroke-opacity="0.75" stroke-width="0.5"/>
<circle cx="465.88" cy="275.41" r="1.80" fill="#a81828" fill-opacity="0.55" stroke="#7a1a28" stroke-opacity="0.75" stroke-width="0.5"/>
<circle cx="458.33" cy="276.35" r="1.80" fill="#a81828" fill-opacity="0.55" stroke="#7a1a28" stroke-opacity="0.75" stroke-width="0.5"/>
<circle cx="465.88" cy="275.97" r="1.80" fill="#a81828" fill-opacity="0.55" stroke="#7a1a28" stroke-opacity="0.75" stroke-width="0.5"/>
<circle cx="465.87" cy="276.66" r="1.80" fill="#a81828" fill-opacity="0.55" stroke="#7a1a28" stroke-opacity="0.75" stroke-width="0.5"/>
<circle cx="457.67" cy="276.29" r="1.80" fill="#a81828" fill-opacity="0.55" stroke="#7a1a28" stroke-opacity="0.75" stroke-width="0.5"/>
<circle cx="465.72" cy="276.78" r="1.80" fill="#a81828" fill-opacity="0.55" stroke="#7a1a28" stroke-opacity="0.75" stroke-width="0.5"/>
<circle cx="460.30" cy="275.85" r="1.80" fill="#a81828" fill-opacity="0.55" stroke="#7a1a28" stroke-opacity="0.75" stroke-width="0.5"/>
<circle cx="461.19" cy="275.99" r="1.80" fill="#a81828" fill-opacity="0.55" stroke="#7a1a28" stroke-opacity="0.75" stroke-width="0.5"/>
<circle cx="467.26" cy="277.01" r="1.80" fill="#a81828" fill-opacity="0.55" stroke="#7a1a28" stroke-opacity="0.75" stroke-width="0.5"/>
<circle cx="456.16" cy="272.37" r="1.80" fill="#a81828" fill-opacity="0.55" stroke="#7a1a28" stroke-opacity="0.75" stroke-width="0.5"/>
<circle cx="466.77" cy="275.31" r="1.80" fill="#a81828" fill-opacity="0.55" stroke="#7a1a28" stroke-opacity="0.75" stroke-width="0.5"/>
<circle cx="461.36" cy="273.23" r="1.80" fill="#a81828" fill-opacity="0.55" stroke="#7a1a28" stroke-opacity="0.75" stroke-width="0.5"/>
<circle cx="467.34" cy="276.94" r="1.80" fill="#a81828" fill-opacity="0.55" stroke="#7a1a28" stroke-opacity="0.75" stroke-width="0.5"/>
<circle cx="465.14" cy="275.16" r="1.80" fill="#a81828" fill-opacity="0.55" stroke="#7a1a28" stroke-opacity="0.75" stroke-width="0.5"/>
<circle cx="464.14" cy="275.99" r="1.80" fill="#a81828" fill-opacity="0.55" stroke="#7a1a28" stroke-opacity="0.75" stroke-width="0.5"/>
<circle cx="459.60" cy="276.12" r="1.80" fill="#a81828" fill-opacity="0.55" stroke="#7a1a28" stroke-opacity="0.75" stroke-width="0.5"/>
<circle cx="458.86" cy="277.02" r="1.80" fill="#a81828" fill-opacity="0.55" stroke="#7a1a28" stroke-opacity="0.75" stroke-width="0.5"/>
<circle cx="463.23" cy="276.59" r="1.80" fill="#a81828" fill-opacity="0.55" stroke="#7a1a28" stroke-opacity="0.75" stroke-width="0.5"/>
<circle cx="465.92" cy="277.09" r="1.80" fill="#a81828" fill-opacity="0.55" stroke="#7a1a28" stroke-opacity="0.75" stroke-width="0.5"/>
<circle cx="467.05" cy="276.12" r="1.80" fill="#a81828" fill-opacity="0.55" stroke="#7a1a28" stroke-opacity="0.75" stroke-width="0.5"/>
<circle cx="467.30" cy="275.75" r="1.80" fill="#a81828" fill-opacity="0.55" stroke="#7a1a28" stroke-opacity="0.75" stroke-width="0.5"/>
<circle cx="467.00" cy="276.35" r="1.80" fill="#a81828" fill-opacity="0.55" stroke="#7a1a28" stroke-opacity="0.75" stroke-width="0.5"/>
<circle cx="456.26" cy="273.78" r="1.80" fill="#a81828" fill-opacity="0.55" stroke="#7a1a28" stroke-opacity="0.75" stroke-width="0.5"/>
<circle cx="458.18" cy="276.26" r="1.80" fill="#a81828" fill-opacity="0.55" stroke="#7a1a28" stroke-opacity="0.75" stroke-width="0.5"/>
<circle cx="464.13" cy="275.97" r="1.80" fill="#a81828" fill-opacity="0.55" stroke="#7a1a28" stroke-opacity="0.75" stroke-width="0.5"/>
<circle cx="461.11" cy="273.19" r="1.80" fill="#a81828" fill-opacity="0.55" stroke="#7a1a28" stroke-opacity="0.75" stroke-width="0.5"/>
<circle cx="463.52" cy="276.46" r="1.80" fill="#a81828" fill-opacity="0.55" stroke="#7a1a28" stroke-opacity="0.75" stroke-width="0.5"/>
<circle cx="474.28" cy="252.86" r="1.80" fill="#a81828" fill-opacity="0.55" stroke="#7a1a28" stroke-opacity="0.75" stroke-width="0.5"/>
<circle cx="462.16" cy="258.43" r="1.80" fill="#a81828" fill-opacity="0.55" stroke="#7a1a28" stroke-opacity="0.75" stroke-width="0.5"/>
<circle cx="458.12" cy="267.17" r="1.80" fill="#a81828" fill-opacity="0.55" stroke="#7a1a28" stroke-opacity="0.75" stroke-width="0.5"/>
<circle cx="460.14" cy="267.97" r="1.80" fill="#a81828" fill-opacity="0.55" stroke="#7a1a28" stroke-opacity="0.75" stroke-width="0.5"/>
<circle cx="469.23" cy="273.53" r="1.80" fill="#a81828" fill-opacity="0.55" stroke="#7a1a28" stroke-opacity="0.75" stroke-width="0.5"/>
<circle cx="472.26" cy="274.32" r="1.80" fill="#a81828" fill-opacity="0.55" stroke="#7a1a28" stroke-opacity="0.75" stroke-width="0.5"/>
<circle cx="465.19" cy="271.15" r="1.80" fill="#a81828" fill-opacity="0.55" stroke="#7a1a28" stroke-opacity="0.75" stroke-width="0.5"/>
<line x1="379.50" y1="228.00" x2="379.50" y2="281.00" stroke="#222" stroke-width="1.1" />
<line x1="378.70" y1="280.50" x2="511.00" y2="280.50" stroke="#222" stroke-width="1.1" />
<rect x="97.5" y="328.3" width="160.5" height="219.2" fill="none" stroke="#222" stroke-width="1.1"/>
<line x1="94.50" y1="334.50" x2="97.50" y2="334.50" stroke="#222" stroke-width="0.9" />
<text x="91.50" y="337.12" font-size="7.6" text-anchor="end" fill="#2a2a2a" stroke="#2a2a2a" stroke-width="0.1" font-weight="normal" font-style="normal" textLength="28.0" lengthAdjust="spacingAndGlyphs" >EIF4E_UP</text>
<line x1="94.50" y1="345.50" x2="97.50" y2="345.50" stroke="#222" stroke-width="0.9" />
<text x="91.50" y="348.58" font-size="7.6" text-anchor="end" fill="#2a2a2a" stroke="#2a2a2a" stroke-width="0.1" font-weight="normal" font-style="normal" textLength="45.7" lengthAdjust="spacingAndGlyphs" >MYC_UP.V1_UP</text>
<line x1="94.50" y1="357.50" x2="97.50" y2="357.50" stroke="#222" stroke-width="0.9" />
<text x="91.50" y="360.04" font-size="7.6" text-anchor="end" fill="#2a2a2a" stroke="#2a2a2a" stroke-width="0.1" font-weight="normal" font-style="normal" textLength="64.6" lengthAdjust="spacingAndGlyphs" >PRC2_EED_UP.V1_DN</text>
<line x1="94.50" y1="368.50" x2="97.50" y2="368.50" stroke="#222" stroke-width="0.9" />
<text x="91.50" y="371.50" font-size="7.6" text-anchor="end" fill="#2a2a2a" stroke="#2a2a2a" stroke-width="0.1" font-weight="normal" font-style="normal" textLength="39.6" lengthAdjust="spacingAndGlyphs" >IL2_UP.V1_UP</text>
<line x1="94.50" y1="380.50" x2="97.50" y2="380.50" stroke="#222" stroke-width="0.9" />
<text x="91.50" y="382.96" font-size="7.6" text-anchor="end" fill="#2a2a2a" stroke="#2a2a2a" stroke-width="0.1" font-weight="normal" font-style="normal" textLength="61.1" lengthAdjust="spacingAndGlyphs" >RB_P107_DN.V1_DN</text>
<line x1="94.50" y1="391.50" x2="97.50" y2="391.50" stroke="#222" stroke-width="0.9" />
<text x="91.50" y="394.42" font-size="7.6" text-anchor="end" fill="#2a2a2a" stroke="#2a2a2a" stroke-width="0.1" font-weight="normal" font-style="normal" textLength="45.3" lengthAdjust="spacingAndGlyphs" >P53_DN.V2_UP</text>
<line x1="94.50" y1="403.50" x2="97.50" y2="403.50" stroke="#222" stroke-width="0.9" />
<text x="91.50" y="405.88" font-size="7.6" text-anchor="end" fill="#2a2a2a" stroke="#2a2a2a" stroke-width="0.1" font-weight="normal" font-style="normal" textLength="78.4" lengthAdjust="spacingAndGlyphs" >ESC_V6.5_UP_LATE.V1_UP</text>
<line x1="94.50" y1="414.50" x2="97.50" y2="414.50" stroke="#222" stroke-width="0.9" />
<text x="91.50" y="417.34" font-size="7.6" text-anchor="end" fill="#2a2a2a" stroke="#2a2a2a" stroke-width="0.1" font-weight="normal" font-style="normal" textLength="45.7" lengthAdjust="spacingAndGlyphs" >E2F3_UP.V1_UP</text>
<line x1="94.50" y1="426.50" x2="97.50" y2="426.50" stroke="#222" stroke-width="0.9" />
<text x="91.50" y="428.80" font-size="7.6" text-anchor="end" fill="#2a2a2a" stroke="#2a2a2a" stroke-width="0.1" font-weight="normal" font-style="normal" textLength="62.7" lengthAdjust="spacingAndGlyphs" >CSR_LATE_UP.V1_DN</text>
<line x1="94.50" y1="437.50" x2="97.50" y2="437.50" stroke="#222" stroke-width="0.9" />
<text x="91.50" y="440.26" font-size="7.6" text-anchor="end" fill="#2a2a2a" stroke="#2a2a2a" stroke-width="0.1" font-weight="normal" font-style="normal" textLength="73.8" lengthAdjust="spacingAndGlyphs" >KRAS.KIDNEY_UP.V1_DN</text>
<line x1="94.50" y1="449.50" x2="97.50" y2="449.50" stroke="#222" stroke-width="0.9" />
<text x="91.50" y="451.72" font-size="7.6" text-anchor="end" fill="#2a2a2a" stroke="#2a2a2a" stroke-width="0.1" font-weight="normal" font-style="normal" textLength="47.7" lengthAdjust="spacingAndGlyphs" >CTIP_DN.V1_UP</text>
<line x1="94.50" y1="460.50" x2="97.50" y2="460.50" stroke="#222" stroke-width="0.9" />
<text x="91.50" y="463.18" font-size="7.6" text-anchor="end" fill="#2a2a2a" stroke="#2a2a2a" stroke-width="0.1" font-weight="normal" font-style="normal" textLength="43.8" lengthAdjust="spacingAndGlyphs" >IL15_UP.V1_UP</text>
<line x1="94.50" y1="472.50" x2="97.50" y2="472.50" stroke="#222" stroke-width="0.9" />
<text x="91.50" y="474.64" font-size="7.6" text-anchor="end" fill="#2a2a2a" stroke="#2a2a2a" stroke-width="0.1" font-weight="normal" font-style="normal" textLength="57.8" lengthAdjust="spacingAndGlyphs" >HOXA9_DN.V1_DN</text>
<line x1="94.50" y1="483.50" x2="97.50" y2="483.50" stroke="#222" stroke-width="0.9" />
<text x="91.50" y="486.10" font-size="7.6" text-anchor="end" fill="#2a2a2a" stroke="#2a2a2a" stroke-width="0.1" font-weight="normal" font-style="normal" textLength="60.7" lengthAdjust="spacingAndGlyphs" >MTOR_UP.N4.V1_UP</text>
<line x1="94.50" y1="494.50" x2="97.50" y2="494.50" stroke="#222" stroke-width="0.9" />
<text x="91.50" y="497.56" font-size="7.6" text-anchor="end" fill="#2a2a2a" stroke="#2a2a2a" stroke-width="0.1" font-weight="normal" font-style="normal" textLength="45.7" lengthAdjust="spacingAndGlyphs" >LEF1_UP.V1_UP</text>
<line x1="94.50" y1="506.50" x2="97.50" y2="506.50" stroke="#222" stroke-width="0.9" />
<text x="91.50" y="509.02" font-size="7.6" text-anchor="end" fill="#2a2a2a" stroke="#2a2a2a" stroke-width="0.1" font-weight="normal" font-style="normal" textLength="48.2" lengthAdjust="spacingAndGlyphs" >STK33_SKM_DN</text>
<line x1="94.50" y1="517.50" x2="97.50" y2="517.50" stroke="#222" stroke-width="0.9" />
<text x="91.50" y="520.48" font-size="7.6" text-anchor="end" fill="#2a2a2a" stroke="#2a2a2a" stroke-width="0.1" font-weight="normal" font-style="normal" textLength="31.5" lengthAdjust="spacingAndGlyphs" >STK33_DN</text>
<line x1="94.50" y1="529.50" x2="97.50" y2="529.50" stroke="#222" stroke-width="0.9" />
<text x="91.50" y="531.94" font-size="7.6" text-anchor="end" fill="#2a2a2a" stroke="#2a2a2a" stroke-width="0.1" font-weight="normal" font-style="normal" textLength="56.3" lengthAdjust="spacingAndGlyphs" >STK33_NOMO_DN</text>
<line x1="94.50" y1="540.50" x2="97.50" y2="540.50" stroke="#222" stroke-width="0.9" />
<text x="91.50" y="543.40" font-size="7.6" text-anchor="end" fill="#2a2a2a" stroke="#2a2a2a" stroke-width="0.1" font-weight="normal" font-style="normal" textLength="51.5" lengthAdjust="spacingAndGlyphs" >PTEN_DN.V1_DN</text>
<line x1="127.50" y1="547.50" x2="127.50" y2="550.50" stroke="#222" stroke-width="0.9" />
<text x="127.50" y="559.17" font-size="6.3" text-anchor="middle" fill="#333" stroke="#333" stroke-width="0.08" font-weight="normal" font-style="normal" >K6-KO</text>
<line x1="178.50" y1="547.50" x2="178.50" y2="550.50" stroke="#222" stroke-width="0.9" />
<text x="178.00" y="559.17" font-size="6.3" text-anchor="middle" fill="#333" stroke="#333" stroke-width="0.08" font-weight="normal" font-style="normal" >DKO</text>
<line x1="228.50" y1="547.50" x2="228.50" y2="550.50" stroke="#222" stroke-width="0.9" />
<text x="228.30" y="559.17" font-size="6.3" text-anchor="middle" fill="#333" stroke="#333" stroke-width="0.08" font-weight="normal" font-style="normal" >N2-KO</text>
<circle cx="127.50" cy="334.50" r="4.60" fill="#f0608a" fill-opacity="0.85" stroke="#b84a70" stroke-opacity="0.75" stroke-width="0.6"/>
<circle cx="127.50" cy="345.96" r="8.40" fill="#f0608a" fill-opacity="0.85" stroke="#b84a70" stroke-opacity="0.75" stroke-width="0.6"/>
<circle cx="127.50" cy="357.42" r="2.70" fill="#f0608a" fill-opacity="0.85" stroke="#b84a70" stroke-opacity="0.75" stroke-width="0.6"/>
<circle cx="127.50" cy="368.88" r="1.40" fill="#f0608a" fill-opacity="0.85" stroke="#b84a70" stroke-opacity="0.75" stroke-width="0.6"/>
<circle cx="127.50" cy="380.34" r="5.60" fill="#f0608a" fill-opacity="0.85" stroke="#b84a70" stroke-opacity="0.75" stroke-width="0.6"/>
<circle cx="127.50" cy="391.80" r="1.40" fill="#f0608a" fill-opacity="0.85" stroke="#b84a70" stroke-opacity="0.75" stroke-width="0.6"/>
<circle cx="127.50" cy="403.26" r="1.40" fill="#f0608a" fill-opacity="0.85" stroke="#b84a70" stroke-opacity="0.75" stroke-width="0.6"/>
<circle cx="127.50" cy="414.72" r="8.40" fill="#f0608a" fill-opacity="0.85" stroke="#b84a70" stroke-opacity="0.75" stroke-width="0.6"/>
<circle cx="127.50" cy="426.18" r="1.80" fill="#f0608a" fill-opacity="0.85" stroke="#b84a70" stroke-opacity="0.75" stroke-width="0.6"/>
<circle cx="127.50" cy="437.64" r="1.80" fill="#f0608a" fill-opacity="0.85" stroke="#b84a70" stroke-opacity="0.75" stroke-width="0.6"/>
<circle cx="127.50" cy="449.10" r="1.90" fill="#f0608a" fill-opacity="0.85" stroke="#b84a70" stroke-opacity="0.75" stroke-width="0.6"/>
<circle cx="127.50" cy="460.56" r="4.10" fill="#f0608a" fill-opacity="0.85" stroke="#b84a70" stroke-opacity="0.75" stroke-width="0.6"/>
<circle cx="127.50" cy="472.02" r="6.60" fill="#f0608a" fill-opacity="0.85" stroke="#b84a70" stroke-opacity="0.75" stroke-width="0.6"/>
<circle cx="127.50" cy="483.48" r="3.90" fill="#f0608a" fill-opacity="0.85" stroke="#b84a70" stroke-opacity="0.75" stroke-width="0.6"/>
<circle cx="127.50" cy="494.94" r="1.50" fill="#f0608a" fill-opacity="0.85" stroke="#b84a70" stroke-opacity="0.75" stroke-width="0.6"/>
<circle cx="127.50" cy="506.40" r="1.50" fill="#f0608a" fill-opacity="0.85" stroke="#b84a70" stroke-opacity="0.75" stroke-width="0.6"/>
<circle cx="127.50" cy="517.86" r="1.50" fill="#f0608a" fill-opacity="0.85" stroke="#b84a70" stroke-opacity="0.75" stroke-width="0.6"/>
<circle cx="127.50" cy="529.32" r="2.60" fill="#f0608a" fill-opacity="0.85" stroke="#b84a70" stroke-opacity="0.75" stroke-width="0.6"/>
<circle cx="127.50" cy="540.78" r="3.10" fill="#f0608a" fill-opacity="0.85" stroke="#b84a70" stroke-opacity="0.75" stroke-width="0.6"/>
<circle cx="178.00" cy="357.42" r="3.10" fill="#f0608a" fill-opacity="0.85" stroke="#b84a70" stroke-opacity="0.75" stroke-width="0.6"/>
<circle cx="178.00" cy="414.72" r="6.60" fill="#f0608a" fill-opacity="0.85" stroke="#b84a70" stroke-opacity="0.75" stroke-width="0.6"/>
<circle cx="178.00" cy="460.56" r="1.20" fill="#f0608a" fill-opacity="0.85" stroke="#b84a70" stroke-opacity="0.75" stroke-width="0.6"/>
<circle cx="178.00" cy="472.02" r="3.60" fill="#f0608a" fill-opacity="0.85" stroke="#b84a70" stroke-opacity="0.75" stroke-width="0.6"/>
<circle cx="178.00" cy="483.48" r="1.20" fill="#f0608a" fill-opacity="0.85" stroke="#b84a70" stroke-opacity="0.75" stroke-width="0.6"/>
<circle cx="178.00" cy="494.94" r="1.20" fill="#f0608a" fill-opacity="0.85" stroke="#b84a70" stroke-opacity="0.75" stroke-width="0.6"/>
<circle cx="178.00" cy="506.40" r="7.10" fill="#f0608a" fill-opacity="0.85" stroke="#b84a70" stroke-opacity="0.75" stroke-width="0.6"/>
<circle cx="178.00" cy="517.86" r="7.60" fill="#f0608a" fill-opacity="0.85" stroke="#b84a70" stroke-opacity="0.75" stroke-width="0.6"/>
<circle cx="178.00" cy="529.32" r="3.60" fill="#f0608a" fill-opacity="0.85" stroke="#b84a70" stroke-opacity="0.75" stroke-width="0.6"/>
<circle cx="178.00" cy="540.78" r="7.60" fill="#f0608a" fill-opacity="0.85" stroke="#b84a70" stroke-opacity="0.75" stroke-width="0.6"/>
<circle cx="228.30" cy="380.34" r="1.60" fill="#f0608a" fill-opacity="0.85" stroke="#b84a70" stroke-opacity="0.75" stroke-width="0.6"/>
<circle cx="228.30" cy="403.26" r="0.50" fill="#f0608a" fill-opacity="0.85" stroke="#b84a70" stroke-opacity="0.75" stroke-width="0.6"/>
<circle cx="228.30" cy="483.48" r="1.60" fill="#f0608a" fill-opacity="0.85" stroke="#b84a70" stroke-opacity="0.75" stroke-width="0.6"/>
<circle cx="228.30" cy="494.94" r="6.60" fill="#a868c0" fill-opacity="0.85" stroke="#8a4aa0" stroke-opacity="0.75" stroke-width="0.6"/>
<circle cx="228.30" cy="506.40" r="2.60" fill="#f0608a" fill-opacity="0.85" stroke="#b84a70" stroke-opacity="0.75" stroke-width="0.6"/>
<circle cx="228.30" cy="517.86" r="5.10" fill="#f0608a" fill-opacity="0.85" stroke="#b84a70" stroke-opacity="0.75" stroke-width="0.6"/>
<circle cx="228.30" cy="529.32" r="5.10" fill="#e84a7a" fill-opacity="0.85" stroke="#b83a60" stroke-opacity="0.75" stroke-width="0.6"/>
<circle cx="228.30" cy="540.78" r="5.60" fill="#f0608a" fill-opacity="0.85" stroke="#b84a70" stroke-opacity="0.75" stroke-width="0.6"/>
<defs><linearGradient id="nes" x1="0" y1="0" x2="0" y2="1"><stop offset="0" stop-color="#ee0a22"/><stop offset="0.35" stop-color="#e00a6a"/><stop offset="0.55" stop-color="#b01890"/><stop offset="1" stop-color="#3a2a90"/></linearGradient><linearGradient id="zs" x1="0" y1="0" x2="0" y2="1"><stop offset="0" stop-color="#b8102a"/><stop offset="0.1477" stop-color="#d85050"/><stop offset="0.3254" stop-color="#f4a58a"/><stop offset="0.5031" stop-color="#f2eeee"/><stop offset="0.6808" stop-color="#a8cce4"/><stop offset="0.8585" stop-color="#4a90c4"/><stop offset="1" stop-color="#2a6fb0"/></linearGradient></defs>
<text x="268.80" y="373.97" font-size="6.3" text-anchor="middle" fill="#333" stroke="#333" stroke-width="0.08" font-weight="normal" font-style="normal" >NES</text>
<rect x="263.80" y="376.20" width="12.50" height="65.50" fill="url(#nes)" />
<text x="279.50" y="378.60" font-size="6.1" text-anchor="start" fill="#333" stroke="#333" stroke-width="0.08" font-weight="normal" font-style="normal" >3</text>
<text x="279.50" y="389.40" font-size="6.1" text-anchor="start" fill="#333" stroke="#333" stroke-width="0.08" font-weight="normal" font-style="normal" >2</text>
<text x="279.50" y="400.20" font-size="6.1" text-anchor="start" fill="#333" stroke="#333" stroke-width="0.08" font-weight="normal" font-style="normal" >1</text>
<text x="279.50" y="411.00" font-size="6.1" text-anchor="start" fill="#333" stroke="#333" stroke-width="0.08" font-weight="normal" font-style="normal" >0</text>
<text x="279.50" y="421.80" font-size="6.1" text-anchor="start" fill="#333" stroke="#333" stroke-width="0.08" font-weight="normal" font-style="normal" >−1</text>
<text x="279.50" y="432.60" font-size="6.1" text-anchor="start" fill="#333" stroke="#333" stroke-width="0.08" font-weight="normal" font-style="normal" >−2</text>
<text x="279.50" y="443.40" font-size="6.1" text-anchor="start" fill="#333" stroke="#333" stroke-width="0.08" font-weight="normal" font-style="normal" >−3</text>
<text x="275.70" y="462.35" font-size="6.8" text-anchor="middle" fill="#333" stroke="#333" stroke-width="0.08" font-weight="normal" font-style="normal" textLength="15" lengthAdjust="spacingAndGlyphs" >−log<tspan font-size="4.4" dy="1.3">10</tspan></text>
<text x="275.70" y="469.65" font-size="6.8" text-anchor="middle" fill="#333" stroke="#333" stroke-width="0.08" font-weight="normal" font-style="normal" textLength="19.5" lengthAdjust="spacingAndGlyphs" >(<tspan font-style="italic">P</tspan> value)</text>
<circle cx="271.30" cy="475.00" r="0.50" fill="#777" fill-opacity="0.9" />
<text x="283.00" y="477.10" font-size="6.1" text-anchor="start" fill="#333" stroke="#333" stroke-width="0.08" font-weight="normal" font-style="normal" >1</text>
<circle cx="271.30" cy="489.30" r="3.50" fill="#777" fill-opacity="0.9" />
<text x="283.00" y="491.40" font-size="6.1" text-anchor="start" fill="#333" stroke="#333" stroke-width="0.08" font-weight="normal" font-style="normal" >2</text>
<circle cx="271.30" cy="503.30" r="6.50" fill="#777" fill-opacity="0.9" />
<text x="283.00" y="505.40" font-size="6.1" text-anchor="start" fill="#333" stroke="#333" stroke-width="0.08" font-weight="normal" font-style="normal" >3</text>
<rect x="316.80" y="367.00" width="10.44" height="5.27" fill="rgb(163,201,226)" />
<rect x="327.19" y="367.00" width="10.44" height="5.27" fill="rgb(242,221,215)" />
<rect x="337.58" y="367.00" width="10.44" height="5.27" fill="rgb(218,227,234)" />
<rect x="347.97" y="367.00" width="10.44" height="5.27" fill="rgb(218,227,234)" />
<rect x="358.36" y="367.00" width="10.44" height="5.27" fill="rgb(226,230,235)" />
<rect x="368.75" y="367.00" width="10.44" height="5.27" fill="rgb(243,162,135)" />
<rect x="379.14" y="367.00" width="10.44" height="5.27" fill="rgb(243,162,135)" />
<rect x="389.53" y="367.00" width="10.44" height="5.27" fill="rgb(218,227,234)" />
<rect x="399.92" y="367.00" width="10.44" height="5.27" fill="rgb(242,212,203)" />
<rect x="410.31" y="367.00" width="10.44" height="5.27" fill="rgb(172,205,228)" />
<rect x="420.70" y="367.00" width="10.44" height="5.27" fill="rgb(213,74,76)" />
<rect x="431.09" y="367.00" width="10.44" height="5.27" fill="rgb(195,216,231)" />
<rect x="316.80" y="372.22" width="10.44" height="5.27" fill="rgb(242,212,203)" />
<rect x="327.19" y="372.22" width="10.44" height="5.27" fill="rgb(226,230,235)" />
<rect x="337.58" y="372.22" width="10.44" height="5.27" fill="rgb(218,227,234)" />
<rect x="347.97" y="372.22" width="10.44" height="5.27" fill="rgb(220,93,89)" />
<rect x="358.36" y="372.22" width="10.44" height="5.27" fill="rgb(220,93,89)" />
<rect x="368.75" y="372.22" width="10.44" height="5.27" fill="rgb(239,152,129)" />
<rect x="379.14" y="372.22" width="10.44" height="5.27" fill="rgb(218,227,234)" />
<rect x="389.53" y="372.22" width="10.44" height="5.27" fill="rgb(172,205,228)" />
<rect x="399.92" y="372.22" width="10.44" height="5.27" fill="rgb(218,227,234)" />
<rect x="410.31" y="372.22" width="10.44" height="5.27" fill="rgb(210,223,233)" />
<rect x="420.70" y="372.22" width="10.44" height="5.27" fill="rgb(218,227,234)" />
<rect x="431.09" y="372.22" width="10.44" height="5.27" fill="rgb(195,216,231)" />
<rect x="316.80" y="377.44" width="10.44" height="5.27" fill="rgb(56,126,185)" />
<rect x="327.19" y="377.44" width="10.44" height="5.27" fill="rgb(226,230,235)" />
<rect x="337.58" y="377.44" width="10.44" height="5.27" fill="rgb(203,220,232)" />
<rect x="347.97" y="377.44" width="10.44" height="5.27" fill="rgb(242,212,203)" />
<rect x="358.36" y="377.44" width="10.44" height="5.27" fill="rgb(242,204,192)" />
<rect x="368.75" y="377.44" width="10.44" height="5.27" fill="rgb(243,162,135)" />
<rect x="379.14" y="377.44" width="10.44" height="5.27" fill="rgb(242,212,203)" />
<rect x="389.53" y="377.44" width="10.44" height="5.27" fill="rgb(242,212,203)" />
<rect x="399.92" y="377.44" width="10.44" height="5.27" fill="rgb(239,152,129)" />
<rect x="410.31" y="377.44" width="10.44" height="5.27" fill="rgb(210,223,233)" />
<rect x="420.70" y="377.44" width="10.44" height="5.27" fill="rgb(243,196,180)" />
<rect x="431.09" y="377.44" width="10.44" height="5.27" fill="rgb(195,216,231)" />
<rect x="316.80" y="382.66" width="10.44" height="5.27" fill="rgb(84,150,199)" />
<rect x="327.19" y="382.66" width="10.44" height="5.27" fill="rgb(163,201,226)" />
<rect x="337.58" y="382.66" width="10.44" height="5.27" fill="rgb(179,209,229)" />
<rect x="347.97" y="382.66" width="10.44" height="5.27" fill="rgb(242,229,226)" />
<rect x="358.36" y="382.66" width="10.44" height="5.27" fill="rgb(243,170,146)" />
<rect x="368.75" y="382.66" width="10.44" height="5.27" fill="rgb(243,162,135)" />
<rect x="379.14" y="382.66" width="10.44" height="5.27" fill="rgb(243,162,135)" />
<rect x="389.53" y="382.66" width="10.44" height="5.27" fill="rgb(243,162,135)" />
<rect x="399.92" y="382.66" width="10.44" height="5.27" fill="rgb(242,221,215)" />
<rect x="410.31" y="382.66" width="10.44" height="5.27" fill="rgb(203,220,232)" />
<rect x="420.70" y="382.66" width="10.44" height="5.27" fill="rgb(218,227,234)" />
<rect x="431.09" y="382.66" width="10.44" height="5.27" fill="rgb(242,221,215)" />
<rect x="316.80" y="387.88" width="10.44" height="5.27" fill="rgb(48,117,179)" />
<rect x="327.19" y="387.88" width="10.44" height="5.27" fill="rgb(242,212,203)" />
<rect x="337.58" y="387.88" width="10.44" height="5.27" fill="rgb(226,230,235)" />
<rect x="347.97" y="387.88" width="10.44" height="5.27" fill="rgb(242,204,192)" />
<rect x="358.36" y="387.88" width="10.44" height="5.27" fill="rgb(242,212,203)" />
<rect x="368.75" y="387.88" width="10.44" height="5.27" fill="rgb(243,170,146)" />
<rect x="379.14" y="387.88" width="10.44" height="5.27" fill="rgb(218,227,234)" />
<rect x="389.53" y="387.88" width="10.44" height="5.27" fill="rgb(234,234,236)" />
<rect x="399.92" y="387.88" width="10.44" height="5.27" fill="rgb(226,230,235)" />
<rect x="410.31" y="387.88" width="10.44" height="5.27" fill="rgb(239,152,129)" />
<rect x="420.70" y="387.88" width="10.44" height="5.27" fill="rgb(226,230,235)" />
<rect x="431.09" y="387.88" width="10.44" height="5.27" fill="rgb(242,212,203)" />
<rect x="316.80" y="393.10" width="10.44" height="5.27" fill="rgb(210,223,233)" />
<rect x="327.19" y="393.10" width="10.44" height="5.27" fill="rgb(163,201,226)" />
<rect x="337.58" y="393.10" width="10.44" height="5.27" fill="rgb(143,188,219)" />
<rect x="347.97" y="393.10" width="10.44" height="5.27" fill="rgb(243,179,157)" />
<rect x="358.36" y="393.10" width="10.44" height="5.27" fill="rgb(243,179,157)" />
<rect x="368.75" y="393.10" width="10.44" height="5.27" fill="rgb(233,132,115)" />
<rect x="379.14" y="393.10" width="10.44" height="5.27" fill="rgb(242,204,192)" />
<rect x="389.53" y="393.10" width="10.44" height="5.27" fill="rgb(226,230,235)" />
<rect x="399.92" y="393.10" width="10.44" height="5.27" fill="rgb(243,187,169)" />
<rect x="410.31" y="393.10" width="10.44" height="5.27" fill="rgb(210,223,233)" />
<rect x="420.70" y="393.10" width="10.44" height="5.27" fill="rgb(239,152,129)" />
<rect x="431.09" y="393.10" width="10.44" height="5.27" fill="rgb(218,227,234)" />
<rect x="316.80" y="398.32" width="10.44" height="5.27" fill="rgb(242,221,215)" />
<rect x="327.19" y="398.32" width="10.44" height="5.27" fill="rgb(179,209,229)" />
<rect x="337.58" y="398.32" width="10.44" height="5.27" fill="rgb(153,194,223)" />
<rect x="347.97" y="398.32" width="10.44" height="5.27" fill="rgb(243,196,180)" />
<rect x="358.36" y="398.32" width="10.44" height="5.27" fill="rgb(242,229,226)" />
<rect x="368.75" y="398.32" width="10.44" height="5.27" fill="rgb(243,162,135)" />
<rect x="379.14" y="398.32" width="10.44" height="5.27" fill="rgb(243,162,135)" />
<rect x="389.53" y="398.32" width="10.44" height="5.27" fill="rgb(226,230,235)" />
<rect x="399.92" y="398.32" width="10.44" height="5.27" fill="rgb(243,170,146)" />
<rect x="410.31" y="398.32" width="10.44" height="5.27" fill="rgb(179,209,229)" />
<rect x="420.70" y="398.32" width="10.44" height="5.27" fill="rgb(239,152,129)" />
<rect x="431.09" y="398.32" width="10.44" height="5.27" fill="rgb(133,182,216)" />
<rect x="316.80" y="403.54" width="10.44" height="5.27" fill="rgb(230,122,109)" />
<rect x="327.19" y="403.54" width="10.44" height="5.27" fill="rgb(234,234,236)" />
<rect x="337.58" y="403.54" width="10.44" height="5.27" fill="rgb(179,209,229)" />
<rect x="347.97" y="403.54" width="10.44" height="5.27" fill="rgb(242,212,203)" />
<rect x="358.36" y="403.54" width="10.44" height="5.27" fill="rgb(196,40,56)" />
<rect x="368.75" y="403.54" width="10.44" height="5.27" fill="rgb(243,170,146)" />
<rect x="379.14" y="403.54" width="10.44" height="5.27" fill="rgb(195,216,231)" />
<rect x="389.53" y="403.54" width="10.44" height="5.27" fill="rgb(195,216,231)" />
<rect x="399.92" y="403.54" width="10.44" height="5.27" fill="rgb(195,216,231)" />
<rect x="410.31" y="403.54" width="10.44" height="5.27" fill="rgb(203,220,232)" />
<rect x="420.70" y="403.54" width="10.44" height="5.27" fill="rgb(234,234,236)" />
<rect x="431.09" y="403.54" width="10.44" height="5.27" fill="rgb(203,220,232)" />
<rect x="316.80" y="408.76" width="10.44" height="5.27" fill="rgb(179,209,229)" />
<rect x="327.19" y="408.76" width="10.44" height="5.27" fill="rgb(163,201,226)" />
<rect x="337.58" y="408.76" width="10.44" height="5.27" fill="rgb(163,201,226)" />
<rect x="347.97" y="408.76" width="10.44" height="5.27" fill="rgb(242,229,226)" />
<rect x="358.36" y="408.76" width="10.44" height="5.27" fill="rgb(218,227,234)" />
<rect x="368.75" y="408.76" width="10.44" height="5.27" fill="rgb(243,170,146)" />
<rect x="379.14" y="408.76" width="10.44" height="5.27" fill="rgb(243,187,169)" />
<rect x="389.53" y="408.76" width="10.44" height="5.27" fill="rgb(243,196,180)" />
<rect x="399.92" y="408.76" width="10.44" height="5.27" fill="rgb(243,187,169)" />
<rect x="410.31" y="408.76" width="10.44" height="5.27" fill="rgb(218,227,234)" />
<rect x="420.70" y="408.76" width="10.44" height="5.27" fill="rgb(196,40,56)" />
<rect x="431.09" y="408.76" width="10.44" height="5.27" fill="rgb(242,229,226)" />
<rect x="316.80" y="413.98" width="10.44" height="5.27" fill="rgb(187,213,230)" />
<rect x="327.19" y="413.98" width="10.44" height="5.27" fill="rgb(234,234,236)" />
<rect x="337.58" y="413.98" width="10.44" height="5.27" fill="rgb(163,201,226)" />
<rect x="347.97" y="413.98" width="10.44" height="5.27" fill="rgb(243,170,146)" />
<rect x="358.36" y="413.98" width="10.44" height="5.27" fill="rgb(220,93,89)" />
<rect x="368.75" y="413.98" width="10.44" height="5.27" fill="rgb(233,132,115)" />
<rect x="379.14" y="413.98" width="10.44" height="5.27" fill="rgb(179,209,229)" />
<rect x="389.53" y="413.98" width="10.44" height="5.27" fill="rgb(226,230,235)" />
<rect x="399.92" y="413.98" width="10.44" height="5.27" fill="rgb(172,205,228)" />
<rect x="410.31" y="413.98" width="10.44" height="5.27" fill="rgb(242,238,238)" />
<rect x="420.70" y="413.98" width="10.44" height="5.27" fill="rgb(242,212,203)" />
<rect x="431.09" y="413.98" width="10.44" height="5.27" fill="rgb(242,204,192)" />
<rect x="316.80" y="419.20" width="10.44" height="5.27" fill="rgb(218,227,234)" />
<rect x="327.19" y="419.20" width="10.44" height="5.27" fill="rgb(234,234,236)" />
<rect x="337.58" y="419.20" width="10.44" height="5.27" fill="rgb(179,209,229)" />
<rect x="347.97" y="419.20" width="10.44" height="5.27" fill="rgb(233,132,115)" />
<rect x="358.36" y="419.20" width="10.44" height="5.27" fill="rgb(236,142,122)" />
<rect x="368.75" y="419.20" width="10.44" height="5.27" fill="rgb(233,132,115)" />
<rect x="379.14" y="419.20" width="10.44" height="5.27" fill="rgb(179,209,229)" />
<rect x="389.53" y="419.20" width="10.44" height="5.27" fill="rgb(104,163,206)" />
<rect x="399.92" y="419.20" width="10.44" height="5.27" fill="rgb(242,229,226)" />
<rect x="410.31" y="419.20" width="10.44" height="5.27" fill="rgb(242,238,238)" />
<rect x="420.70" y="419.20" width="10.44" height="5.27" fill="rgb(242,221,215)" />
<rect x="431.09" y="419.20" width="10.44" height="5.27" fill="rgb(243,187,169)" />
<rect x="316.80" y="424.42" width="10.44" height="5.27" fill="rgb(163,201,226)" />
<rect x="327.19" y="424.42" width="10.44" height="5.27" fill="rgb(234,234,236)" />
<rect x="337.58" y="424.42" width="10.44" height="5.27" fill="rgb(210,223,233)" />
<rect x="347.97" y="424.42" width="10.44" height="5.27" fill="rgb(243,187,169)" />
<rect x="358.36" y="424.42" width="10.44" height="5.27" fill="rgb(209,66,71)" />
<rect x="368.75" y="424.42" width="10.44" height="5.27" fill="rgb(239,152,129)" />
<rect x="379.14" y="424.42" width="10.44" height="5.27" fill="rgb(187,213,230)" />
<rect x="389.53" y="424.42" width="10.44" height="5.27" fill="rgb(195,216,231)" />
<rect x="399.92" y="424.42" width="10.44" height="5.27" fill="rgb(187,213,230)" />
<rect x="410.31" y="424.42" width="10.44" height="5.27" fill="rgb(226,230,235)" />
<rect x="420.70" y="424.42" width="10.44" height="5.27" fill="rgb(242,204,192)" />
<rect x="431.09" y="424.42" width="10.44" height="5.27" fill="rgb(243,170,146)" />
<rect x="316.80" y="429.64" width="10.44" height="5.27" fill="rgb(242,238,238)" />
<rect x="327.19" y="429.64" width="10.44" height="5.27" fill="rgb(234,234,236)" />
<rect x="337.58" y="429.64" width="10.44" height="5.27" fill="rgb(226,230,235)" />
<rect x="347.97" y="429.64" width="10.44" height="5.27" fill="rgb(243,196,180)" />
<rect x="358.36" y="429.64" width="10.44" height="5.27" fill="rgb(243,162,135)" />
<rect x="368.75" y="429.64" width="10.44" height="5.27" fill="rgb(233,132,115)" />
<rect x="379.14" y="429.64" width="10.44" height="5.27" fill="rgb(113,169,209)" />
<rect x="389.53" y="429.64" width="10.44" height="5.27" fill="rgb(226,230,235)" />
<rect x="399.92" y="429.64" width="10.44" height="5.27" fill="rgb(242,212,203)" />
<rect x="410.31" y="429.64" width="10.44" height="5.27" fill="rgb(179,209,229)" />
<rect x="420.70" y="429.64" width="10.44" height="5.27" fill="rgb(243,196,180)" />
<rect x="431.09" y="429.64" width="10.44" height="5.27" fill="rgb(218,227,234)" />
<rect x="316.80" y="434.86" width="10.44" height="5.27" fill="rgb(56,126,185)" />
<rect x="327.19" y="434.86" width="10.44" height="5.27" fill="rgb(242,229,226)" />
<rect x="337.58" y="434.86" width="10.44" height="5.27" fill="rgb(242,221,215)" />
<rect x="347.97" y="434.86" width="10.44" height="5.27" fill="rgb(243,187,169)" />
<rect x="358.36" y="434.86" width="10.44" height="5.27" fill="rgb(243,170,146)" />
<rect x="368.75" y="434.86" width="10.44" height="5.27" fill="rgb(243,187,169)" />
<rect x="379.14" y="434.86" width="10.44" height="5.27" fill="rgb(242,212,203)" />
<rect x="389.53" y="434.86" width="10.44" height="5.27" fill="rgb(226,230,235)" />
<rect x="399.92" y="434.86" width="10.44" height="5.27" fill="rgb(242,221,215)" />
<rect x="410.31" y="434.86" width="10.44" height="5.27" fill="rgb(234,234,236)" />
<rect x="420.70" y="434.86" width="10.44" height="5.27" fill="rgb(243,170,146)" />
<rect x="431.09" y="434.86" width="10.44" height="5.27" fill="rgb(226,230,235)" />
<rect x="316.80" y="440.08" width="10.44" height="5.27" fill="rgb(69,139,193)" />
<rect x="327.19" y="440.08" width="10.44" height="5.27" fill="rgb(218,227,234)" />
<rect x="337.58" y="440.08" width="10.44" height="5.27" fill="rgb(143,188,219)" />
<rect x="347.97" y="440.08" width="10.44" height="5.27" fill="rgb(233,132,115)" />
<rect x="358.36" y="440.08" width="10.44" height="5.27" fill="rgb(243,179,157)" />
<rect x="368.75" y="440.08" width="10.44" height="5.27" fill="rgb(243,170,146)" />
<rect x="379.14" y="440.08" width="10.44" height="5.27" fill="rgb(234,234,236)" />
<rect x="389.53" y="440.08" width="10.44" height="5.27" fill="rgb(226,230,235)" />
<rect x="399.92" y="440.08" width="10.44" height="5.27" fill="rgb(242,238,238)" />
<rect x="410.31" y="440.08" width="10.44" height="5.27" fill="rgb(234,234,236)" />
<rect x="420.70" y="440.08" width="10.44" height="5.27" fill="rgb(242,204,192)" />
<rect x="431.09" y="440.08" width="10.44" height="5.27" fill="rgb(234,234,236)" />
<rect x="316.80" y="445.30" width="10.44" height="5.27" fill="rgb(239,152,129)" />
<rect x="327.19" y="445.30" width="10.44" height="5.27" fill="rgb(218,227,234)" />
<rect x="337.58" y="445.30" width="10.44" height="5.27" fill="rgb(242,238,238)" />
<rect x="347.97" y="445.30" width="10.44" height="5.27" fill="rgb(242,221,215)" />
<rect x="358.36" y="445.30" width="10.44" height="5.27" fill="rgb(204,57,66)" />
<rect x="368.75" y="445.30" width="10.44" height="5.27" fill="rgb(242,204,192)" />
<rect x="379.14" y="445.30" width="10.44" height="5.27" fill="rgb(210,223,233)" />
<rect x="389.53" y="445.30" width="10.44" height="5.27" fill="rgb(179,209,229)" />
<rect x="399.92" y="445.30" width="10.44" height="5.27" fill="rgb(179,209,229)" />
<rect x="410.31" y="445.30" width="10.44" height="5.27" fill="rgb(242,238,238)" />
<rect x="420.70" y="445.30" width="10.44" height="5.27" fill="rgb(218,227,234)" />
<rect x="431.09" y="445.30" width="10.44" height="5.27" fill="rgb(133,182,216)" />
<rect x="316.80" y="450.52" width="10.44" height="5.27" fill="rgb(242,229,226)" />
<rect x="327.19" y="450.52" width="10.44" height="5.27" fill="rgb(210,223,233)" />
<rect x="337.58" y="450.52" width="10.44" height="5.27" fill="rgb(133,182,216)" />
<rect x="347.97" y="450.52" width="10.44" height="5.27" fill="rgb(243,196,180)" />
<rect x="358.36" y="450.52" width="10.44" height="5.27" fill="rgb(243,196,180)" />
<rect x="368.75" y="450.52" width="10.44" height="5.27" fill="rgb(230,122,109)" />
<rect x="379.14" y="450.52" width="10.44" height="5.27" fill="rgb(218,227,234)" />
<rect x="389.53" y="450.52" width="10.44" height="5.27" fill="rgb(234,234,236)" />
<rect x="399.92" y="450.52" width="10.44" height="5.27" fill="rgb(234,234,236)" />
<rect x="410.31" y="450.52" width="10.44" height="5.27" fill="rgb(163,201,226)" />
<rect x="420.70" y="450.52" width="10.44" height="5.27" fill="rgb(233,132,115)" />
<rect x="431.09" y="450.52" width="10.44" height="5.27" fill="rgb(163,201,226)" />
<rect x="316.80" y="455.74" width="10.44" height="5.27" fill="rgb(236,142,122)" />
<rect x="327.19" y="455.74" width="10.44" height="5.27" fill="rgb(163,201,226)" />
<rect x="337.58" y="455.74" width="10.44" height="5.27" fill="rgb(113,169,209)" />
<rect x="347.97" y="455.74" width="10.44" height="5.27" fill="rgb(243,196,180)" />
<rect x="358.36" y="455.74" width="10.44" height="5.27" fill="rgb(242,212,203)" />
<rect x="368.75" y="455.74" width="10.44" height="5.27" fill="rgb(243,179,157)" />
<rect x="379.14" y="455.74" width="10.44" height="5.27" fill="rgb(242,204,192)" />
<rect x="389.53" y="455.74" width="10.44" height="5.27" fill="rgb(242,212,203)" />
<rect x="399.92" y="455.74" width="10.44" height="5.27" fill="rgb(242,204,192)" />
<rect x="410.31" y="455.74" width="10.44" height="5.27" fill="rgb(163,201,226)" />
<rect x="420.70" y="455.74" width="10.44" height="5.27" fill="rgb(242,204,192)" />
<rect x="431.09" y="455.74" width="10.44" height="5.27" fill="rgb(163,201,226)" />
<rect x="316.80" y="460.96" width="10.44" height="5.27" fill="rgb(179,209,229)" />
<rect x="327.19" y="460.96" width="10.44" height="5.27" fill="rgb(243,170,146)" />
<rect x="337.58" y="460.96" width="10.44" height="5.27" fill="rgb(226,230,235)" />
<rect x="347.97" y="460.96" width="10.44" height="5.27" fill="rgb(242,204,192)" />
<rect x="358.36" y="460.96" width="10.44" height="5.27" fill="rgb(239,152,129)" />
<rect x="368.75" y="460.96" width="10.44" height="5.27" fill="rgb(226,113,102)" />
<rect x="379.14" y="460.96" width="10.44" height="5.27" fill="rgb(187,213,230)" />
<rect x="389.53" y="460.96" width="10.44" height="5.27" fill="rgb(218,227,234)" />
<rect x="399.92" y="460.96" width="10.44" height="5.27" fill="rgb(242,212,203)" />
<rect x="410.31" y="460.96" width="10.44" height="5.27" fill="rgb(179,209,229)" />
<rect x="420.70" y="460.96" width="10.44" height="5.27" fill="rgb(242,204,192)" />
<rect x="431.09" y="460.96" width="10.44" height="5.27" fill="rgb(133,182,216)" />
<rect x="316.80" y="466.18" width="10.44" height="5.27" fill="rgb(242,204,192)" />
<rect x="327.19" y="466.18" width="10.44" height="5.27" fill="rgb(203,220,232)" />
<rect x="337.58" y="466.18" width="10.44" height="5.27" fill="rgb(163,201,226)" />
<rect x="347.97" y="466.18" width="10.44" height="5.27" fill="rgb(243,196,180)" />
<rect x="358.36" y="466.18" width="10.44" height="5.27" fill="rgb(236,142,122)" />
<rect x="368.75" y="466.18" width="10.44" height="5.27" fill="rgb(230,122,109)" />
<rect x="379.14" y="466.18" width="10.44" height="5.27" fill="rgb(187,213,230)" />
<rect x="389.53" y="466.18" width="10.44" height="5.27" fill="rgb(187,213,230)" />
<rect x="399.92" y="466.18" width="10.44" height="5.27" fill="rgb(203,220,232)" />
<rect x="410.31" y="466.18" width="10.44" height="5.27" fill="rgb(187,213,230)" />
<rect x="420.70" y="466.18" width="10.44" height="5.27" fill="rgb(243,170,146)" />
<rect x="431.09" y="466.18" width="10.44" height="5.27" fill="rgb(226,230,235)" />
<rect x="316.80" y="471.40" width="10.44" height="5.27" fill="rgb(143,188,219)" />
<rect x="327.19" y="471.40" width="10.44" height="5.27" fill="rgb(143,188,219)" />
<rect x="337.58" y="471.40" width="10.44" height="5.27" fill="rgb(94,156,202)" />
<rect x="347.97" y="471.40" width="10.44" height="5.27" fill="rgb(242,229,226)" />
<rect x="358.36" y="471.40" width="10.44" height="5.27" fill="rgb(242,238,238)" />
<rect x="368.75" y="471.40" width="10.44" height="5.27" fill="rgb(242,229,226)" />
<rect x="379.14" y="471.40" width="10.44" height="5.27" fill="rgb(242,229,226)" />
<rect x="389.53" y="471.40" width="10.44" height="5.27" fill="rgb(239,152,129)" />
<rect x="399.92" y="471.40" width="10.44" height="5.27" fill="rgb(242,212,203)" />
<rect x="410.31" y="471.40" width="10.44" height="5.27" fill="rgb(223,103,95)" />
<rect x="420.70" y="471.40" width="10.44" height="5.27" fill="rgb(243,179,157)" />
<rect x="431.09" y="471.40" width="10.44" height="5.27" fill="rgb(242,221,215)" />
<rect x="316.80" y="476.62" width="10.44" height="5.27" fill="rgb(242,221,215)" />
<rect x="327.19" y="476.62" width="10.44" height="5.27" fill="rgb(234,234,236)" />
<rect x="337.58" y="476.62" width="10.44" height="5.27" fill="rgb(218,227,234)" />
<rect x="347.97" y="476.62" width="10.44" height="5.27" fill="rgb(242,229,226)" />
<rect x="358.36" y="476.62" width="10.44" height="5.27" fill="rgb(243,187,169)" />
<rect x="368.75" y="476.62" width="10.44" height="5.27" fill="rgb(200,49,61)" />
<rect x="379.14" y="476.62" width="10.44" height="5.27" fill="rgb(195,216,231)" />
<rect x="389.53" y="476.62" width="10.44" height="5.27" fill="rgb(210,223,233)" />
<rect x="399.92" y="476.62" width="10.44" height="5.27" fill="rgb(203,220,232)" />
<rect x="410.31" y="476.62" width="10.44" height="5.27" fill="rgb(195,216,231)" />
<rect x="420.70" y="476.62" width="10.44" height="5.27" fill="rgb(243,179,157)" />
<rect x="431.09" y="476.62" width="10.44" height="5.27" fill="rgb(113,169,209)" />
<rect x="316.80" y="481.84" width="10.44" height="5.27" fill="rgb(242,221,215)" />
<rect x="327.19" y="481.84" width="10.44" height="5.27" fill="rgb(195,216,231)" />
<rect x="337.58" y="481.84" width="10.44" height="5.27" fill="rgb(218,227,234)" />
<rect x="347.97" y="481.84" width="10.44" height="5.27" fill="rgb(239,152,129)" />
<rect x="358.36" y="481.84" width="10.44" height="5.27" fill="rgb(226,113,102)" />
<rect x="368.75" y="481.84" width="10.44" height="5.27" fill="rgb(243,179,157)" />
<rect x="379.14" y="481.84" width="10.44" height="5.27" fill="rgb(203,220,232)" />
<rect x="389.53" y="481.84" width="10.44" height="5.27" fill="rgb(172,205,228)" />
<rect x="399.92" y="481.84" width="10.44" height="5.27" fill="rgb(218,227,234)" />
<rect x="410.31" y="481.84" width="10.44" height="5.27" fill="rgb(226,230,235)" />
<rect x="420.70" y="481.84" width="10.44" height="5.27" fill="rgb(242,229,226)" />
<rect x="431.09" y="481.84" width="10.44" height="5.27" fill="rgb(133,182,216)" />
<rect x="316.80" y="487.06" width="10.44" height="5.27" fill="rgb(218,227,234)" />
<rect x="327.19" y="487.06" width="10.44" height="5.27" fill="rgb(195,216,231)" />
<rect x="337.58" y="487.06" width="10.44" height="5.27" fill="rgb(113,169,209)" />
<rect x="347.97" y="487.06" width="10.44" height="5.27" fill="rgb(239,152,129)" />
<rect x="358.36" y="487.06" width="10.44" height="5.27" fill="rgb(243,162,135)" />
<rect x="368.75" y="487.06" width="10.44" height="5.27" fill="rgb(243,179,157)" />
<rect x="379.14" y="487.06" width="10.44" height="5.27" fill="rgb(203,220,232)" />
<rect x="389.53" y="487.06" width="10.44" height="5.27" fill="rgb(243,196,180)" />
<rect x="399.92" y="487.06" width="10.44" height="5.27" fill="rgb(210,223,233)" />
<rect x="410.31" y="487.06" width="10.44" height="5.27" fill="rgb(242,204,192)" />
<rect x="420.70" y="487.06" width="10.44" height="5.27" fill="rgb(242,238,238)" />
<rect x="431.09" y="487.06" width="10.44" height="5.27" fill="rgb(218,227,234)" />
<rect x="316.80" y="492.28" width="10.44" height="5.27" fill="rgb(61,130,187)" />
<rect x="327.19" y="492.28" width="10.44" height="5.27" fill="rgb(195,216,231)" />
<rect x="337.58" y="492.28" width="10.44" height="5.27" fill="rgb(195,216,231)" />
<rect x="347.97" y="492.28" width="10.44" height="5.27" fill="rgb(242,221,215)" />
<rect x="358.36" y="492.28" width="10.44" height="5.27" fill="rgb(242,204,192)" />
<rect x="368.75" y="492.28" width="10.44" height="5.27" fill="rgb(243,187,169)" />
<rect x="379.14" y="492.28" width="10.44" height="5.27" fill="rgb(239,152,129)" />
<rect x="389.53" y="492.28" width="10.44" height="5.27" fill="rgb(242,229,226)" />
<rect x="399.92" y="492.28" width="10.44" height="5.27" fill="rgb(239,152,129)" />
<rect x="410.31" y="492.28" width="10.44" height="5.27" fill="rgb(195,216,231)" />
<rect x="420.70" y="492.28" width="10.44" height="5.27" fill="rgb(243,170,146)" />
<rect x="431.09" y="492.28" width="10.44" height="5.27" fill="rgb(234,234,236)" />
<rect x="316.80" y="497.50" width="10.44" height="5.27" fill="rgb(239,152,129)" />
<rect x="327.19" y="497.50" width="10.44" height="5.27" fill="rgb(195,216,231)" />
<rect x="337.58" y="497.50" width="10.44" height="5.27" fill="rgb(195,216,231)" />
<rect x="347.97" y="497.50" width="10.44" height="5.27" fill="rgb(243,170,146)" />
<rect x="358.36" y="497.50" width="10.44" height="5.27" fill="rgb(243,170,146)" />
<rect x="368.75" y="497.50" width="10.44" height="5.27" fill="rgb(243,170,146)" />
<rect x="379.14" y="497.50" width="10.44" height="5.27" fill="rgb(210,223,233)" />
<rect x="389.53" y="497.50" width="10.44" height="5.27" fill="rgb(172,205,228)" />
<rect x="399.92" y="497.50" width="10.44" height="5.27" fill="rgb(234,234,236)" />
<rect x="410.31" y="497.50" width="10.44" height="5.27" fill="rgb(210,223,233)" />
<rect x="420.70" y="497.50" width="10.44" height="5.27" fill="rgb(243,187,169)" />
<rect x="431.09" y="497.50" width="10.44" height="5.27" fill="rgb(163,201,226)" />
<rect x="316.80" y="502.72" width="10.44" height="5.27" fill="rgb(226,230,235)" />
<rect x="327.19" y="502.72" width="10.44" height="5.27" fill="rgb(195,216,231)" />
<rect x="337.58" y="502.72" width="10.44" height="5.27" fill="rgb(195,216,231)" />
<rect x="347.97" y="502.72" width="10.44" height="5.27" fill="rgb(243,162,135)" />
<rect x="358.36" y="502.72" width="10.44" height="5.27" fill="rgb(243,162,135)" />
<rect x="368.75" y="502.72" width="10.44" height="5.27" fill="rgb(213,74,76)" />
<rect x="379.14" y="502.72" width="10.44" height="5.27" fill="rgb(195,216,231)" />
<rect x="389.53" y="502.72" width="10.44" height="5.27" fill="rgb(195,216,231)" />
<rect x="399.92" y="502.72" width="10.44" height="5.27" fill="rgb(210,223,233)" />
<rect x="410.31" y="502.72" width="10.44" height="5.27" fill="rgb(195,216,231)" />
<rect x="420.70" y="502.72" width="10.44" height="5.27" fill="rgb(234,234,236)" />
<rect x="431.09" y="502.72" width="10.44" height="5.27" fill="rgb(195,216,231)" />
<rect x="316.80" y="507.94" width="10.44" height="5.27" fill="rgb(203,220,232)" />
<rect x="327.19" y="507.94" width="10.44" height="5.27" fill="rgb(243,196,180)" />
<rect x="337.58" y="507.94" width="10.44" height="5.27" fill="rgb(234,234,236)" />
<rect x="347.97" y="507.94" width="10.44" height="5.27" fill="rgb(243,162,135)" />
<rect x="358.36" y="507.94" width="10.44" height="5.27" fill="rgb(239,152,129)" />
<rect x="368.75" y="507.94" width="10.44" height="5.27" fill="rgb(243,162,135)" />
<rect x="379.14" y="507.94" width="10.44" height="5.27" fill="rgb(195,216,231)" />
<rect x="389.53" y="507.94" width="10.44" height="5.27" fill="rgb(226,230,235)" />
<rect x="399.92" y="507.94" width="10.44" height="5.27" fill="rgb(218,227,234)" />
<rect x="410.31" y="507.94" width="10.44" height="5.27" fill="rgb(226,230,235)" />
<rect x="420.70" y="507.94" width="10.44" height="5.27" fill="rgb(172,205,228)" />
<rect x="431.09" y="507.94" width="10.44" height="5.27" fill="rgb(172,205,228)" />
<text x="445.10" y="371.75" font-size="6.2" text-anchor="start" fill="#222" stroke="#222" stroke-width="0.08" font-weight="normal" font-style="normal" textLength="18.9" lengthAdjust="spacingAndGlyphs" >NOC4L</text>
<text x="445.10" y="376.97" font-size="6.2" text-anchor="start" fill="#222" stroke="#222" stroke-width="0.08" font-weight="normal" font-style="normal" textLength="21.3" lengthAdjust="spacingAndGlyphs" >DCTPP1</text>
<text x="445.10" y="382.19" font-size="6.2" text-anchor="start" fill="#222" stroke="#222" stroke-width="0.08" font-weight="normal" font-style="normal" textLength="17.7" lengthAdjust="spacingAndGlyphs" >FARSA</text>
<text x="445.10" y="387.41" font-size="6.2" text-anchor="start" fill="#222" stroke="#222" stroke-width="0.08" font-weight="normal" font-style="normal" textLength="23.5" lengthAdjust="spacingAndGlyphs" >SLC29A2</text>
<text x="445.10" y="392.63" font-size="6.2" text-anchor="start" fill="#222" stroke="#222" stroke-width="0.08" font-weight="normal" font-style="normal" textLength="23.3" lengthAdjust="spacingAndGlyphs" >SLC19A1</text>
<text x="445.10" y="397.85" font-size="6.2" text-anchor="start" fill="#222" stroke="#222" stroke-width="0.08" font-weight="normal" font-style="normal" textLength="18.1" lengthAdjust="spacingAndGlyphs" >PA2G4</text>
<text x="445.10" y="403.07" font-size="6.2" text-anchor="start" fill="#222" stroke="#222" stroke-width="0.08" font-weight="normal" font-style="normal" textLength="11.3" lengthAdjust="spacingAndGlyphs" >PHB</text>
<text x="445.10" y="408.29" font-size="6.2" text-anchor="start" fill="#222" stroke="#222" stroke-width="0.08" font-weight="normal" font-style="normal" textLength="18.1" lengthAdjust="spacingAndGlyphs" >DUSP2</text>
<text x="445.10" y="413.51" font-size="6.2" text-anchor="start" fill="#222" stroke="#222" stroke-width="0.08" font-weight="normal" font-style="normal" textLength="16.9" lengthAdjust="spacingAndGlyphs" >HSPD1</text>
<text x="445.10" y="418.73" font-size="6.2" text-anchor="start" fill="#222" stroke="#222" stroke-width="0.08" font-weight="normal" font-style="normal" textLength="22.9" lengthAdjust="spacingAndGlyphs" >MAP3K6</text>
<text x="445.10" y="423.95" font-size="6.2" text-anchor="start" fill="#222" stroke="#222" stroke-width="0.08" font-weight="normal" font-style="normal" textLength="15.7" lengthAdjust="spacingAndGlyphs" >SORD</text>
<text x="445.10" y="429.17" font-size="6.2" text-anchor="start" fill="#222" stroke="#222" stroke-width="0.08" font-weight="normal" font-style="normal" textLength="13.0" lengthAdjust="spacingAndGlyphs" >MYC</text>
<text x="445.10" y="434.39" font-size="6.2" text-anchor="start" fill="#222" stroke="#222" stroke-width="0.08" font-weight="normal" font-style="normal" textLength="22.2" lengthAdjust="spacingAndGlyphs" >RABEPK</text>
<text x="445.10" y="439.61" font-size="6.2" text-anchor="start" fill="#222" stroke="#222" stroke-width="0.08" font-weight="normal" font-style="normal" textLength="18.0" lengthAdjust="spacingAndGlyphs" >TBRG4</text>
<text x="445.10" y="444.83" font-size="6.2" text-anchor="start" fill="#222" stroke="#222" stroke-width="0.08" font-weight="normal" font-style="normal" textLength="14.9" lengthAdjust="spacingAndGlyphs" >CDK4</text>
<text x="445.10" y="450.05" font-size="6.2" text-anchor="start" fill="#222" stroke="#222" stroke-width="0.08" font-weight="normal" font-style="normal" textLength="15.1" lengthAdjust="spacingAndGlyphs" >PPAN</text>
<text x="445.10" y="455.27" font-size="6.2" text-anchor="start" fill="#222" stroke="#222" stroke-width="0.08" font-weight="normal" font-style="normal" textLength="12.0" lengthAdjust="spacingAndGlyphs" >SRM</text>
<text x="445.10" y="460.49" font-size="6.2" text-anchor="start" fill="#222" stroke="#222" stroke-width="0.08" font-weight="normal" font-style="normal" textLength="16.8" lengthAdjust="spacingAndGlyphs" >HSPE1</text>
<text x="445.10" y="465.71" font-size="6.2" text-anchor="start" fill="#222" stroke="#222" stroke-width="0.08" font-weight="normal" font-style="normal" textLength="14.1" lengthAdjust="spacingAndGlyphs" >RRP9</text>
<text x="445.10" y="470.93" font-size="6.2" text-anchor="start" fill="#222" stroke="#222" stroke-width="0.08" font-weight="normal" font-style="normal" textLength="13.0" lengthAdjust="spacingAndGlyphs" >BYSL</text>
<text x="445.10" y="476.15" font-size="6.2" text-anchor="start" fill="#222" stroke="#222" stroke-width="0.08" font-weight="normal" font-style="normal" textLength="23.4" lengthAdjust="spacingAndGlyphs" >TMEM97</text>
<text x="445.10" y="481.37" font-size="6.2" text-anchor="start" fill="#222" stroke="#222" stroke-width="0.08" font-weight="normal" font-style="normal" textLength="20.3" lengthAdjust="spacingAndGlyphs" >GRWD1</text>
<text x="445.10" y="486.59" font-size="6.2" text-anchor="start" fill="#222" stroke="#222" stroke-width="0.08" font-weight="normal" font-style="normal" textLength="22.2" lengthAdjust="spacingAndGlyphs" >EXOSC5</text>
<text x="445.10" y="491.81" font-size="6.2" text-anchor="start" fill="#222" stroke="#222" stroke-width="0.08" font-weight="normal" font-style="normal" textLength="13.0" lengthAdjust="spacingAndGlyphs" >UNG</text>
<text x="445.10" y="497.03" font-size="6.2" text-anchor="start" fill="#222" stroke="#222" stroke-width="0.08" font-weight="normal" font-style="normal" textLength="18.0" lengthAdjust="spacingAndGlyphs" >TCOF1</text>
<text x="445.10" y="502.25" font-size="6.2" text-anchor="start" fill="#222" stroke="#222" stroke-width="0.08" font-weight="normal" font-style="normal" textLength="19.9" lengthAdjust="spacingAndGlyphs" >MRTO4</text>
<text x="445.10" y="507.47" font-size="6.2" text-anchor="start" fill="#222" stroke="#222" stroke-width="0.08" font-weight="normal" font-style="normal" textLength="18.4" lengthAdjust="spacingAndGlyphs" >NOP16</text>
<text x="445.10" y="512.69" font-size="6.2" text-anchor="start" fill="#222" stroke="#222" stroke-width="0.08" font-weight="normal" font-style="normal" textLength="16.8" lengthAdjust="spacingAndGlyphs" >RRP12</text>
<line x1="314.50" y1="367.00" x2="314.50" y2="513.30" stroke="#333" stroke-width="1.1" />
<text x="306.40" y="435.29" font-size="7.8" text-anchor="middle" fill="#333" stroke="#333" stroke-width="0.05" font-weight="normal" font-style="normal" transform="rotate(-90 306.40 432.60)" textLength="48" lengthAdjust="spacingAndGlyphs" >MYC-signature</text>
<line x1="318.30" y1="357.50" x2="346.47" y2="357.50" stroke="#555" stroke-width="1.2" />
<text x="332.38" y="352.38" font-size="6.6" text-anchor="middle" fill="#333" stroke="#333" stroke-width="0.08" font-weight="normal" font-style="normal" >WT</text>
<text x="322.00" y="365.31" font-size="6.4" text-anchor="middle" fill="#333" stroke="#333" stroke-width="0.08" font-weight="normal" font-style="normal" >1</text>
<text x="332.38" y="365.31" font-size="6.4" text-anchor="middle" fill="#333" stroke="#333" stroke-width="0.08" font-weight="normal" font-style="normal" >2</text>
<text x="342.78" y="365.31" font-size="6.4" text-anchor="middle" fill="#333" stroke="#333" stroke-width="0.08" font-weight="normal" font-style="normal" >3</text>
<line x1="349.47" y1="357.50" x2="377.64" y2="357.50" stroke="#555" stroke-width="1.2" />
<text x="363.56" y="352.38" font-size="6.6" text-anchor="middle" fill="#333" stroke="#333" stroke-width="0.08" font-weight="normal" font-style="normal" >K6-KO</text>
<text x="353.17" y="365.31" font-size="6.4" text-anchor="middle" fill="#333" stroke="#333" stroke-width="0.08" font-weight="normal" font-style="normal" >1</text>
<text x="363.56" y="365.31" font-size="6.4" text-anchor="middle" fill="#333" stroke="#333" stroke-width="0.08" font-weight="normal" font-style="normal" >2</text>
<text x="373.94" y="365.31" font-size="6.4" text-anchor="middle" fill="#333" stroke="#333" stroke-width="0.08" font-weight="normal" font-style="normal" >3</text>
<line x1="380.64" y1="357.50" x2="408.81" y2="357.50" stroke="#555" stroke-width="1.2" />
<text x="394.73" y="352.38" font-size="6.6" text-anchor="middle" fill="#333" stroke="#333" stroke-width="0.08" font-weight="normal" font-style="normal" >N2-KO</text>
<text x="384.34" y="365.31" font-size="6.4" text-anchor="middle" fill="#333" stroke="#333" stroke-width="0.08" font-weight="normal" font-style="normal" >1</text>
<text x="394.73" y="365.31" font-size="6.4" text-anchor="middle" fill="#333" stroke="#333" stroke-width="0.08" font-weight="normal" font-style="normal" >2</text>
<text x="405.12" y="365.31" font-size="6.4" text-anchor="middle" fill="#333" stroke="#333" stroke-width="0.08" font-weight="normal" font-style="normal" >3</text>
<line x1="411.81" y1="357.50" x2="439.98" y2="357.50" stroke="#555" stroke-width="1.2" />
<text x="425.89" y="352.38" font-size="6.6" text-anchor="middle" fill="#333" stroke="#333" stroke-width="0.08" font-weight="normal" font-style="normal" >DKO</text>
<text x="415.50" y="365.31" font-size="6.4" text-anchor="middle" fill="#333" stroke="#333" stroke-width="0.08" font-weight="normal" font-style="normal" >1</text>
<text x="425.89" y="365.31" font-size="6.4" text-anchor="middle" fill="#333" stroke="#333" stroke-width="0.08" font-weight="normal" font-style="normal" >2</text>
<text x="436.29" y="365.31" font-size="6.4" text-anchor="middle" fill="#333" stroke="#333" stroke-width="0.08" font-weight="normal" font-style="normal" >3</text>
<rect x="489.50" y="370.40" width="9.30" height="129.60" fill="url(#zs)" />
<text x="503.00" y="391.60" font-size="6.1" text-anchor="start" fill="#333" stroke="#333" stroke-width="0.08" font-weight="normal" font-style="normal" >2</text>
<text x="503.00" y="414.50" font-size="6.1" text-anchor="start" fill="#333" stroke="#333" stroke-width="0.08" font-weight="normal" font-style="normal" >1</text>
<text x="503.00" y="437.80" font-size="6.1" text-anchor="start" fill="#333" stroke="#333" stroke-width="0.08" font-weight="normal" font-style="normal" >0</text>
<text x="503.00" y="460.90" font-size="6.1" text-anchor="start" fill="#333" stroke="#333" stroke-width="0.08" font-weight="normal" font-style="normal" >−1</text>
<text x="503.00" y="484.10" font-size="6.1" text-anchor="start" fill="#333" stroke="#333" stroke-width="0.08" font-weight="normal" font-style="normal" >−2</text>
<text x="483.50" y="429.24" font-size="6.5" text-anchor="middle" fill="#333" stroke="#333" stroke-width="0.08" font-weight="normal" font-style="normal" transform="rotate(-90 483.50 427.00)" >Z-score</text>
<defs><filter id="bl" x="-50%" y="-50%" width="200%" height="200%"><feGaussianBlur stdDeviation="0.7"/></filter><filter id="bl2" x="-50%" y="-50%" width="200%" height="200%"><feGaussianBlur stdDeviation="1.6"/></filter><clipPath id="s1"><rect x="58.6" y="623" width="67.8" height="15.9"/></clipPath><clipPath id="s2"><rect x="58.6" y="640" width="67.8" height="13.4"/></clipPath><clipPath id="s3"><rect x="58.6" y="654.8" width="67.8" height="10.1"/></clipPath></defs>
<rect x="58.60" y="623.00" width="67.80" height="15.90" fill="#eeeeee" />
<rect x="58.60" y="640.00" width="67.80" height="13.40" fill="#ebebeb" />
<rect x="58.60" y="654.80" width="67.80" height="10.10" fill="#ececec" />
<text x="66.30" y="607.35" font-size="6.8" text-anchor="middle" fill="#222" stroke="#222" stroke-width="0.05" font-weight="normal" font-style="normal" transform="rotate(-90 66.30 605.00)" textLength="32.5" lengthAdjust="spacingAndGlyphs" >Patient #1</text>
<text x="76.80" y="607.35" font-size="6.8" text-anchor="middle" fill="#222" stroke="#222" stroke-width="0.05" font-weight="normal" font-style="normal" transform="rotate(-90 76.80 605.00)" textLength="32.5" lengthAdjust="spacingAndGlyphs" >Patient #2</text>
<text x="87.80" y="607.35" font-size="6.8" text-anchor="middle" fill="#222" stroke="#222" stroke-width="0.05" font-weight="normal" font-style="normal" transform="rotate(-90 87.80 605.00)" textLength="32.5" lengthAdjust="spacingAndGlyphs" >Patient #3</text>
<text x="98.30" y="607.35" font-size="6.8" text-anchor="middle" fill="#222" stroke="#222" stroke-width="0.05" font-weight="normal" font-style="normal" transform="rotate(-90 98.30 605.00)" textLength="32.5" lengthAdjust="spacingAndGlyphs" >Patient #4</text>
<text x="109.30" y="607.35" font-size="6.8" text-anchor="middle" fill="#222" stroke="#222" stroke-width="0.05" font-weight="normal" font-style="normal" transform="rotate(-90 109.30 605.00)" textLength="32.5" lengthAdjust="spacingAndGlyphs" >Patient #5</text>
<text x="120.30" y="607.35" font-size="6.8" text-anchor="middle" fill="#222" stroke="#222" stroke-width="0.05" font-weight="normal" font-style="normal" transform="rotate(-90 120.30 605.00)" textLength="32.5" lengthAdjust="spacingAndGlyphs" >Patient #6</text>
<g clip-path="url(#s1)"><g filter="url(#bl)">
<rect x="82.05" y="628.4" width="9.5" height="6.2" rx="2.5" fill="#050505"/>
<rect x="92.89999999999999" y="628.5" width="8.8" height="6" rx="2.5" fill="#202020"/>
<rect x="103.65" y="628.6" width="9.5" height="5.8" rx="2.5" fill="#000"/>
<rect x="115.3" y="627.5" width="9" height="8" rx="2.5" fill="#050505"/>
<rect x="115.5" y="623.5" width="8.5" height="6" rx="2" fill="#222"/>
<rect x="93.5" y="627.5" width="7.5" height="2.5" rx="1" fill="#666"/>
<rect x="115.5" y="634" width="8.5" height="4" rx="1.5" fill="#777"/>
</g></g>
<g clip-path="url(#s2)"><g filter="url(#bl)">
<rect x="60.8" y="641" width="8.6" height="12" rx="2.5" fill="#444"/>
<rect x="61.5" y="642" width="7" height="7" rx="2" fill="#222"/>
<rect x="72" y="641.5" width="7.5" height="11" rx="2.5" fill="#888"/>
<rect x="93.5" y="642" width="8" height="9" rx="3" fill="#dcdcdc"/>
<rect x="83" y="642" width="8" height="9" rx="3" fill="#e0e0e0"/>
</g></g>
<circle cx="88.90" cy="644.70" r="1.10" fill="#111" fill-opacity="1" />
<g clip-path="url(#s3)"><g filter="url(#bl)">
<rect x="61.5" y="657.0" width="9.4" height="5" rx="2.2" fill="#252525"/>
<rect x="62.5" y="656.2" width="7.4" height="1.6" rx="0.8" fill="#999"/>
<rect x="72.5" y="657.0" width="8" height="5" rx="2.2" fill="#252525"/>
<rect x="73.5" y="656.2" width="6" height="1.6" rx="0.8" fill="#999"/>
<rect x="84.0" y="657.3" width="8" height="4.4" rx="2.2" fill="#333"/>
<rect x="85.0" y="656.2" width="6" height="1.6" rx="0.8" fill="#999"/>
<rect x="94.95" y="657.0" width="8.5" height="5" rx="2.2" fill="#252525"/>
<rect x="95.95" y="656.2" width="6.5" height="1.6" rx="0.8" fill="#999"/>
<rect x="105.0" y="656.75" width="9" height="5.5" rx="2.2" fill="#0a0a0a"/>
<rect x="106.0" y="656.2" width="7" height="1.6" rx="0.8" fill="#999"/>
<rect x="116.75" y="657.0" width="7.5" height="5" rx="2.2" fill="#2a2a2a"/>
<rect x="117.75" y="656.2" width="5.5" height="1.6" rx="0.8" fill="#999"/>
</g></g>
<line x1="55.50" y1="637.50" x2="58.50" y2="637.50" stroke="#222" stroke-width="0.9" />
<text x="53.70" y="640.18" font-size="6.6" text-anchor="end" fill="#222" stroke="#222" stroke-width="0.08" font-weight="normal" font-style="normal" >80</text>
<line x1="55.50" y1="643.50" x2="58.50" y2="643.50" stroke="#222" stroke-width="0.9" />
<text x="53.70" y="645.58" font-size="6.6" text-anchor="end" fill="#222" stroke="#222" stroke-width="0.08" font-weight="normal" font-style="normal" >70</text>
<line x1="55.50" y1="664.50" x2="58.50" y2="664.50" stroke="#222" stroke-width="0.9" />
<text x="53.70" y="666.68" font-size="6.6" text-anchor="end" fill="#222" stroke="#222" stroke-width="0.08" font-weight="normal" font-style="normal" >115</text>
<text x="130.50" y="634.68" font-size="6.6" text-anchor="start" fill="#222" stroke="#222" stroke-width="0.08" font-weight="normal" font-style="normal" >NOTCH2(TMIC)</text>
<text x="130.50" y="647.88" font-size="6.6" text-anchor="start" fill="#222" stroke="#222" stroke-width="0.08" font-weight="normal" font-style="normal" >KLHL6</text>
<text x="130.50" y="662.08" font-size="6.6" text-anchor="start" fill="#222" stroke="#222" stroke-width="0.08" font-weight="normal" font-style="normal" >VINCULIN</text>
<line x1="224.50" y1="580.00" x2="224.50" y2="658.50" stroke="#222" stroke-width="1.1" />
<line x1="224.00" y1="642.50" x2="301.30" y2="642.50" stroke="#222" stroke-width="1.1" />
<line x1="221.50" y1="582.50" x2="224.50" y2="582.50" stroke="#222" stroke-width="0.9" />
<text x="218.50" y="585.28" font-size="6.6" text-anchor="end" fill="#222" stroke="#222" stroke-width="0.08" font-weight="normal" font-style="normal" transform="translate(218.50 0) scale(1.05 1) translate(-218.50 0)" >2.0</text>
<line x1="221.50" y1="597.50" x2="224.50" y2="597.50" stroke="#222" stroke-width="0.9" />
<text x="218.50" y="600.28" font-size="6.6" text-anchor="end" fill="#222" stroke="#222" stroke-width="0.08" font-weight="normal" font-style="normal" transform="translate(218.50 0) scale(1.05 1) translate(-218.50 0)" >1.5</text>
<line x1="221.50" y1="612.50" x2="224.50" y2="612.50" stroke="#222" stroke-width="0.9" />
<text x="218.50" y="615.28" font-size="6.6" text-anchor="end" fill="#222" stroke="#222" stroke-width="0.08" font-weight="normal" font-style="normal" transform="translate(218.50 0) scale(1.05 1) translate(-218.50 0)" >1.0</text>
<line x1="221.50" y1="627.50" x2="224.50" y2="627.50" stroke="#222" stroke-width="0.9" />
<text x="218.50" y="630.28" font-size="6.6" text-anchor="end" fill="#222" stroke="#222" stroke-width="0.08" font-weight="normal" font-style="normal" transform="translate(218.50 0) scale(1.05 1) translate(-218.50 0)" >0.5</text>
<line x1="221.50" y1="642.50" x2="224.50" y2="642.50" stroke="#222" stroke-width="0.9" />
<text x="218.50" y="645.28" font-size="6.6" text-anchor="end" fill="#222" stroke="#222" stroke-width="0.08" font-weight="normal" font-style="normal" transform="translate(218.50 0) scale(1.05 1) translate(-218.50 0)" >0.0</text>
<line x1="221.50" y1="657.50" x2="224.50" y2="657.50" stroke="#222" stroke-width="0.9" />
<text x="218.50" y="660.28" font-size="6.6" text-anchor="end" fill="#222" stroke="#222" stroke-width="0.08" font-weight="normal" font-style="normal" transform="translate(218.50 0) scale(1.05 1) translate(-218.50 0)" >−0.5</text>
<line x1="247.50" y1="642.00" x2="247.50" y2="644.50" stroke="#222" stroke-width="0.9" />
<text x="245.95" y="653.67" font-size="6.3" text-anchor="middle" fill="#222" stroke="#222" stroke-width="0.08" font-weight="normal" font-style="normal" transform="rotate(-45 245.95 651.50)" >0.5</text>
<line x1="273.50" y1="642.00" x2="273.50" y2="644.50" stroke="#222" stroke-width="0.9" />
<text x="272.20" y="653.67" font-size="6.3" text-anchor="middle" fill="#222" stroke="#222" stroke-width="0.08" font-weight="normal" font-style="normal" transform="rotate(-45 272.20 651.50)" >1.0</text>
<line x1="299.50" y1="642.00" x2="299.50" y2="644.50" stroke="#222" stroke-width="0.9" />
<text x="298.45" y="653.67" font-size="6.3" text-anchor="middle" fill="#222" stroke="#222" stroke-width="0.08" font-weight="normal" font-style="normal" transform="rotate(-45 298.45 651.50)" >1.5</text>
<circle cx="228.80" cy="590.50" r="1.80" fill="#1a3a6a" fill-opacity="1" />
<circle cx="225.50" cy="607.00" r="1.80" fill="#1a3a6a" fill-opacity="1" />
<circle cx="246.30" cy="642.00" r="1.80" fill="#1a3a6a" fill-opacity="1" />
<circle cx="252.50" cy="642.00" r="1.80" fill="#1a3a6a" fill-opacity="1" />
<circle cx="287.00" cy="642.00" r="1.80" fill="#1a3a6a" fill-opacity="1" />
<circle cx="288.80" cy="642.00" r="1.80" fill="#1a3a6a" fill-opacity="1" />
<line x1="226.30" y1="608.80" x2="289.50" y2="649.50" stroke="#222" stroke-width="0.9" />
<text x="243.80" y="611.30" font-size="5.8" text-anchor="start" fill="#222" stroke="#222" stroke-width="0.08" font-weight="normal" font-style="normal" >r = −0.7503</text>
<text x="244.50" y="617.80" font-size="5.8" text-anchor="start" fill="#222" stroke="#222" stroke-width="0.08" font-weight="normal" font-style="normal" ><tspan font-style="italic">P</tspan> = .0429</text>
<text x="188.50" y="622.23" font-size="8.2" text-anchor="middle" fill="#222" stroke="#222" stroke-width="0.08" font-weight="normal" font-style="normal" transform="rotate(-90 188.50 619.40)" textLength="50.9" lengthAdjust="spacingAndGlyphs" >Relative intensity</text>
<text x="198.00" y="622.83" font-size="8.2" text-anchor="middle" fill="#222" stroke="#222" stroke-width="0.08" font-weight="normal" font-style="normal" transform="rotate(-90 198.00 620.00)" textLength="24.8" lengthAdjust="spacingAndGlyphs" >(KLHL6)</text>
<text x="262.55" y="669.83" font-size="8.2" text-anchor="middle" fill="#222" stroke="#222" stroke-width="0.08" font-weight="normal" font-style="normal" textLength="51.1" lengthAdjust="spacingAndGlyphs" >Relative intensity</text>
<text x="262.30" y="680.13" font-size="8.2" text-anchor="middle" fill="#222" stroke="#222" stroke-width="0.08" font-weight="normal" font-style="normal" textLength="47" lengthAdjust="spacingAndGlyphs" >(NOTCH2 TMIC)</text>
<line x1="358.50" y1="587.00" x2="358.50" y2="657.50" stroke="#222" stroke-width="1.1" />
<line x1="357.50" y1="657.50" x2="457.50" y2="657.50" stroke="#222" stroke-width="1.1" />
<line x1="355.50" y1="654.50" x2="358.00" y2="654.50" stroke="#222" stroke-width="0.9" />
<text x="353.50" y="656.67" font-size="6.3" text-anchor="end" fill="#222" stroke="#222" stroke-width="0.08" font-weight="normal" font-style="normal" >0</text>
<line x1="355.50" y1="638.50" x2="358.00" y2="638.50" stroke="#222" stroke-width="0.9" />
<text x="353.50" y="640.36" font-size="6.3" text-anchor="end" fill="#222" stroke="#222" stroke-width="0.08" font-weight="normal" font-style="normal" >25</text>
<line x1="355.50" y1="621.50" x2="358.00" y2="621.50" stroke="#222" stroke-width="0.9" />
<text x="353.50" y="624.05" font-size="6.3" text-anchor="end" fill="#222" stroke="#222" stroke-width="0.08" font-weight="normal" font-style="normal" >50</text>
<line x1="355.50" y1="605.50" x2="358.00" y2="605.50" stroke="#222" stroke-width="0.9" />
<text x="353.50" y="607.74" font-size="6.3" text-anchor="end" fill="#222" stroke="#222" stroke-width="0.08" font-weight="normal" font-style="normal" >75</text>
<line x1="355.50" y1="589.50" x2="358.00" y2="589.50" stroke="#222" stroke-width="0.9" />
<text x="353.50" y="591.42" font-size="6.3" text-anchor="end" fill="#222" stroke="#222" stroke-width="0.08" font-weight="normal" font-style="normal" >100</text>
<rect x="366.30" y="589.25" width="40.00" height="2.56" fill="#40b4e6" />
<rect x="366.30" y="591.21" width="40.00" height="13.00" fill="#12427e" />
<rect x="366.30" y="603.61" width="40.00" height="15.61" fill="#38a83a" />
<rect x="366.30" y="618.61" width="40.00" height="13.65" fill="#0d5e48" />
<rect x="366.30" y="631.66" width="40.00" height="9.08" fill="#e8037c" />
<rect x="366.30" y="640.14" width="40.00" height="14.36" fill="#c4002a" />
<rect x="411.30" y="589.25" width="40.70" height="6.47" fill="#12427e" />
<rect x="411.30" y="595.12" width="40.70" height="9.08" fill="#38a83a" />
<rect x="411.30" y="603.61" width="40.70" height="1.90" fill="#0d5e48" />
<rect x="411.30" y="604.91" width="40.70" height="28.66" fill="#e8037c" />
<rect x="411.30" y="632.97" width="40.70" height="21.53" fill="#c4002a" />
<line x1="386.50" y1="657.50" x2="386.50" y2="660.50" stroke="#222" stroke-width="0.9" />
<text x="386.30" y="669.67" font-size="6.3" text-anchor="middle" fill="#222" stroke="#222" stroke-width="0.08" font-weight="normal" font-style="normal" >KLHL6 WT</text>
<line x1="431.50" y1="657.50" x2="431.50" y2="660.50" stroke="#222" stroke-width="0.9" />
<text x="431.30" y="669.67" font-size="6.3" text-anchor="middle" fill="#222" stroke="#222" stroke-width="0.08" font-weight="normal" font-style="normal" >KLHL6 MUT</text>
<text x="334.30" y="624.93" font-size="8.2" text-anchor="middle" fill="#222" stroke="#222" stroke-width="0.08" font-weight="normal" font-style="normal" transform="rotate(-90 334.30 622.10)" textLength="30.2" lengthAdjust="spacingAndGlyphs" >% Patients</text>
<text x="460.70" y="600.62" font-size="7.0" text-anchor="start" fill="#333" stroke="#333" stroke-width="0.04" font-weight="normal" font-style="normal" textLength="19.8" lengthAdjust="spacingAndGlyphs" >Cluster</text>
<rect x="466.00" y="604.10" width="6.20" height="7.18" fill="#40b4e6" />
<text x="477.00" y="609.80" font-size="6.1" text-anchor="middle" fill="#222" stroke="#222" stroke-width="0.08" font-weight="normal" font-style="normal" >0</text>
<rect x="466.00" y="611.28" width="6.20" height="7.18" fill="#12427e" />
<text x="477.00" y="616.98" font-size="6.1" text-anchor="middle" fill="#222" stroke="#222" stroke-width="0.08" font-weight="normal" font-style="normal" >1</text>
<rect x="466.00" y="618.46" width="6.20" height="7.18" fill="#38a83a" />
<text x="477.00" y="624.16" font-size="6.1" text-anchor="middle" fill="#222" stroke="#222" stroke-width="0.08" font-weight="normal" font-style="normal" >2</text>
<rect x="466.00" y="625.64" width="6.20" height="7.18" fill="#0d5e48" />
<text x="477.00" y="631.34" font-size="6.1" text-anchor="middle" fill="#222" stroke="#222" stroke-width="0.08" font-weight="normal" font-style="normal" >3</text>
<rect x="466.00" y="632.82" width="6.20" height="7.18" fill="#e8037c" />
<text x="477.00" y="638.52" font-size="6.1" text-anchor="middle" fill="#222" stroke="#222" stroke-width="0.08" font-weight="normal" font-style="normal" >4</text>
<rect x="466.00" y="640.00" width="6.20" height="7.18" fill="#c4002a" />
<text x="477.00" y="645.70" font-size="6.1" text-anchor="middle" fill="#222" stroke="#222" stroke-width="0.08" font-weight="normal" font-style="normal" >5</text></svg></body></html>
